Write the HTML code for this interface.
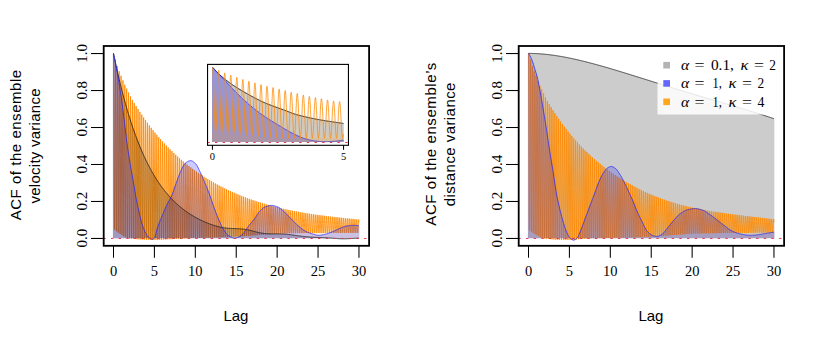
<!DOCTYPE html>
<html><head><meta charset="utf-8"><title>ACF plots</title>
<style>
html,body{margin:0;padding:0;background:#fff}
svg{display:block}
.ax{font-family:"Liberation Serif","DejaVu Serif",serif;font-size:14.5px;fill:#000}
.lab{font-family:"Liberation Sans","DejaVu Sans",sans-serif;font-size:15px;fill:#000}
</style></head><body>
<svg width="830" height="338" viewBox="0 0 830 338">
<rect width="830" height="338" fill="#fff"/>
<path d="M113.5 53.4 L113.66 65.66 L113.81 98.12 L113.97 142.12 L114.13 185.93 L114.29 217.93 L114.44 229.7 L114.6 218.28 L114.76 186.92 L114.91 144.17 L115.07 101.61 L115.23 70.69 L115.39 59.72 L115.54 71.62 L115.7 103.2 L115.86 146.01 L116.01 188.64 L116.17 219.78 L116.33 231.25 L116.49 220.16 L116.64 189.69 L116.8 148.14 L116.96 106.76 L117.11 76.69 L117.27 65.98 L117.43 77.5 L117.59 108.14 L117.74 149.71 L117.9 191.14 L118.06 221.44 L118.21 232.62 L118.37 221.85 L118.53 192.17 L118.69 151.66 L118.84 111.26 L119 81.84 L119.16 71.29 L119.31 82.44 L119.47 112.28 L119.63 152.84 L119.79 193.31 L119.94 222.94 L120.1 233.9 L120.26 223.39 L120.41 194.35 L120.57 154.67 L120.73 115.06 L120.89 86.18 L121.04 75.78 L121.2 86.66 L121.36 115.89 L121.51 155.66 L121.67 195.35 L121.83 224.42 L121.99 235.2 L122.14 224.93 L122.3 196.5 L122.46 157.65 L122.61 118.88 L122.77 90.61 L122.93 80.42 L123.09 91.05 L123.24 119.62 L123.4 158.52 L123.56 197.35 L123.71 225.79 L123.87 236.34 L124.03 226.3 L124.19 198.49 L124.34 160.45 L124.5 122.47 L124.66 94.75 L124.81 84.72 L124.97 95.07 L125.13 123.01 L125.29 161.07 L125.44 199.1 L125.6 226.97 L125.76 237.32 L125.91 227.5 L126.07 200.24 L126.23 162.96 L126.39 125.7 L126.54 98.49 L126.7 88.62 L126.86 98.72 L127.01 126.07 L127.17 163.34 L127.33 200.57 L127.49 227.86 L127.64 237.98 L127.8 228.36 L127.96 201.7 L128.11 165.23 L128.27 128.8 L128.43 102.2 L128.59 92.55 L128.74 102.4 L128.9 129.1 L129.06 165.47 L129.21 201.8 L129.37 228.43 L129.53 238.33 L129.69 228.96 L129.84 202.95 L130 167.38 L130.16 131.84 L130.31 105.87 L130.47 96.42 L130.63 105.99 L130.79 132 L130.94 167.46 L131.1 202.9 L131.26 228.9 L131.41 238.58 L131.57 229.45 L131.73 204.08 L131.89 169.34 L132.04 134.6 L132.2 109.19 L132.36 99.91 L132.51 109.21 L132.67 134.58 L132.83 169.23 L132.99 203.88 L133.14 229.32 L133.3 238.81 L133.46 229.9 L133.61 205.07 L133.77 171.06 L133.93 137.03 L134.09 112.11 L134.24 102.98 L134.4 112.06 L134.56 136.89 L134.71 170.82 L134.87 204.77 L135.03 229.71 L135.19 239.03 L135.34 230.33 L135.5 206.04 L135.66 172.74 L135.81 139.42 L135.97 115.01 L136.13 106.04 L136.29 114.91 L136.44 139.2 L136.6 172.41 L136.76 205.65 L136.91 230.08 L137.07 239.22 L137.23 230.73 L137.39 206.96 L137.54 174.37 L137.7 141.74 L137.86 117.82 L138.01 109.03 L138.17 117.68 L138.33 141.44 L138.49 173.94 L138.64 206.49 L138.8 230.42 L138.96 239.39 L139.11 231.09 L139.27 207.85 L139.43 175.95 L139.59 143.99 L139.74 120.57 L139.9 111.93 L140.06 120.37 L140.21 143.62 L140.37 175.42 L140.53 207.28 L140.69 230.72 L140.84 239.52 L141 231.42 L141.16 208.68 L141.31 177.46 L141.47 146.18 L141.63 123.23 L141.79 114.75 L141.94 123 L142.1 145.73 L142.26 176.85 L142.41 208.03 L142.57 230.98 L142.73 239.62 L142.89 231.71 L143.04 209.47 L143.2 178.92 L143.36 148.3 L143.51 125.83 L143.67 117.51 L143.83 125.55 L143.99 147.78 L144.14 178.23 L144.3 208.75 L144.46 231.23 L144.61 239.7 L144.77 231.99 L144.93 210.23 L145.09 180.34 L145.24 150.37 L145.4 128.35 L145.56 120.19 L145.71 128.04 L145.87 149.77 L146.03 179.57 L146.19 209.45 L146.34 231.47 L146.5 239.78 L146.66 232.25 L146.81 210.97 L146.97 181.72 L147.13 152.37 L147.29 130.81 L147.44 122.8 L147.6 130.46 L147.76 151.72 L147.91 180.88 L148.07 210.13 L148.23 231.69 L148.39 239.85 L148.54 232.5 L148.7 211.69 L148.86 183.06 L149.01 154.33 L149.17 133.2 L149.33 125.34 L149.49 132.82 L149.64 153.61 L149.8 182.14 L149.96 210.78 L150.11 231.9 L150.27 239.9 L150.43 232.73 L150.59 212.37 L150.74 184.35 L150.9 156.23 L151.06 135.53 L151.21 127.81 L151.37 135.11 L151.53 155.45 L151.69 183.37 L151.84 211.41 L152 232.09 L152.16 239.94 L152.31 232.93 L152.47 213.02 L152.63 185.61 L152.79 158.07 L152.94 137.8 L153.1 130.23 L153.26 137.35 L153.41 157.24 L153.57 184.56 L153.73 212 L153.89 232.26 L154.04 239.96 L154.2 233.12 L154.36 213.64 L154.51 186.82 L154.67 159.86 L154.83 140.01 L154.99 132.58 L155.14 139.53 L155.3 158.97 L155.46 185.7 L155.61 212.56 L155.77 232.39 L155.93 239.95 L156.09 233.27 L156.24 214.23 L156.4 187.98 L156.56 161.6 L156.71 142.16 L156.87 134.87 L157.03 141.65 L157.19 160.66 L157.34 186.8 L157.5 213.08 L157.66 232.5 L157.81 239.9 L157.97 233.39 L158.13 214.77 L158.29 189.09 L158.44 163.28 L158.6 144.25 L158.76 137.1 L158.91 143.71 L159.07 162.29 L159.23 187.86 L159.39 213.57 L159.54 232.57 L159.7 239.83 L159.86 233.48 L160.01 215.28 L160.17 190.17 L160.33 164.91 L160.49 146.29 L160.64 139.27 L160.8 145.72 L160.96 163.88 L161.11 188.88 L161.27 214.03 L161.43 232.63 L161.59 239.74 L161.74 233.54 L161.9 215.75 L162.06 191.2 L162.21 166.5 L162.37 148.27 L162.53 141.39 L162.69 147.68 L162.84 165.43 L163 189.87 L163.16 214.47 L163.31 232.66 L163.47 239.64 L163.63 233.59 L163.79 216.21 L163.94 192.2 L164.1 168.04 L164.26 150.2 L164.41 143.45 L164.57 149.58 L164.73 166.93 L164.89 190.83 L165.04 214.88 L165.2 232.69 L165.36 239.53 L165.51 233.63 L165.67 216.64 L165.83 193.17 L165.99 169.53 L166.14 152.08 L166.3 145.46 L166.46 151.44 L166.61 168.39 L166.77 191.75 L166.93 215.28 L167.09 232.71 L167.24 239.41 L167.4 233.66 L167.56 217.06 L167.71 194.11 L167.87 170.99 L168.03 153.91 L168.19 147.42 L168.34 153.26 L168.5 169.82 L168.66 192.66 L168.81 215.68 L168.97 232.73 L169.13 239.3 L169.29 233.69 L169.44 217.47 L169.6 195.03 L169.76 172.42 L169.91 155.7 L170.07 149.34 L170.23 155.02 L170.39 171.21 L170.54 193.55 L170.7 216.07 L170.86 232.76 L171.01 239.2 L171.17 233.73 L171.33 217.88 L171.49 195.93 L171.64 173.81 L171.8 157.44 L171.96 151.2 L172.11 156.75 L172.27 172.57 L172.43 194.41 L172.59 216.44 L172.74 232.78 L172.9 239.1 L173.06 233.76 L173.21 218.27 L173.37 196.8 L173.53 175.16 L173.69 159.13 L173.84 153.02 L174 158.43 L174.16 173.89 L174.31 195.25 L174.47 216.8 L174.63 232.79 L174.79 238.99 L174.94 233.79 L175.1 218.64 L175.26 197.65 L175.42 176.47 L175.57 160.79 L175.73 154.79 L175.89 160.06 L176.04 175.18 L176.2 196.07 L176.36 217.15 L176.52 232.8 L176.67 238.87 L176.83 233.8 L176.99 218.99 L177.14 198.47 L177.3 177.75 L177.46 162.4 L177.62 156.52 L177.77 161.66 L177.93 176.43 L178.09 196.86 L178.24 217.48 L178.4 232.8 L178.56 238.75 L178.72 233.8 L178.87 219.33 L179.03 199.26 L179.19 178.99 L179.34 163.97 L179.5 158.2 L179.66 163.22 L179.82 177.65 L179.97 197.63 L180.13 217.81 L180.29 232.8 L180.44 238.64 L180.6 233.81 L180.76 219.67 L180.92 200.04 L181.07 180.21 L181.23 165.5 L181.39 159.84 L181.54 164.74 L181.7 178.85 L181.86 198.39 L182.02 218.12 L182.17 232.8 L182.33 238.53 L182.49 233.82 L182.64 219.99 L182.8 200.79 L182.96 181.39 L183.12 166.99 L183.27 161.45 L183.43 166.22 L183.59 180.01 L183.74 199.12 L183.9 218.44 L184.06 232.81 L184.22 238.42 L184.37 233.83 L184.53 220.31 L184.69 201.53 L184.84 182.55 L185 168.45 L185.16 163.01 L185.32 167.67 L185.47 181.15 L185.63 199.85 L185.79 218.75 L185.94 232.82 L186.1 238.33 L186.26 233.85 L186.42 220.63 L186.57 202.26 L186.73 183.68 L186.89 169.87 L187.04 164.54 L187.2 169.08 L187.36 182.27 L187.52 200.56 L187.67 219.06 L187.83 232.85 L187.99 238.25 L188.14 233.88 L188.3 220.96 L188.46 202.98 L188.62 184.78 L188.77 171.26 L188.93 166.02 L189.09 170.46 L189.24 183.36 L189.4 201.26 L189.56 219.38 L189.72 232.88 L189.87 238.18 L190.03 233.92 L190.19 221.27 L190.34 203.68 L190.5 185.86 L190.66 172.62 L190.82 167.47 L190.97 171.8 L191.13 184.42 L191.29 201.94 L191.44 219.68 L191.6 232.91 L191.76 238.12 L191.92 233.96 L192.07 221.59 L192.23 204.36 L192.39 186.92 L192.54 173.94 L192.7 168.89 L192.86 173.11 L193.02 185.46 L193.17 202.61 L193.33 219.99 L193.49 232.95 L193.64 238.06 L193.8 233.99 L193.96 221.89 L194.12 205.03 L194.27 187.94 L194.43 175.23 L194.59 170.27 L194.74 174.39 L194.9 186.48 L195.06 203.27 L195.22 220.29 L195.37 232.98 L195.53 238 L195.69 234.03 L195.84 222.19 L196 205.68 L196.16 188.95 L196.32 176.48 L196.47 171.62 L196.63 175.65 L196.79 187.47 L196.94 203.91 L197.1 220.58 L197.26 233.02 L197.42 237.95 L197.57 234.07 L197.73 222.49 L197.89 206.32 L198.04 189.93 L198.2 177.71 L198.36 172.94 L198.52 176.87 L198.67 188.44 L198.83 204.54 L198.99 220.86 L199.14 233.06 L199.3 237.9 L199.46 234.11 L199.62 222.77 L199.77 206.94 L199.93 190.88 L200.09 178.91 L200.24 174.22 L200.4 178.06 L200.56 189.38 L200.72 205.15 L200.87 221.14 L201.03 233.1 L201.19 237.85 L201.34 234.15 L201.5 223.05 L201.66 207.55 L201.82 191.82 L201.97 180.08 L202.13 175.47 L202.29 179.22 L202.44 190.3 L202.6 205.75 L202.76 221.42 L202.92 233.13 L203.07 237.79 L203.23 234.19 L203.39 223.32 L203.54 208.14 L203.7 192.72 L203.86 181.22 L204.02 176.7 L204.17 180.36 L204.33 191.21 L204.49 206.33 L204.64 221.68 L204.8 233.17 L204.96 237.74 L205.12 234.22 L205.27 223.58 L205.43 208.71 L205.59 193.61 L205.74 182.33 L205.9 177.89 L206.06 181.47 L206.22 192.08 L206.37 206.9 L206.53 221.94 L206.69 233.2 L206.84 237.69 L207 234.25 L207.16 223.84 L207.32 209.27 L207.47 194.48 L207.63 183.42 L207.79 179.06 L207.94 182.55 L208.1 192.94 L208.26 207.45 L208.42 222.19 L208.57 233.22 L208.73 237.64 L208.89 234.28 L209.04 224.08 L209.2 209.82 L209.36 195.32 L209.52 184.48 L209.67 180.2 L209.83 183.61 L209.99 193.78 L210.14 207.99 L210.3 222.43 L210.46 233.24 L210.62 237.58 L210.77 234.29 L210.93 224.32 L211.09 210.34 L211.24 196.14 L211.4 185.51 L211.56 181.31 L211.72 184.64 L211.87 194.6 L212.03 208.51 L212.19 222.66 L212.34 233.26 L212.5 237.51 L212.66 234.31 L212.82 224.54 L212.97 210.86 L213.13 196.94 L213.29 186.52 L213.44 182.39 L213.6 185.65 L213.76 195.39 L213.92 209.02 L214.07 222.88 L214.23 233.27 L214.39 237.45 L214.54 234.32 L214.7 224.76 L214.86 211.36 L215.02 197.72 L215.17 187.51 L215.33 183.45 L215.49 186.63 L215.64 196.17 L215.8 209.52 L215.96 223.1 L216.12 233.29 L216.27 237.39 L216.43 234.33 L216.59 224.97 L216.74 211.84 L216.9 198.48 L217.06 188.47 L217.22 184.49 L217.37 187.59 L217.53 196.93 L217.69 210 L217.84 223.31 L218 233.3 L218.16 237.32 L218.32 234.34 L218.47 225.18 L218.63 212.32 L218.79 199.23 L218.94 189.41 L219.1 185.5 L219.26 188.53 L219.42 197.67 L219.57 210.48 L219.73 223.51 L219.89 233.31 L220.04 237.26 L220.2 234.35 L220.36 225.38 L220.52 212.78 L220.67 199.95 L220.83 190.33 L220.99 186.49 L221.14 189.45 L221.3 198.4 L221.46 210.94 L221.62 223.71 L221.77 233.31 L221.93 237.19 L222.09 234.35 L222.24 225.57 L222.4 213.23 L222.56 200.66 L222.72 191.23 L222.87 187.45 L223.03 190.34 L223.19 199.1 L223.34 211.39 L223.5 223.9 L223.66 233.32 L223.82 237.13 L223.97 234.35 L224.13 225.75 L224.29 213.67 L224.44 201.35 L224.6 192.1 L224.76 188.4 L224.92 191.22 L225.07 199.79 L225.23 211.83 L225.39 224.09 L225.54 233.32 L225.7 237.06 L225.86 234.34 L226.02 225.93 L226.17 214.09 L226.33 202.02 L226.49 192.96 L226.64 189.32 L226.8 192.07 L226.96 200.47 L227.12 212.25 L227.27 224.27 L227.43 233.31 L227.59 236.99 L227.74 234.33 L227.9 226.1 L228.06 214.5 L228.22 202.68 L228.37 193.79 L228.53 190.22 L228.69 192.91 L228.84 201.13 L229 212.67 L229.16 224.44 L229.32 233.31 L229.47 236.91 L229.63 234.32 L229.79 226.26 L229.94 214.9 L230.1 203.32 L230.26 194.6 L230.42 191.1 L230.57 193.72 L230.73 201.77 L230.89 213.07 L231.04 224.6 L231.2 233.29 L231.36 236.83 L231.52 234.3 L231.67 226.41 L231.83 215.29 L231.99 203.94 L232.14 195.4 L232.3 191.96 L232.46 194.52 L232.62 202.39 L232.77 213.46 L232.93 224.76 L233.09 233.28 L233.24 236.75 L233.4 234.28 L233.56 226.56 L233.72 215.67 L233.87 204.55 L234.03 196.18 L234.19 192.8 L234.34 195.3 L234.5 203 L234.66 213.84 L234.82 224.91 L234.97 233.25 L235.13 236.67 L235.29 234.25 L235.44 226.69 L235.6 216.03 L235.76 205.14 L235.92 196.93 L236.07 193.62 L236.23 196.06 L236.39 203.6 L236.54 214.21 L236.7 225.05 L236.86 233.23 L237.02 236.57 L237.17 234.22 L237.33 226.82 L237.49 216.38 L237.64 205.71 L237.8 197.67 L237.96 194.42 L238.12 196.8 L238.27 204.18 L238.43 214.56 L238.59 225.17 L238.74 233.19 L238.9 236.47 L239.06 234.17 L239.22 226.93 L239.37 216.71 L239.53 206.27 L239.69 198.39 L239.84 195.2 L240 197.53 L240.16 204.74 L240.32 214.9 L240.47 225.29 L240.63 233.13 L240.79 236.35 L240.94 234.11 L241.1 227.03 L241.26 217.03 L241.42 206.81 L241.57 199.1 L241.73 195.96 L241.89 198.23 L242.04 205.28 L242.2 215.23 L242.36 225.39 L242.52 233.07 L242.67 236.23 L242.83 234.04 L242.99 227.12 L243.14 217.34 L243.3 207.33 L243.46 199.78 L243.62 196.71 L243.77 198.92 L243.93 205.82 L244.09 215.54 L244.24 225.49 L244.4 233.01 L244.56 236.1 L244.72 233.97 L244.87 227.2 L245.03 217.63 L245.19 207.84 L245.34 200.45 L245.5 197.44 L245.66 199.59 L245.82 206.33 L245.97 215.85 L246.13 225.58 L246.29 232.94 L246.44 235.97 L246.6 233.89 L246.76 227.28 L246.92 217.92 L247.07 208.34 L247.23 201.1 L247.39 198.15 L247.54 200.25 L247.7 206.84 L247.86 216.14 L248.02 225.66 L248.17 232.86 L248.33 235.84 L248.49 233.81 L248.64 227.34 L248.8 218.19 L248.96 208.82 L249.12 201.74 L249.27 198.84 L249.43 200.89 L249.59 207.33 L249.74 216.42 L249.9 225.73 L250.06 232.78 L250.22 235.7 L250.37 233.72 L250.53 227.4 L250.69 218.45 L250.84 209.28 L251 202.36 L251.16 199.52 L251.32 201.52 L251.47 207.8 L251.63 216.69 L251.79 225.8 L251.94 232.7 L252.1 235.55 L252.26 233.62 L252.42 227.45 L252.57 218.7 L252.73 209.74 L252.89 202.96 L253.04 200.18 L253.2 202.12 L253.36 208.27 L253.52 216.96 L253.67 225.86 L253.83 232.6 L253.99 235.4 L254.14 233.52 L254.3 227.49 L254.46 218.94 L254.62 210.18 L254.77 203.55 L254.93 200.82 L255.09 202.72 L255.24 208.72 L255.4 217.21 L255.56 225.91 L255.72 232.51 L255.87 235.25 L256.03 233.42 L256.19 227.53 L256.34 219.17 L256.5 210.61 L256.66 204.12 L256.82 201.45 L256.97 203.3 L257.13 209.16 L257.29 217.45 L257.44 225.96 L257.6 232.42 L257.76 235.1 L257.92 233.31 L258.07 227.56 L258.23 219.4 L258.39 211.02 L258.54 204.68 L258.7 202.06 L258.86 203.86 L259.02 209.59 L259.17 217.69 L259.33 226.01 L259.49 232.33 L259.64 234.95 L259.8 233.21 L259.96 227.59 L260.12 219.62 L260.27 211.43 L260.43 205.22 L260.59 202.66 L260.74 204.41 L260.9 210 L261.06 217.93 L261.22 226.06 L261.37 232.24 L261.53 234.81 L261.69 233.12 L261.84 227.63 L262 219.83 L262.16 211.82 L262.32 205.75 L262.47 203.24 L262.63 204.95 L262.79 210.41 L262.94 218.16 L263.1 226.11 L263.26 232.15 L263.42 234.68 L263.57 233.02 L263.73 227.66 L263.89 220.04 L264.04 212.21 L264.2 206.27 L264.36 203.81 L264.52 205.48 L264.67 210.81 L264.83 218.38 L264.99 226.16 L265.14 232.07 L265.3 234.55 L265.46 232.94 L265.62 227.7 L265.77 220.25 L265.93 212.59 L266.09 206.78 L266.24 204.36 L266.4 205.99 L266.56 211.2 L266.72 218.6 L266.87 226.21 L267.03 232 L267.19 234.42 L267.34 232.85 L267.5 227.73 L267.66 220.45 L267.82 212.96 L267.97 207.27 L268.13 204.9 L268.29 206.48 L268.44 211.58 L268.6 218.82 L268.76 226.26 L268.92 231.91 L269.07 234.29 L269.23 232.76 L269.39 227.76 L269.54 220.64 L269.7 213.31 L269.86 207.75 L270.02 205.43 L270.17 206.97 L270.33 211.95 L270.49 219.02 L270.64 226.3 L270.8 231.83 L270.96 234.16 L271.12 232.67 L271.27 227.78 L271.43 220.82 L271.59 213.66 L271.74 208.21 L271.9 205.94 L272.06 207.44 L272.22 212.3 L272.37 219.22 L272.53 226.33 L272.69 231.75 L272.84 234.03 L273 232.58 L273.16 227.8 L273.32 221 L273.47 213.99 L273.63 208.67 L273.79 206.44 L273.94 207.9 L274.1 212.65 L274.26 219.41 L274.42 226.37 L274.57 231.67 L274.73 233.9 L274.89 232.49 L275.04 227.83 L275.2 221.17 L275.36 214.32 L275.52 209.11 L275.67 206.93 L275.83 208.35 L275.99 212.99 L276.14 219.6 L276.3 226.41 L276.46 231.6 L276.62 233.79 L276.77 232.41 L276.93 227.85 L277.09 221.34 L277.24 214.64 L277.4 209.54 L277.56 207.4 L277.72 208.79 L277.87 213.33 L278.03 219.79 L278.19 226.45 L278.34 231.53 L278.5 233.68 L278.66 232.34 L278.82 227.88 L278.97 221.52 L279.13 214.95 L279.29 209.96 L279.44 207.86 L279.6 209.21 L279.76 213.65 L279.92 219.98 L280.07 226.5 L280.23 231.48 L280.39 233.59 L280.54 232.28 L280.7 227.92 L280.86 221.69 L281.02 215.26 L281.17 210.37 L281.33 208.31 L281.49 209.63 L281.64 213.97 L281.8 220.17 L281.96 226.56 L282.12 231.44 L282.27 233.51 L282.43 232.24 L282.59 227.97 L282.74 221.87 L282.9 215.57 L283.06 210.77 L283.22 208.74 L283.37 210.03 L283.53 214.29 L283.69 220.36 L283.84 226.63 L284 231.42 L284.16 233.45 L284.32 232.21 L284.47 228.03 L284.63 222.04 L284.79 215.87 L284.94 211.16 L285.1 209.17 L285.26 210.43 L285.42 214.6 L285.57 220.55 L285.73 226.7 L285.89 231.4 L286.04 233.4 L286.2 232.18 L286.36 228.09 L286.52 222.22 L286.67 216.16 L286.83 211.54 L286.99 209.58 L287.14 210.81 L287.3 214.9 L287.46 220.74 L287.62 226.77 L287.77 231.38 L287.93 233.35 L288.09 232.16 L288.24 228.15 L288.4 222.39 L288.56 216.45 L288.72 211.9 L288.87 209.98 L289.03 211.19 L289.19 215.19 L289.34 220.92 L289.5 226.84 L289.66 231.37 L289.82 233.31 L289.97 232.14 L290.13 228.21 L290.29 222.56 L290.44 216.72 L290.6 212.26 L290.76 210.37 L290.92 211.55 L291.07 215.48 L291.23 221.1 L291.39 226.91 L291.54 231.36 L291.7 233.26 L291.86 232.13 L292.02 228.26 L292.17 222.72 L292.33 216.99 L292.49 212.61 L292.64 210.75 L292.8 211.9 L292.96 215.76 L293.12 221.27 L293.27 226.98 L293.43 231.35 L293.59 233.23 L293.74 232.11 L293.9 228.32 L294.06 222.88 L294.22 217.26 L294.37 212.95 L294.53 211.12 L294.69 212.25 L294.84 216.03 L295 221.45 L295.16 227.05 L295.32 231.35 L295.47 233.19 L295.63 232.1 L295.79 228.38 L295.94 223.04 L296.1 217.51 L296.26 213.28 L296.42 211.48 L296.57 212.58 L296.73 216.29 L296.89 221.61 L297.04 227.12 L297.2 231.34 L297.36 233.16 L297.52 232.09 L297.67 228.44 L297.83 223.2 L297.99 217.76 L298.15 213.6 L298.3 211.82 L298.46 212.9 L298.62 216.55 L298.77 221.78 L298.93 227.19 L299.09 231.35 L299.25 233.13 L299.4 232.09 L299.56 228.51 L299.72 223.35 L299.87 218.01 L300.03 213.91 L300.19 212.16 L300.35 213.22 L300.5 216.8 L300.66 221.94 L300.82 227.26 L300.97 231.35 L301.13 233.11 L301.29 232.09 L301.45 228.57 L301.6 223.5 L301.76 218.24 L301.92 214.21 L302.07 212.49 L302.23 213.53 L302.39 217.04 L302.55 222.1 L302.7 227.34 L302.86 231.36 L303.02 233.1 L303.17 232.1 L303.33 228.63 L303.49 223.65 L303.65 218.48 L303.8 214.51 L303.96 212.81 L304.12 213.82 L304.27 217.28 L304.43 222.25 L304.59 227.41 L304.75 231.37 L304.9 233.09 L305.06 232.1 L305.22 228.7 L305.37 223.79 L305.53 218.7 L305.69 214.8 L305.85 213.12 L306 214.11 L306.16 217.51 L306.32 222.41 L306.47 227.48 L306.63 231.38 L306.79 233.07 L306.95 232.11 L307.1 228.76 L307.26 223.93 L307.42 218.92 L307.57 215.07 L307.73 213.42 L307.89 214.39 L308.05 217.74 L308.2 222.55 L308.36 227.55 L308.52 231.39 L308.67 233.06 L308.83 232.12 L308.99 228.83 L309.15 224.07 L309.3 219.14 L309.46 215.35 L309.62 213.71 L309.77 214.67 L309.93 217.96 L310.09 222.7 L310.25 227.62 L310.4 231.41 L310.56 233.05 L310.72 232.13 L310.87 228.89 L311.03 224.21 L311.19 219.35 L311.35 215.61 L311.5 214 L311.66 214.94 L311.82 218.17 L311.97 222.84 L312.13 227.69 L312.29 231.42 L312.45 233.04 L312.6 232.13 L312.76 228.94 L312.92 224.34 L313.07 219.55 L313.23 215.87 L313.39 214.27 L313.55 215.2 L313.7 218.38 L313.86 222.98 L314.02 227.75 L314.17 231.43 L314.33 233.03 L314.49 232.14 L314.65 229 L314.8 224.46 L314.96 219.75 L315.12 216.12 L315.27 214.55 L315.43 215.45 L315.59 218.59 L315.75 223.11 L315.9 227.81 L316.06 231.44 L316.22 233.02 L316.37 232.15 L316.53 229.06 L316.69 224.59 L316.85 219.94 L317 216.36 L317.16 214.81 L317.32 215.7 L317.47 218.78 L317.63 223.24 L317.79 227.88 L317.95 231.45 L318.1 233.01 L318.26 232.15 L318.42 229.11 L318.57 224.71 L318.73 220.13 L318.89 216.6 L319.05 215.07 L319.2 215.94 L319.36 218.98 L319.52 223.37 L319.67 227.94 L319.83 231.46 L319.99 233 L320.15 232.16 L320.3 229.17 L320.46 224.83 L320.62 220.31 L320.77 216.83 L320.93 215.32 L321.09 216.18 L321.25 219.17 L321.4 223.49 L321.56 228 L321.72 231.47 L321.87 232.99 L322.03 232.17 L322.19 229.22 L322.35 224.94 L322.5 220.49 L322.66 217.06 L322.82 215.57 L322.97 216.41 L323.13 219.35 L323.29 223.62 L323.45 228.05 L323.6 231.48 L323.76 232.99 L323.92 232.17 L324.07 229.27 L324.23 225.06 L324.39 220.67 L324.55 217.29 L324.7 215.81 L324.86 216.63 L325.02 219.53 L325.17 223.74 L325.33 228.11 L325.49 231.49 L325.65 232.98 L325.8 232.18 L325.96 229.32 L326.12 225.17 L326.27 220.84 L326.43 217.5 L326.59 216.04 L326.75 216.85 L326.9 219.71 L327.06 223.85 L327.22 228.17 L327.37 231.5 L327.53 232.97 L327.69 232.19 L327.85 229.37 L328 225.28 L328.16 221.01 L328.32 217.72 L328.47 216.28 L328.63 217.07 L328.79 219.89 L328.95 223.97 L329.1 228.22 L329.26 231.51 L329.42 232.96 L329.57 232.19 L329.73 229.42 L329.89 225.38 L330.05 221.18 L330.2 217.93 L330.36 216.5 L330.52 217.28 L330.67 220.06 L330.83 224.08 L330.99 228.28 L331.15 231.52 L331.3 232.96 L331.46 232.2 L331.62 229.47 L331.77 225.49 L331.93 221.34 L332.09 218.13 L332.25 216.72 L332.4 217.49 L332.56 220.23 L332.72 224.19 L332.87 228.33 L333.03 231.53 L333.19 232.95 L333.35 232.21 L333.5 229.51 L333.66 225.59 L333.82 221.5 L333.97 218.33 L334.13 216.94 L334.29 217.7 L334.45 220.39 L334.6 224.3 L334.76 228.38 L334.92 231.55 L335.07 232.95 L335.23 232.22 L335.39 229.56 L335.55 225.69 L335.7 221.66 L335.86 218.53 L336.02 217.16 L336.17 217.9 L336.33 220.55 L336.49 224.41 L336.65 228.44 L336.8 231.56 L336.96 232.94 L337.12 232.22 L337.27 229.61 L337.43 225.79 L337.59 221.81 L337.75 218.73 L337.9 217.37 L338.06 218.1 L338.22 220.71 L338.37 224.52 L338.53 228.49 L338.69 231.57 L338.85 232.94 L339 232.23 L339.16 229.65 L339.32 225.89 L339.47 221.96 L339.63 218.92 L339.79 217.58 L339.95 218.29 L340.1 220.87 L340.26 224.62 L340.42 228.54 L340.57 231.58 L340.73 232.93 L340.89 232.24 L341.05 229.7 L341.2 225.99 L341.36 222.11 L341.52 219.11 L341.67 217.78 L341.83 218.48 L341.99 221.02 L342.15 224.72 L342.3 228.59 L342.46 231.59 L342.62 232.93 L342.77 232.25 L342.93 229.74 L343.09 226.08 L343.25 222.26 L343.4 219.29 L343.56 217.98 L343.72 218.67 L343.87 221.18 L344.03 224.82 L344.19 228.64 L344.35 231.6 L344.5 232.92 L344.66 232.26 L344.82 229.78 L344.97 226.18 L345.13 222.41 L345.29 219.48 L345.45 218.18 L345.6 218.86 L345.76 221.33 L345.92 224.93 L346.07 228.69 L346.23 231.61 L346.39 232.92 L346.55 232.26 L346.7 229.83 L346.86 226.27 L347.02 222.55 L347.17 219.66 L347.33 218.38 L347.49 219.04 L347.65 221.48 L347.8 225.03 L347.96 228.74 L348.12 231.63 L348.27 232.92 L348.43 232.27 L348.59 229.87 L348.75 226.36 L348.9 222.69 L349.06 219.84 L349.22 218.57 L349.37 219.23 L349.53 221.62 L349.69 225.12 L349.85 228.79 L350 231.64 L350.16 232.91 L350.32 232.28 L350.47 229.91 L350.63 226.45 L350.79 222.83 L350.95 220.02 L351.1 218.76 L351.26 219.41 L351.42 221.77 L351.57 225.22 L351.73 228.84 L351.89 231.65 L352.05 232.91 L352.2 232.29 L352.36 229.96 L352.52 226.55 L352.67 222.97 L352.83 220.19 L352.99 218.95 L353.15 219.58 L353.3 221.92 L353.46 225.32 L353.62 228.89 L353.77 231.66 L353.93 232.91 L354.09 232.3 L354.25 230 L354.4 226.63 L354.56 223.11 L354.72 220.36 L354.87 219.14 L355.03 219.76 L355.19 222.06 L355.35 225.42 L355.5 228.94 L355.66 231.68 L355.82 232.91 L355.97 232.31 L356.13 230.04 L356.29 226.72 L356.45 223.24 L356.6 220.54 L356.76 219.33 L356.92 219.94 L357.07 222.2 L357.23 225.51 L357.39 228.99 L357.55 231.69 L357.7 232.91 L357.86 232.32 L358.02 230.09 L358.17 226.81 L358.33 223.38 L358.49 220.71 L358.65 219.51 L358.8 220.11 L358.96 222.34 L359.36 222.34 L359.36 238.3 L112.9 238.3 L112.9 53.4Z" fill="rgba(255,150,0,0.14)"/><path d="M113.5 53.4 L113.66 65.66 L113.81 98.12 L113.97 142.12 L114.13 185.93 L114.29 217.93 L114.44 229.7 L114.6 218.28 L114.76 186.92 L114.91 144.17 L115.07 101.61 L115.23 70.69 L115.39 59.72 L115.54 71.62 L115.7 103.2 L115.86 146.01 L116.01 188.64 L116.17 219.78 L116.33 231.25 L116.49 220.16 L116.64 189.69 L116.8 148.14 L116.96 106.76 L117.11 76.69 L117.27 65.98 L117.43 77.5 L117.59 108.14 L117.74 149.71 L117.9 191.14 L118.06 221.44 L118.21 232.62 L118.37 221.85 L118.53 192.17 L118.69 151.66 L118.84 111.26 L119 81.84 L119.16 71.29 L119.31 82.44 L119.47 112.28 L119.63 152.84 L119.79 193.31 L119.94 222.94 L120.1 233.9 L120.26 223.39 L120.41 194.35 L120.57 154.67 L120.73 115.06 L120.89 86.18 L121.04 75.78 L121.2 86.66 L121.36 115.89 L121.51 155.66 L121.67 195.35 L121.83 224.42 L121.99 235.2 L122.14 224.93 L122.3 196.5 L122.46 157.65 L122.61 118.88 L122.77 90.61 L122.93 80.42 L123.09 91.05 L123.24 119.62 L123.4 158.52 L123.56 197.35 L123.71 225.79 L123.87 236.34 L124.03 226.3 L124.19 198.49 L124.34 160.45 L124.5 122.47 L124.66 94.75 L124.81 84.72 L124.97 95.07 L125.13 123.01 L125.29 161.07 L125.44 199.1 L125.6 226.97 L125.76 237.32 L125.91 227.5 L126.07 200.24 L126.23 162.96 L126.39 125.7 L126.54 98.49 L126.7 88.62 L126.86 98.72 L127.01 126.07 L127.17 163.34 L127.33 200.57 L127.49 227.86 L127.64 237.98 L127.8 228.36 L127.96 201.7 L128.11 165.23 L128.27 128.8 L128.43 102.2 L128.59 92.55 L128.74 102.4 L128.9 129.1 L129.06 165.47 L129.21 201.8 L129.37 228.43 L129.53 238.33 L129.69 228.96 L129.84 202.95 L130 167.38 L130.16 131.84 L130.31 105.87 L130.47 96.42 L130.63 105.99 L130.79 132 L130.94 167.46 L131.1 202.9 L131.26 228.9 L131.41 238.58 L131.57 229.45 L131.73 204.08 L131.89 169.34 L132.04 134.6 L132.2 109.19 L132.36 99.91 L132.51 109.21 L132.67 134.58 L132.83 169.23 L132.99 203.88 L133.14 229.32 L133.3 238.81 L133.46 229.9 L133.61 205.07 L133.77 171.06 L133.93 137.03 L134.09 112.11 L134.24 102.98 L134.4 112.06 L134.56 136.89 L134.71 170.82 L134.87 204.77 L135.03 229.71 L135.19 239.03 L135.34 230.33 L135.5 206.04 L135.66 172.74 L135.81 139.42 L135.97 115.01 L136.13 106.04 L136.29 114.91 L136.44 139.2 L136.6 172.41 L136.76 205.65 L136.91 230.08 L137.07 239.22 L137.23 230.73 L137.39 206.96 L137.54 174.37 L137.7 141.74 L137.86 117.82 L138.01 109.03 L138.17 117.68 L138.33 141.44 L138.49 173.94 L138.64 206.49 L138.8 230.42 L138.96 239.39 L139.11 231.09 L139.27 207.85 L139.43 175.95 L139.59 143.99 L139.74 120.57 L139.9 111.93 L140.06 120.37 L140.21 143.62 L140.37 175.42 L140.53 207.28 L140.69 230.72 L140.84 239.52 L141 231.42 L141.16 208.68 L141.31 177.46 L141.47 146.18 L141.63 123.23 L141.79 114.75 L141.94 123 L142.1 145.73 L142.26 176.85 L142.41 208.03 L142.57 230.98 L142.73 239.62 L142.89 231.71 L143.04 209.47 L143.2 178.92 L143.36 148.3 L143.51 125.83 L143.67 117.51 L143.83 125.55 L143.99 147.78 L144.14 178.23 L144.3 208.75 L144.46 231.23 L144.61 239.7 L144.77 231.99 L144.93 210.23 L145.09 180.34 L145.24 150.37 L145.4 128.35 L145.56 120.19 L145.71 128.04 L145.87 149.77 L146.03 179.57 L146.19 209.45 L146.34 231.47 L146.5 239.78 L146.66 232.25 L146.81 210.97 L146.97 181.72 L147.13 152.37 L147.29 130.81 L147.44 122.8 L147.6 130.46 L147.76 151.72 L147.91 180.88 L148.07 210.13 L148.23 231.69 L148.39 239.85 L148.54 232.5 L148.7 211.69 L148.86 183.06 L149.01 154.33 L149.17 133.2 L149.33 125.34 L149.49 132.82 L149.64 153.61 L149.8 182.14 L149.96 210.78 L150.11 231.9 L150.27 239.9 L150.43 232.73 L150.59 212.37 L150.74 184.35 L150.9 156.23 L151.06 135.53 L151.21 127.81 L151.37 135.11 L151.53 155.45 L151.69 183.37 L151.84 211.41 L152 232.09 L152.16 239.94 L152.31 232.93 L152.47 213.02 L152.63 185.61 L152.79 158.07 L152.94 137.8 L153.1 130.23 L153.26 137.35 L153.41 157.24 L153.57 184.56 L153.73 212 L153.89 232.26 L154.04 239.96 L154.2 233.12 L154.36 213.64 L154.51 186.82 L154.67 159.86 L154.83 140.01 L154.99 132.58 L155.14 139.53 L155.3 158.97 L155.46 185.7 L155.61 212.56 L155.77 232.39 L155.93 239.95 L156.09 233.27 L156.24 214.23 L156.4 187.98 L156.56 161.6 L156.71 142.16 L156.87 134.87 L157.03 141.65 L157.19 160.66 L157.34 186.8 L157.5 213.08 L157.66 232.5 L157.81 239.9 L157.97 233.39 L158.13 214.77 L158.29 189.09 L158.44 163.28 L158.6 144.25 L158.76 137.1 L158.91 143.71 L159.07 162.29 L159.23 187.86 L159.39 213.57 L159.54 232.57 L159.7 239.83 L159.86 233.48 L160.01 215.28 L160.17 190.17 L160.33 164.91 L160.49 146.29 L160.64 139.27 L160.8 145.72 L160.96 163.88 L161.11 188.88 L161.27 214.03 L161.43 232.63 L161.59 239.74 L161.74 233.54 L161.9 215.75 L162.06 191.2 L162.21 166.5 L162.37 148.27 L162.53 141.39 L162.69 147.68 L162.84 165.43 L163 189.87 L163.16 214.47 L163.31 232.66 L163.47 239.64 L163.63 233.59 L163.79 216.21 L163.94 192.2 L164.1 168.04 L164.26 150.2 L164.41 143.45 L164.57 149.58 L164.73 166.93 L164.89 190.83 L165.04 214.88 L165.2 232.69 L165.36 239.53 L165.51 233.63 L165.67 216.64 L165.83 193.17 L165.99 169.53 L166.14 152.08 L166.3 145.46 L166.46 151.44 L166.61 168.39 L166.77 191.75 L166.93 215.28 L167.09 232.71 L167.24 239.41 L167.4 233.66 L167.56 217.06 L167.71 194.11 L167.87 170.99 L168.03 153.91 L168.19 147.42 L168.34 153.26 L168.5 169.82 L168.66 192.66 L168.81 215.68 L168.97 232.73 L169.13 239.3 L169.29 233.69 L169.44 217.47 L169.6 195.03 L169.76 172.42 L169.91 155.7 L170.07 149.34 L170.23 155.02 L170.39 171.21 L170.54 193.55 L170.7 216.07 L170.86 232.76 L171.01 239.2 L171.17 233.73 L171.33 217.88 L171.49 195.93 L171.64 173.81 L171.8 157.44 L171.96 151.2 L172.11 156.75 L172.27 172.57 L172.43 194.41 L172.59 216.44 L172.74 232.78 L172.9 239.1 L173.06 233.76 L173.21 218.27 L173.37 196.8 L173.53 175.16 L173.69 159.13 L173.84 153.02 L174 158.43 L174.16 173.89 L174.31 195.25 L174.47 216.8 L174.63 232.79 L174.79 238.99 L174.94 233.79 L175.1 218.64 L175.26 197.65 L175.42 176.47 L175.57 160.79 L175.73 154.79 L175.89 160.06 L176.04 175.18 L176.2 196.07 L176.36 217.15 L176.52 232.8 L176.67 238.87 L176.83 233.8 L176.99 218.99 L177.14 198.47 L177.3 177.75 L177.46 162.4 L177.62 156.52 L177.77 161.66 L177.93 176.43 L178.09 196.86 L178.24 217.48 L178.4 232.8 L178.56 238.75 L178.72 233.8 L178.87 219.33 L179.03 199.26 L179.19 178.99 L179.34 163.97 L179.5 158.2 L179.66 163.22 L179.82 177.65 L179.97 197.63 L180.13 217.81 L180.29 232.8 L180.44 238.64 L180.6 233.81 L180.76 219.67 L180.92 200.04 L181.07 180.21 L181.23 165.5 L181.39 159.84 L181.54 164.74 L181.7 178.85 L181.86 198.39 L182.02 218.12 L182.17 232.8 L182.33 238.53 L182.49 233.82 L182.64 219.99 L182.8 200.79 L182.96 181.39 L183.12 166.99 L183.27 161.45 L183.43 166.22 L183.59 180.01 L183.74 199.12 L183.9 218.44 L184.06 232.81 L184.22 238.42 L184.37 233.83 L184.53 220.31 L184.69 201.53 L184.84 182.55 L185 168.45 L185.16 163.01 L185.32 167.67 L185.47 181.15 L185.63 199.85 L185.79 218.75 L185.94 232.82 L186.1 238.33 L186.26 233.85 L186.42 220.63 L186.57 202.26 L186.73 183.68 L186.89 169.87 L187.04 164.54 L187.2 169.08 L187.36 182.27 L187.52 200.56 L187.67 219.06 L187.83 232.85 L187.99 238.25 L188.14 233.88 L188.3 220.96 L188.46 202.98 L188.62 184.78 L188.77 171.26 L188.93 166.02 L189.09 170.46 L189.24 183.36 L189.4 201.26 L189.56 219.38 L189.72 232.88 L189.87 238.18 L190.03 233.92 L190.19 221.27 L190.34 203.68 L190.5 185.86 L190.66 172.62 L190.82 167.47 L190.97 171.8 L191.13 184.42 L191.29 201.94 L191.44 219.68 L191.6 232.91 L191.76 238.12 L191.92 233.96 L192.07 221.59 L192.23 204.36 L192.39 186.92 L192.54 173.94 L192.7 168.89 L192.86 173.11 L193.02 185.46 L193.17 202.61 L193.33 219.99 L193.49 232.95 L193.64 238.06 L193.8 233.99 L193.96 221.89 L194.12 205.03 L194.27 187.94 L194.43 175.23 L194.59 170.27 L194.74 174.39 L194.9 186.48 L195.06 203.27 L195.22 220.29 L195.37 232.98 L195.53 238 L195.69 234.03 L195.84 222.19 L196 205.68 L196.16 188.95 L196.32 176.48 L196.47 171.62 L196.63 175.65 L196.79 187.47 L196.94 203.91 L197.1 220.58 L197.26 233.02 L197.42 237.95 L197.57 234.07 L197.73 222.49 L197.89 206.32 L198.04 189.93 L198.2 177.71 L198.36 172.94 L198.52 176.87 L198.67 188.44 L198.83 204.54 L198.99 220.86 L199.14 233.06 L199.3 237.9 L199.46 234.11 L199.62 222.77 L199.77 206.94 L199.93 190.88 L200.09 178.91 L200.24 174.22 L200.4 178.06 L200.56 189.38 L200.72 205.15 L200.87 221.14 L201.03 233.1 L201.19 237.85 L201.34 234.15 L201.5 223.05 L201.66 207.55 L201.82 191.82 L201.97 180.08 L202.13 175.47 L202.29 179.22 L202.44 190.3 L202.6 205.75 L202.76 221.42 L202.92 233.13 L203.07 237.79 L203.23 234.19 L203.39 223.32 L203.54 208.14 L203.7 192.72 L203.86 181.22 L204.02 176.7 L204.17 180.36 L204.33 191.21 L204.49 206.33 L204.64 221.68 L204.8 233.17 L204.96 237.74 L205.12 234.22 L205.27 223.58 L205.43 208.71 L205.59 193.61 L205.74 182.33 L205.9 177.89 L206.06 181.47 L206.22 192.08 L206.37 206.9 L206.53 221.94 L206.69 233.2 L206.84 237.69 L207 234.25 L207.16 223.84 L207.32 209.27 L207.47 194.48 L207.63 183.42 L207.79 179.06 L207.94 182.55 L208.1 192.94 L208.26 207.45 L208.42 222.19 L208.57 233.22 L208.73 237.64 L208.89 234.28 L209.04 224.08 L209.2 209.82 L209.36 195.32 L209.52 184.48 L209.67 180.2 L209.83 183.61 L209.99 193.78 L210.14 207.99 L210.3 222.43 L210.46 233.24 L210.62 237.58 L210.77 234.29 L210.93 224.32 L211.09 210.34 L211.24 196.14 L211.4 185.51 L211.56 181.31 L211.72 184.64 L211.87 194.6 L212.03 208.51 L212.19 222.66 L212.34 233.26 L212.5 237.51 L212.66 234.31 L212.82 224.54 L212.97 210.86 L213.13 196.94 L213.29 186.52 L213.44 182.39 L213.6 185.65 L213.76 195.39 L213.92 209.02 L214.07 222.88 L214.23 233.27 L214.39 237.45 L214.54 234.32 L214.7 224.76 L214.86 211.36 L215.02 197.72 L215.17 187.51 L215.33 183.45 L215.49 186.63 L215.64 196.17 L215.8 209.52 L215.96 223.1 L216.12 233.29 L216.27 237.39 L216.43 234.33 L216.59 224.97 L216.74 211.84 L216.9 198.48 L217.06 188.47 L217.22 184.49 L217.37 187.59 L217.53 196.93 L217.69 210 L217.84 223.31 L218 233.3 L218.16 237.32 L218.32 234.34 L218.47 225.18 L218.63 212.32 L218.79 199.23 L218.94 189.41 L219.1 185.5 L219.26 188.53 L219.42 197.67 L219.57 210.48 L219.73 223.51 L219.89 233.31 L220.04 237.26 L220.2 234.35 L220.36 225.38 L220.52 212.78 L220.67 199.95 L220.83 190.33 L220.99 186.49 L221.14 189.45 L221.3 198.4 L221.46 210.94 L221.62 223.71 L221.77 233.31 L221.93 237.19 L222.09 234.35 L222.24 225.57 L222.4 213.23 L222.56 200.66 L222.72 191.23 L222.87 187.45 L223.03 190.34 L223.19 199.1 L223.34 211.39 L223.5 223.9 L223.66 233.32 L223.82 237.13 L223.97 234.35 L224.13 225.75 L224.29 213.67 L224.44 201.35 L224.6 192.1 L224.76 188.4 L224.92 191.22 L225.07 199.79 L225.23 211.83 L225.39 224.09 L225.54 233.32 L225.7 237.06 L225.86 234.34 L226.02 225.93 L226.17 214.09 L226.33 202.02 L226.49 192.96 L226.64 189.32 L226.8 192.07 L226.96 200.47 L227.12 212.25 L227.27 224.27 L227.43 233.31 L227.59 236.99 L227.74 234.33 L227.9 226.1 L228.06 214.5 L228.22 202.68 L228.37 193.79 L228.53 190.22 L228.69 192.91 L228.84 201.13 L229 212.67 L229.16 224.44 L229.32 233.31 L229.47 236.91 L229.63 234.32 L229.79 226.26 L229.94 214.9 L230.1 203.32 L230.26 194.6 L230.42 191.1 L230.57 193.72 L230.73 201.77 L230.89 213.07 L231.04 224.6 L231.2 233.29 L231.36 236.83 L231.52 234.3 L231.67 226.41 L231.83 215.29 L231.99 203.94 L232.14 195.4 L232.3 191.96 L232.46 194.52 L232.62 202.39 L232.77 213.46 L232.93 224.76 L233.09 233.28 L233.24 236.75 L233.4 234.28 L233.56 226.56 L233.72 215.67 L233.87 204.55 L234.03 196.18 L234.19 192.8 L234.34 195.3 L234.5 203 L234.66 213.84 L234.82 224.91 L234.97 233.25 L235.13 236.67 L235.29 234.25 L235.44 226.69 L235.6 216.03 L235.76 205.14 L235.92 196.93 L236.07 193.62 L236.23 196.06 L236.39 203.6 L236.54 214.21 L236.7 225.05 L236.86 233.23 L237.02 236.57 L237.17 234.22 L237.33 226.82 L237.49 216.38 L237.64 205.71 L237.8 197.67 L237.96 194.42 L238.12 196.8 L238.27 204.18 L238.43 214.56 L238.59 225.17 L238.74 233.19 L238.9 236.47 L239.06 234.17 L239.22 226.93 L239.37 216.71 L239.53 206.27 L239.69 198.39 L239.84 195.2 L240 197.53 L240.16 204.74 L240.32 214.9 L240.47 225.29 L240.63 233.13 L240.79 236.35 L240.94 234.11 L241.1 227.03 L241.26 217.03 L241.42 206.81 L241.57 199.1 L241.73 195.96 L241.89 198.23 L242.04 205.28 L242.2 215.23 L242.36 225.39 L242.52 233.07 L242.67 236.23 L242.83 234.04 L242.99 227.12 L243.14 217.34 L243.3 207.33 L243.46 199.78 L243.62 196.71 L243.77 198.92 L243.93 205.82 L244.09 215.54 L244.24 225.49 L244.4 233.01 L244.56 236.1 L244.72 233.97 L244.87 227.2 L245.03 217.63 L245.19 207.84 L245.34 200.45 L245.5 197.44 L245.66 199.59 L245.82 206.33 L245.97 215.85 L246.13 225.58 L246.29 232.94 L246.44 235.97 L246.6 233.89 L246.76 227.28 L246.92 217.92 L247.07 208.34 L247.23 201.1 L247.39 198.15 L247.54 200.25 L247.7 206.84 L247.86 216.14 L248.02 225.66 L248.17 232.86 L248.33 235.84 L248.49 233.81 L248.64 227.34 L248.8 218.19 L248.96 208.82 L249.12 201.74 L249.27 198.84 L249.43 200.89 L249.59 207.33 L249.74 216.42 L249.9 225.73 L250.06 232.78 L250.22 235.7 L250.37 233.72 L250.53 227.4 L250.69 218.45 L250.84 209.28 L251 202.36 L251.16 199.52 L251.32 201.52 L251.47 207.8 L251.63 216.69 L251.79 225.8 L251.94 232.7 L252.1 235.55 L252.26 233.62 L252.42 227.45 L252.57 218.7 L252.73 209.74 L252.89 202.96 L253.04 200.18 L253.2 202.12 L253.36 208.27 L253.52 216.96 L253.67 225.86 L253.83 232.6 L253.99 235.4 L254.14 233.52 L254.3 227.49 L254.46 218.94 L254.62 210.18 L254.77 203.55 L254.93 200.82 L255.09 202.72 L255.24 208.72 L255.4 217.21 L255.56 225.91 L255.72 232.51 L255.87 235.25 L256.03 233.42 L256.19 227.53 L256.34 219.17 L256.5 210.61 L256.66 204.12 L256.82 201.45 L256.97 203.3 L257.13 209.16 L257.29 217.45 L257.44 225.96 L257.6 232.42 L257.76 235.1 L257.92 233.31 L258.07 227.56 L258.23 219.4 L258.39 211.02 L258.54 204.68 L258.7 202.06 L258.86 203.86 L259.02 209.59 L259.17 217.69 L259.33 226.01 L259.49 232.33 L259.64 234.95 L259.8 233.21 L259.96 227.59 L260.12 219.62 L260.27 211.43 L260.43 205.22 L260.59 202.66 L260.74 204.41 L260.9 210 L261.06 217.93 L261.22 226.06 L261.37 232.24 L261.53 234.81 L261.69 233.12 L261.84 227.63 L262 219.83 L262.16 211.82 L262.32 205.75 L262.47 203.24 L262.63 204.95 L262.79 210.41 L262.94 218.16 L263.1 226.11 L263.26 232.15 L263.42 234.68 L263.57 233.02 L263.73 227.66 L263.89 220.04 L264.04 212.21 L264.2 206.27 L264.36 203.81 L264.52 205.48 L264.67 210.81 L264.83 218.38 L264.99 226.16 L265.14 232.07 L265.3 234.55 L265.46 232.94 L265.62 227.7 L265.77 220.25 L265.93 212.59 L266.09 206.78 L266.24 204.36 L266.4 205.99 L266.56 211.2 L266.72 218.6 L266.87 226.21 L267.03 232 L267.19 234.42 L267.34 232.85 L267.5 227.73 L267.66 220.45 L267.82 212.96 L267.97 207.27 L268.13 204.9 L268.29 206.48 L268.44 211.58 L268.6 218.82 L268.76 226.26 L268.92 231.91 L269.07 234.29 L269.23 232.76 L269.39 227.76 L269.54 220.64 L269.7 213.31 L269.86 207.75 L270.02 205.43 L270.17 206.97 L270.33 211.95 L270.49 219.02 L270.64 226.3 L270.8 231.83 L270.96 234.16 L271.12 232.67 L271.27 227.78 L271.43 220.82 L271.59 213.66 L271.74 208.21 L271.9 205.94 L272.06 207.44 L272.22 212.3 L272.37 219.22 L272.53 226.33 L272.69 231.75 L272.84 234.03 L273 232.58 L273.16 227.8 L273.32 221 L273.47 213.99 L273.63 208.67 L273.79 206.44 L273.94 207.9 L274.1 212.65 L274.26 219.41 L274.42 226.37 L274.57 231.67 L274.73 233.9 L274.89 232.49 L275.04 227.83 L275.2 221.17 L275.36 214.32 L275.52 209.11 L275.67 206.93 L275.83 208.35 L275.99 212.99 L276.14 219.6 L276.3 226.41 L276.46 231.6 L276.62 233.79 L276.77 232.41 L276.93 227.85 L277.09 221.34 L277.24 214.64 L277.4 209.54 L277.56 207.4 L277.72 208.79 L277.87 213.33 L278.03 219.79 L278.19 226.45 L278.34 231.53 L278.5 233.68 L278.66 232.34 L278.82 227.88 L278.97 221.52 L279.13 214.95 L279.29 209.96 L279.44 207.86 L279.6 209.21 L279.76 213.65 L279.92 219.98 L280.07 226.5 L280.23 231.48 L280.39 233.59 L280.54 232.28 L280.7 227.92 L280.86 221.69 L281.02 215.26 L281.17 210.37 L281.33 208.31 L281.49 209.63 L281.64 213.97 L281.8 220.17 L281.96 226.56 L282.12 231.44 L282.27 233.51 L282.43 232.24 L282.59 227.97 L282.74 221.87 L282.9 215.57 L283.06 210.77 L283.22 208.74 L283.37 210.03 L283.53 214.29 L283.69 220.36 L283.84 226.63 L284 231.42 L284.16 233.45 L284.32 232.21 L284.47 228.03 L284.63 222.04 L284.79 215.87 L284.94 211.16 L285.1 209.17 L285.26 210.43 L285.42 214.6 L285.57 220.55 L285.73 226.7 L285.89 231.4 L286.04 233.4 L286.2 232.18 L286.36 228.09 L286.52 222.22 L286.67 216.16 L286.83 211.54 L286.99 209.58 L287.14 210.81 L287.3 214.9 L287.46 220.74 L287.62 226.77 L287.77 231.38 L287.93 233.35 L288.09 232.16 L288.24 228.15 L288.4 222.39 L288.56 216.45 L288.72 211.9 L288.87 209.98 L289.03 211.19 L289.19 215.19 L289.34 220.92 L289.5 226.84 L289.66 231.37 L289.82 233.31 L289.97 232.14 L290.13 228.21 L290.29 222.56 L290.44 216.72 L290.6 212.26 L290.76 210.37 L290.92 211.55 L291.07 215.48 L291.23 221.1 L291.39 226.91 L291.54 231.36 L291.7 233.26 L291.86 232.13 L292.02 228.26 L292.17 222.72 L292.33 216.99 L292.49 212.61 L292.64 210.75 L292.8 211.9 L292.96 215.76 L293.12 221.27 L293.27 226.98 L293.43 231.35 L293.59 233.23 L293.74 232.11 L293.9 228.32 L294.06 222.88 L294.22 217.26 L294.37 212.95 L294.53 211.12 L294.69 212.25 L294.84 216.03 L295 221.45 L295.16 227.05 L295.32 231.35 L295.47 233.19 L295.63 232.1 L295.79 228.38 L295.94 223.04 L296.1 217.51 L296.26 213.28 L296.42 211.48 L296.57 212.58 L296.73 216.29 L296.89 221.61 L297.04 227.12 L297.2 231.34 L297.36 233.16 L297.52 232.09 L297.67 228.44 L297.83 223.2 L297.99 217.76 L298.15 213.6 L298.3 211.82 L298.46 212.9 L298.62 216.55 L298.77 221.78 L298.93 227.19 L299.09 231.35 L299.25 233.13 L299.4 232.09 L299.56 228.51 L299.72 223.35 L299.87 218.01 L300.03 213.91 L300.19 212.16 L300.35 213.22 L300.5 216.8 L300.66 221.94 L300.82 227.26 L300.97 231.35 L301.13 233.11 L301.29 232.09 L301.45 228.57 L301.6 223.5 L301.76 218.24 L301.92 214.21 L302.07 212.49 L302.23 213.53 L302.39 217.04 L302.55 222.1 L302.7 227.34 L302.86 231.36 L303.02 233.1 L303.17 232.1 L303.33 228.63 L303.49 223.65 L303.65 218.48 L303.8 214.51 L303.96 212.81 L304.12 213.82 L304.27 217.28 L304.43 222.25 L304.59 227.41 L304.75 231.37 L304.9 233.09 L305.06 232.1 L305.22 228.7 L305.37 223.79 L305.53 218.7 L305.69 214.8 L305.85 213.12 L306 214.11 L306.16 217.51 L306.32 222.41 L306.47 227.48 L306.63 231.38 L306.79 233.07 L306.95 232.11 L307.1 228.76 L307.26 223.93 L307.42 218.92 L307.57 215.07 L307.73 213.42 L307.89 214.39 L308.05 217.74 L308.2 222.55 L308.36 227.55 L308.52 231.39 L308.67 233.06 L308.83 232.12 L308.99 228.83 L309.15 224.07 L309.3 219.14 L309.46 215.35 L309.62 213.71 L309.77 214.67 L309.93 217.96 L310.09 222.7 L310.25 227.62 L310.4 231.41 L310.56 233.05 L310.72 232.13 L310.87 228.89 L311.03 224.21 L311.19 219.35 L311.35 215.61 L311.5 214 L311.66 214.94 L311.82 218.17 L311.97 222.84 L312.13 227.69 L312.29 231.42 L312.45 233.04 L312.6 232.13 L312.76 228.94 L312.92 224.34 L313.07 219.55 L313.23 215.87 L313.39 214.27 L313.55 215.2 L313.7 218.38 L313.86 222.98 L314.02 227.75 L314.17 231.43 L314.33 233.03 L314.49 232.14 L314.65 229 L314.8 224.46 L314.96 219.75 L315.12 216.12 L315.27 214.55 L315.43 215.45 L315.59 218.59 L315.75 223.11 L315.9 227.81 L316.06 231.44 L316.22 233.02 L316.37 232.15 L316.53 229.06 L316.69 224.59 L316.85 219.94 L317 216.36 L317.16 214.81 L317.32 215.7 L317.47 218.78 L317.63 223.24 L317.79 227.88 L317.95 231.45 L318.1 233.01 L318.26 232.15 L318.42 229.11 L318.57 224.71 L318.73 220.13 L318.89 216.6 L319.05 215.07 L319.2 215.94 L319.36 218.98 L319.52 223.37 L319.67 227.94 L319.83 231.46 L319.99 233 L320.15 232.16 L320.3 229.17 L320.46 224.83 L320.62 220.31 L320.77 216.83 L320.93 215.32 L321.09 216.18 L321.25 219.17 L321.4 223.49 L321.56 228 L321.72 231.47 L321.87 232.99 L322.03 232.17 L322.19 229.22 L322.35 224.94 L322.5 220.49 L322.66 217.06 L322.82 215.57 L322.97 216.41 L323.13 219.35 L323.29 223.62 L323.45 228.05 L323.6 231.48 L323.76 232.99 L323.92 232.17 L324.07 229.27 L324.23 225.06 L324.39 220.67 L324.55 217.29 L324.7 215.81 L324.86 216.63 L325.02 219.53 L325.17 223.74 L325.33 228.11 L325.49 231.49 L325.65 232.98 L325.8 232.18 L325.96 229.32 L326.12 225.17 L326.27 220.84 L326.43 217.5 L326.59 216.04 L326.75 216.85 L326.9 219.71 L327.06 223.85 L327.22 228.17 L327.37 231.5 L327.53 232.97 L327.69 232.19 L327.85 229.37 L328 225.28 L328.16 221.01 L328.32 217.72 L328.47 216.28 L328.63 217.07 L328.79 219.89 L328.95 223.97 L329.1 228.22 L329.26 231.51 L329.42 232.96 L329.57 232.19 L329.73 229.42 L329.89 225.38 L330.05 221.18 L330.2 217.93 L330.36 216.5 L330.52 217.28 L330.67 220.06 L330.83 224.08 L330.99 228.28 L331.15 231.52 L331.3 232.96 L331.46 232.2 L331.62 229.47 L331.77 225.49 L331.93 221.34 L332.09 218.13 L332.25 216.72 L332.4 217.49 L332.56 220.23 L332.72 224.19 L332.87 228.33 L333.03 231.53 L333.19 232.95 L333.35 232.21 L333.5 229.51 L333.66 225.59 L333.82 221.5 L333.97 218.33 L334.13 216.94 L334.29 217.7 L334.45 220.39 L334.6 224.3 L334.76 228.38 L334.92 231.55 L335.07 232.95 L335.23 232.22 L335.39 229.56 L335.55 225.69 L335.7 221.66 L335.86 218.53 L336.02 217.16 L336.17 217.9 L336.33 220.55 L336.49 224.41 L336.65 228.44 L336.8 231.56 L336.96 232.94 L337.12 232.22 L337.27 229.61 L337.43 225.79 L337.59 221.81 L337.75 218.73 L337.9 217.37 L338.06 218.1 L338.22 220.71 L338.37 224.52 L338.53 228.49 L338.69 231.57 L338.85 232.94 L339 232.23 L339.16 229.65 L339.32 225.89 L339.47 221.96 L339.63 218.92 L339.79 217.58 L339.95 218.29 L340.1 220.87 L340.26 224.62 L340.42 228.54 L340.57 231.58 L340.73 232.93 L340.89 232.24 L341.05 229.7 L341.2 225.99 L341.36 222.11 L341.52 219.11 L341.67 217.78 L341.83 218.48 L341.99 221.02 L342.15 224.72 L342.3 228.59 L342.46 231.59 L342.62 232.93 L342.77 232.25 L342.93 229.74 L343.09 226.08 L343.25 222.26 L343.4 219.29 L343.56 217.98 L343.72 218.67 L343.87 221.18 L344.03 224.82 L344.19 228.64 L344.35 231.6 L344.5 232.92 L344.66 232.26 L344.82 229.78 L344.97 226.18 L345.13 222.41 L345.29 219.48 L345.45 218.18 L345.6 218.86 L345.76 221.33 L345.92 224.93 L346.07 228.69 L346.23 231.61 L346.39 232.92 L346.55 232.26 L346.7 229.83 L346.86 226.27 L347.02 222.55 L347.17 219.66 L347.33 218.38 L347.49 219.04 L347.65 221.48 L347.8 225.03 L347.96 228.74 L348.12 231.63 L348.27 232.92 L348.43 232.27 L348.59 229.87 L348.75 226.36 L348.9 222.69 L349.06 219.84 L349.22 218.57 L349.37 219.23 L349.53 221.62 L349.69 225.12 L349.85 228.79 L350 231.64 L350.16 232.91 L350.32 232.28 L350.47 229.91 L350.63 226.45 L350.79 222.83 L350.95 220.02 L351.1 218.76 L351.26 219.41 L351.42 221.77 L351.57 225.22 L351.73 228.84 L351.89 231.65 L352.05 232.91 L352.2 232.29 L352.36 229.96 L352.52 226.55 L352.67 222.97 L352.83 220.19 L352.99 218.95 L353.15 219.58 L353.3 221.92 L353.46 225.32 L353.62 228.89 L353.77 231.66 L353.93 232.91 L354.09 232.3 L354.25 230 L354.4 226.63 L354.56 223.11 L354.72 220.36 L354.87 219.14 L355.03 219.76 L355.19 222.06 L355.35 225.42 L355.5 228.94 L355.66 231.68 L355.82 232.91 L355.97 232.31 L356.13 230.04 L356.29 226.72 L356.45 223.24 L356.6 220.54 L356.76 219.33 L356.92 219.94 L357.07 222.2 L357.23 225.51 L357.39 228.99 L357.55 231.69 L357.7 232.91 L357.86 232.32 L358.02 230.09 L358.17 226.81 L358.33 223.38 L358.49 220.71 L358.65 219.51 L358.8 220.11 L358.96 222.34" fill="none" stroke="rgba(255,138,0,0.85)" stroke-width="1.0" stroke-linejoin="round"/>
<path d="M113.5 53.4 L113.91 55.4 L114.32 57.38 L114.73 59.33 L115.14 61.27 L115.55 63.18 L115.95 65.07 L116.36 66.95 L116.77 68.8 L117.18 70.63 L117.59 72.44 L118 74.24 L118.41 76.01 L118.82 77.77 L119.23 79.5 L119.64 81.22 L120.05 82.92 L120.45 84.6 L120.86 86.26 L121.27 87.9 L121.68 89.53 L122.09 91.14 L122.5 92.73 L122.91 94.3 L123.32 95.86 L123.73 97.4 L124.14 98.92 L124.55 100.43 L124.95 101.92 L125.36 103.39 L125.77 104.85 L126.18 106.29 L126.59 107.72 L127 109.13 L127.41 110.53 L127.82 111.91 L128.23 113.28 L128.64 114.63 L129.05 115.96 L129.45 117.29 L129.86 118.59 L130.27 119.89 L130.68 121.17 L131.09 122.44 L131.5 123.69 L131.91 124.93 L132.32 126.15 L132.73 127.36 L133.14 128.56 L133.55 129.75 L133.96 130.92 L134.36 132.08 L134.77 133.23 L135.18 134.37 L135.59 135.49 L136 136.6 L136.41 137.7 L136.82 138.79 L137.23 139.87 L137.64 140.93 L138.05 141.98 L138.46 143.02 L138.86 144.05 L139.27 145.07 L139.68 146.08 L140.09 147.08 L140.5 148.06 L140.91 149.04 L141.32 150 L141.73 150.96 L142.14 151.9 L142.55 152.84 L142.96 153.76 L143.36 154.68 L143.77 155.58 L144.18 156.47 L144.59 157.36 L145 158.23 L145.41 159.1 L145.82 159.96 L146.23 160.8 L146.64 161.64 L147.05 162.47 L147.46 163.29 L147.86 164.1 L148.27 164.9 L148.68 165.7 L149.09 166.48 L149.5 167.26 L149.91 168.02 L150.32 168.78 L150.73 169.54 L151.14 170.28 L151.55 171.01 L151.96 171.74 L152.36 172.46 L152.77 173.17 L153.18 173.88 L153.59 174.57 L154 175.26 L154.41 175.94 L154.82 176.62 L155.23 177.29 L155.64 177.94 L156.05 178.6 L156.46 179.24 L156.86 179.88 L157.27 180.51 L157.68 181.14 L158.09 181.76 L158.5 182.37 L158.91 182.97 L159.32 183.57 L159.73 184.16 L160.14 184.75 L160.55 185.33 L160.96 185.9 L161.36 186.46 L161.77 187.02 L162.18 187.58 L162.59 188.13 L163 188.67 L163.41 189.21 L163.82 189.74 L164.23 190.26 L164.64 190.78 L165.05 191.3 L165.46 191.8 L165.86 192.31 L166.27 192.8 L166.68 193.3 L167.09 193.78 L167.5 194.26 L167.91 194.74 L168.32 195.21 L168.73 195.68 L169.14 196.14 L169.55 196.59 L169.96 197.04 L170.36 197.49 L170.77 197.93 L171.18 198.37 L171.59 198.8 L172 199.23 L172.41 199.65 L172.82 200.07 L173.23 200.48 L173.64 200.89 L174.05 201.29 L174.46 201.69 L174.87 202.09 L175.27 202.48 L175.68 202.87 L176.09 203.25 L176.5 203.63 L176.91 204 L177.32 204.37 L177.73 204.74 L178.14 205.1 L178.55 205.46 L178.96 205.82 L179.37 206.17 L179.77 206.52 L180.18 206.86 L180.59 207.2 L181 207.54 L181.41 207.87 L181.82 208.2 L182.23 208.52 L182.64 208.85 L183.05 209.16 L183.46 209.48 L183.87 209.79 L184.27 210.1 L184.68 210.4 L185.09 210.7 L185.5 211 L185.91 211.3 L186.32 211.59 L186.73 211.88 L187.14 212.16 L187.55 212.45 L187.96 212.73 L188.37 213 L188.77 213.28 L189.18 213.55 L189.59 213.81 L190 214.08 L190.41 214.34 L190.82 214.6 L191.23 214.86 L191.64 215.11 L192.05 215.36 L192.46 215.61 L192.87 215.85 L193.27 216.1 L193.68 216.34 L194.09 216.57 L194.5 216.81 L194.91 217.04 L195.32 217.27 L195.73 217.5 L196.14 217.72 L196.55 217.95 L196.96 218.16 L197.37 218.38 L197.77 218.6 L198.18 218.81 L198.59 219.02 L199 219.23 L199.41 219.44 L199.82 219.64 L200.23 219.84 L200.64 220.04 L201.05 220.24 L201.46 220.43 L201.87 220.62 L202.27 220.81 L202.68 221 L203.09 221.19 L203.5 221.37 L203.91 221.56 L204.32 221.74 L204.73 221.91 L205.14 222.09 L205.55 222.26 L205.96 222.43 L206.37 222.6 L206.77 222.77 L207.18 222.94 L207.59 223.1 L208 223.26 L208.41 223.42 L208.82 223.58 L209.23 223.74 L209.64 223.89 L210.05 224.04 L210.46 224.19 L210.87 224.34 L211.27 224.48 L211.68 224.62 L212.09 224.77 L212.5 224.9 L212.91 225.04 L213.32 225.17 L213.73 225.31 L214.14 225.44 L214.55 225.56 L214.96 225.69 L215.37 225.81 L215.78 225.93 L216.18 226.05 L216.59 226.17 L217 226.28 L217.41 226.39 L217.82 226.5 L218.23 226.6 L218.64 226.7 L219.05 226.8 L219.46 226.9 L219.87 226.99 L220.28 227.09 L220.68 227.17 L221.09 227.26 L221.5 227.34 L221.91 227.42 L222.32 227.5 L222.73 227.57 L223.14 227.64 L223.55 227.71 L223.96 227.78 L224.37 227.84 L224.78 227.9 L225.18 227.95 L225.59 228.01 L226 228.05 L226.41 228.1 L226.82 228.15 L227.23 228.19 L227.64 228.23 L228.05 228.26 L228.46 228.29 L228.87 228.33 L229.28 228.35 L229.68 228.38 L230.09 228.4 L230.5 228.43 L230.91 228.45 L231.32 228.46 L231.73 228.48 L232.14 228.5 L232.55 228.51 L232.96 228.52 L233.37 228.54 L233.78 228.55 L234.18 228.56 L234.59 228.57 L235 228.58 L235.41 228.59 L235.82 228.6 L236.23 228.61 L236.64 228.63 L237.05 228.64 L237.46 228.65 L237.87 228.67 L238.28 228.69 L238.68 228.71 L239.09 228.73 L239.5 228.75 L239.91 228.78 L240.32 228.81 L240.73 228.84 L241.14 228.87 L241.55 228.91 L241.96 228.94 L242.37 228.99 L242.78 229.03 L243.18 229.08 L243.59 229.13 L244 229.19 L244.41 229.25 L244.82 229.31 L245.23 229.37 L245.64 229.44 L246.05 229.51 L246.46 229.59 L246.87 229.67 L247.28 229.75 L247.68 229.83 L248.09 229.92 L248.5 230.01 L248.91 230.1 L249.32 230.19 L249.73 230.29 L250.14 230.39 L250.55 230.49 L250.96 230.59 L251.37 230.69 L251.78 230.79 L252.18 230.9 L252.59 231 L253 231.11 L253.41 231.22 L253.82 231.32 L254.23 231.43 L254.64 231.54 L255.05 231.64 L255.46 231.75 L255.87 231.85 L256.28 231.95 L256.69 232.05 L257.09 232.15 L257.5 232.25 L257.91 232.34 L258.32 232.44 L258.73 232.53 L259.14 232.62 L259.55 232.7 L259.96 232.78 L260.37 232.86 L260.78 232.94 L261.19 233.02 L261.59 233.09 L262 233.16 L262.41 233.22 L262.82 233.28 L263.23 233.34 L263.64 233.4 L264.05 233.45 L264.46 233.5 L264.87 233.54 L265.28 233.59 L265.69 233.63 L266.09 233.66 L266.5 233.7 L266.91 233.73 L267.32 233.76 L267.73 233.78 L268.14 233.8 L268.55 233.82 L268.96 233.84 L269.37 233.86 L269.78 233.87 L270.19 233.88 L270.59 233.89 L271 233.9 L271.41 233.9 L271.82 233.91 L272.23 233.91 L272.64 233.91 L273.05 233.91 L273.46 233.91 L273.87 233.91 L274.28 233.91 L274.69 233.91 L275.09 233.91 L275.5 233.91 L275.91 233.91 L276.32 233.9 L276.73 233.9 L277.14 233.9 L277.55 233.9 L277.96 233.9 L278.37 233.91 L278.78 233.91 L279.19 233.91 L279.59 233.92 L280 233.93 L280.41 233.93 L280.82 233.94 L281.23 233.96 L281.64 233.97 L282.05 233.98 L282.46 234 L282.87 234.02 L283.28 234.04 L283.69 234.06 L284.09 234.08 L284.5 234.11 L284.91 234.14 L285.32 234.17 L285.73 234.2 L286.14 234.23 L286.55 234.27 L286.96 234.31 L287.37 234.35 L287.78 234.39 L288.19 234.43 L288.59 234.47 L289 234.52 L289.41 234.57 L289.82 234.62 L290.23 234.67 L290.64 234.72 L291.05 234.77 L291.46 234.82 L291.87 234.88 L292.28 234.93 L292.69 234.99 L293.09 235.05 L293.5 235.1 L293.91 235.16 L294.32 235.22 L294.73 235.28 L295.14 235.34 L295.55 235.4 L295.96 235.46 L296.37 235.51 L296.78 235.57 L297.19 235.63 L297.6 235.69 L298 235.75 L298.41 235.8 L298.82 235.86 L299.23 235.92 L299.64 235.97 L300.05 236.03 L300.46 236.08 L300.87 236.13 L301.28 236.19 L301.69 236.24 L302.1 236.29 L302.5 236.34 L302.91 236.39 L303.32 236.43 L303.73 236.48 L304.14 236.52 L304.55 236.57 L304.96 236.61 L305.37 236.65 L305.78 236.69 L306.19 236.73 L306.6 236.77 L307 236.8 L307.41 236.84 L307.82 236.87 L308.23 236.91 L308.64 236.94 L309.05 236.97 L309.46 237 L309.87 237.03 L310.28 237.06 L310.69 237.09 L311.1 237.11 L311.5 237.14 L311.91 237.16 L312.32 237.19 L312.73 237.21 L313.14 237.23 L313.55 237.25 L313.96 237.27 L314.37 237.29 L314.78 237.31 L315.19 237.33 L315.6 237.35 L316 237.37 L316.41 237.39 L316.82 237.4 L317.23 237.42 L317.64 237.44 L318.05 237.45 L318.46 237.47 L318.87 237.48 L319.28 237.5 L319.69 237.52 L320.1 237.53 L320.5 237.55 L320.91 237.56 L321.32 237.58 L321.73 237.59 L322.14 237.61 L322.55 237.63 L322.96 237.64 L323.37 237.66 L323.78 237.68 L324.19 237.7 L324.6 237.72 L325 237.74 L325.41 237.76 L325.82 237.78 L326.23 237.8 L326.64 237.82 L327.05 237.84 L327.46 237.87 L327.87 237.89 L328.28 237.92 L328.69 237.94 L329.1 237.97 L329.5 238 L329.91 238.03 L330.32 238.06 L330.73 238.08 L331.14 238.12 L331.55 238.15 L331.96 238.18 L332.37 238.21 L332.78 238.24 L333.19 238.27 L333.6 238.31 L334 238.34 L334.41 238.37 L334.82 238.4 L335.23 238.43 L335.64 238.46 L336.05 238.5 L336.46 238.53 L336.87 238.55 L337.28 238.58 L337.69 238.61 L338.1 238.63 L338.5 238.66 L338.91 238.68 L339.32 238.7 L339.73 238.72 L340.14 238.74 L340.55 238.76 L340.96 238.77 L341.37 238.78 L341.78 238.79 L342.19 238.8 L342.6 238.8 L343.01 238.81 L343.41 238.81 L343.82 238.81 L344.23 238.81 L344.64 238.8 L345.05 238.79 L345.46 238.79 L345.87 238.78 L346.28 238.76 L346.69 238.75 L347.1 238.74 L347.51 238.72 L347.91 238.7 L348.32 238.68 L348.73 238.66 L349.14 238.64 L349.55 238.62 L349.96 238.6 L350.37 238.58 L350.78 238.55 L351.19 238.53 L351.6 238.51 L352.01 238.49 L352.41 238.46 L352.82 238.44 L353.23 238.42 L353.64 238.4 L354.05 238.38 L354.46 238.36 L354.87 238.34 L355.28 238.32 L355.69 238.3 L356.1 238.28 L356.51 238.27 L356.91 238.25 L357.32 238.23 L357.73 238.22 L358.14 238.21 L358.55 238.2 L358.96 238.18 L359.36 238.18 L359.36 238.3 L112.9 238.3 L112.9 53.4Z" fill="rgba(0,0,0,0.2)"/>
<path d="M113.5 53.4 L113.91 55.35 L114.32 57.34 L114.73 59.37 L115.14 61.44 L115.55 63.55 L115.95 65.7 L116.36 67.89 L116.77 70.11 L117.18 72.37 L117.59 74.66 L118 76.98 L118.41 79.33 L118.82 81.71 L119.23 84.13 L119.64 86.61 L120.05 89.14 L120.45 91.75 L120.86 94.43 L121.27 97.2 L121.68 100.07 L122.09 103.11 L122.5 106.29 L122.91 109.58 L123.32 112.94 L123.73 116.35 L124.14 119.78 L124.55 123.2 L124.95 126.57 L125.36 129.86 L125.77 133.19 L126.18 136.56 L126.59 139.89 L127 143.13 L127.41 146.19 L127.82 149.06 L128.23 151.82 L128.64 154.49 L129.05 157.08 L129.45 159.61 L129.86 162.09 L130.27 164.54 L130.68 166.97 L131.09 169.33 L131.5 171.63 L131.91 173.89 L132.32 176.13 L132.73 178.39 L133.14 180.68 L133.55 183.05 L133.96 185.51 L134.36 188.02 L134.77 190.54 L135.18 193 L135.59 195.36 L136 197.56 L136.41 199.67 L136.82 201.7 L137.23 203.68 L137.64 205.6 L138.05 207.46 L138.46 209.29 L138.86 211.09 L139.27 212.91 L139.68 214.72 L140.09 216.51 L140.5 218.25 L140.91 219.93 L141.32 221.51 L141.73 222.98 L142.14 224.31 L142.55 225.51 L142.96 226.66 L143.36 227.77 L143.77 228.84 L144.18 229.85 L144.59 230.81 L145 231.72 L145.41 232.57 L145.82 233.36 L146.23 234.08 L146.64 234.73 L147.05 235.32 L147.46 235.87 L147.86 236.38 L148.27 236.86 L148.68 237.29 L149.09 237.67 L149.5 238 L149.91 238.29 L150.32 238.58 L150.73 238.86 L151.14 239.1 L151.55 239.28 L151.96 239.39 L152.36 239.4 L152.77 239.29 L153.18 239.06 L153.59 238.75 L154 238.37 L154.41 237.93 L154.82 237.35 L155.23 236.28 L155.64 234.82 L156.05 233.13 L156.46 231.38 L156.86 229.72 L157.27 228.32 L157.68 227.11 L158.09 225.96 L158.5 224.84 L158.91 223.76 L159.32 222.71 L159.73 221.68 L160.14 220.67 L160.55 219.68 L160.96 218.7 L161.36 217.72 L161.77 216.75 L162.18 215.77 L162.59 214.78 L163 213.79 L163.41 212.8 L163.82 211.81 L164.23 210.83 L164.64 209.86 L165.05 208.9 L165.46 207.96 L165.86 207.03 L166.27 206.13 L166.68 205.25 L167.09 204.39 L167.5 203.56 L167.91 202.79 L168.32 202.06 L168.73 201.37 L169.14 200.69 L169.55 200 L169.96 199.3 L170.36 198.56 L170.77 197.76 L171.18 196.89 L171.59 195.95 L172 194.93 L172.41 193.86 L172.82 192.74 L173.23 191.59 L173.64 190.41 L174.05 189.21 L174.46 188.01 L174.87 186.82 L175.27 185.64 L175.68 184.5 L176.09 183.38 L176.5 182.28 L176.91 181.16 L177.32 180.03 L177.73 178.89 L178.14 177.76 L178.55 176.63 L178.96 175.53 L179.37 174.46 L179.77 173.42 L180.18 172.42 L180.59 171.48 L181 170.59 L181.41 169.76 L181.82 168.93 L182.23 168.1 L182.64 167.28 L183.05 166.49 L183.46 165.75 L183.87 165.05 L184.27 164.42 L184.68 163.87 L185.09 163.41 L185.5 163.05 L185.91 162.74 L186.32 162.45 L186.73 162.16 L187.14 161.89 L187.55 161.64 L187.96 161.41 L188.37 161.21 L188.77 161.03 L189.18 160.88 L189.59 160.76 L190 160.68 L190.41 160.65 L190.82 160.65 L191.23 160.72 L191.64 160.83 L192.05 161 L192.46 161.21 L192.87 161.45 L193.27 161.73 L193.68 162.04 L194.09 162.38 L194.5 162.73 L194.91 163.1 L195.32 163.48 L195.73 163.86 L196.14 164.33 L196.55 164.9 L196.96 165.56 L197.37 166.29 L197.77 167.09 L198.18 167.92 L198.59 168.79 L199 169.66 L199.41 170.54 L199.82 171.4 L200.23 172.24 L200.64 173.1 L201.05 173.99 L201.46 174.89 L201.87 175.82 L202.27 176.76 L202.68 177.71 L203.09 178.68 L203.5 179.65 L203.91 180.63 L204.32 181.62 L204.73 182.6 L205.14 183.58 L205.55 184.56 L205.96 185.54 L206.37 186.53 L206.77 187.53 L207.18 188.53 L207.59 189.54 L208 190.57 L208.41 191.61 L208.82 192.66 L209.23 193.73 L209.64 194.81 L210.05 195.93 L210.46 197.09 L210.87 198.27 L211.27 199.49 L211.68 200.71 L212.09 201.94 L212.5 203.16 L212.91 204.36 L213.32 205.54 L213.73 206.68 L214.14 207.8 L214.55 208.91 L214.96 210.02 L215.37 211.11 L215.78 212.19 L216.18 213.26 L216.59 214.31 L217 215.35 L217.41 216.37 L217.82 217.36 L218.23 218.34 L218.64 219.31 L219.05 220.28 L219.46 221.25 L219.87 222.2 L220.28 223.13 L220.68 224.04 L221.09 224.91 L221.5 225.75 L221.91 226.55 L222.32 227.29 L222.73 227.99 L223.14 228.69 L223.55 229.38 L223.96 230.07 L224.37 230.74 L224.78 231.4 L225.18 232.03 L225.59 232.63 L226 233.2 L226.41 233.73 L226.82 234.21 L227.23 234.65 L227.64 235.04 L228.05 235.36 L228.46 235.63 L228.87 235.88 L229.28 236.13 L229.68 236.37 L230.09 236.6 L230.5 236.83 L230.91 237.04 L231.32 237.23 L231.73 237.42 L232.14 237.58 L232.55 237.73 L232.96 237.85 L233.37 237.95 L233.78 238.03 L234.18 238.09 L234.59 238.11 L235 238.11 L235.41 238.08 L235.82 238.02 L236.23 237.94 L236.64 237.83 L237.05 237.7 L237.46 237.55 L237.87 237.38 L238.28 237.2 L238.68 237.01 L239.09 236.8 L239.5 236.58 L239.91 236.35 L240.32 236.11 L240.73 235.87 L241.14 235.62 L241.55 235.37 L241.96 235.05 L242.37 234.67 L242.78 234.25 L243.18 233.77 L243.59 233.26 L244 232.71 L244.41 232.13 L244.82 231.53 L245.23 230.92 L245.64 230.29 L246.05 229.66 L246.46 229.03 L246.87 228.4 L247.28 227.79 L247.68 227.2 L248.09 226.63 L248.5 226.1 L248.91 225.58 L249.32 225.08 L249.73 224.58 L250.14 224.08 L250.55 223.6 L250.96 223.11 L251.37 222.62 L251.78 222.13 L252.18 221.65 L252.59 221.15 L253 220.65 L253.41 220.15 L253.82 219.64 L254.23 219.12 L254.64 218.58 L255.05 218.03 L255.46 217.45 L255.87 216.84 L256.28 216.2 L256.69 215.55 L257.09 214.89 L257.5 214.25 L257.91 213.62 L258.32 213.02 L258.73 212.46 L259.14 211.95 L259.55 211.5 L259.96 211.06 L260.37 210.62 L260.78 210.19 L261.19 209.77 L261.59 209.37 L262 208.98 L262.41 208.61 L262.82 208.26 L263.23 207.94 L263.64 207.65 L264.05 207.38 L264.46 207.15 L264.87 206.96 L265.28 206.81 L265.69 206.66 L266.09 206.52 L266.5 206.38 L266.91 206.25 L267.32 206.13 L267.73 206.01 L268.14 205.89 L268.55 205.79 L268.96 205.7 L269.37 205.62 L269.78 205.55 L270.19 205.49 L270.59 205.44 L271 205.41 L271.41 205.39 L271.82 205.39 L272.23 205.41 L272.64 205.45 L273.05 205.51 L273.46 205.58 L273.87 205.67 L274.28 205.78 L274.69 205.9 L275.09 206.02 L275.5 206.16 L275.91 206.31 L276.32 206.47 L276.73 206.63 L277.14 206.8 L277.55 206.96 L277.96 207.13 L278.37 207.31 L278.78 207.51 L279.19 207.74 L279.59 207.99 L280 208.28 L280.41 208.58 L280.82 208.9 L281.23 209.23 L281.64 209.58 L282.05 209.94 L282.46 210.3 L282.87 210.66 L283.28 211.03 L283.69 211.39 L284.09 211.75 L284.5 212.11 L284.91 212.48 L285.32 212.86 L285.73 213.26 L286.14 213.66 L286.55 214.07 L286.96 214.49 L287.37 214.91 L287.78 215.33 L288.19 215.76 L288.59 216.19 L289 216.61 L289.41 217.04 L289.82 217.47 L290.23 217.89 L290.64 218.31 L291.05 218.72 L291.46 219.13 L291.87 219.55 L292.28 219.96 L292.69 220.39 L293.09 220.81 L293.5 221.24 L293.91 221.66 L294.32 222.09 L294.73 222.51 L295.14 222.93 L295.55 223.35 L295.96 223.76 L296.37 224.16 L296.78 224.55 L297.19 224.94 L297.6 225.31 L298 225.68 L298.41 226.03 L298.82 226.37 L299.23 226.71 L299.64 227.05 L300.05 227.38 L300.46 227.71 L300.87 228.04 L301.28 228.36 L301.69 228.68 L302.1 228.99 L302.5 229.29 L302.91 229.58 L303.32 229.86 L303.73 230.14 L304.14 230.4 L304.55 230.65 L304.96 230.88 L305.37 231.11 L305.78 231.31 L306.19 231.51 L306.6 231.71 L307 231.9 L307.41 232.08 L307.82 232.25 L308.23 232.43 L308.64 232.59 L309.05 232.75 L309.46 232.91 L309.87 233.06 L310.28 233.2 L310.69 233.34 L311.1 233.48 L311.5 233.61 L311.91 233.74 L312.32 233.86 L312.73 233.98 L313.14 234.09 L313.55 234.21 L313.96 234.33 L314.37 234.46 L314.78 234.58 L315.19 234.7 L315.6 234.82 L316 234.93 L316.41 235.03 L316.82 235.12 L317.23 235.2 L317.64 235.26 L318.05 235.31 L318.46 235.33 L318.87 235.34 L319.28 235.33 L319.69 235.31 L320.1 235.27 L320.5 235.22 L320.91 235.17 L321.32 235.1 L321.73 235.03 L322.14 234.95 L322.55 234.86 L322.96 234.78 L323.37 234.69 L323.78 234.6 L324.19 234.51 L324.6 234.42 L325 234.33 L325.41 234.23 L325.82 234.12 L326.23 234 L326.64 233.88 L327.05 233.76 L327.46 233.62 L327.87 233.48 L328.28 233.34 L328.69 233.2 L329.1 233.05 L329.5 232.89 L329.91 232.74 L330.32 232.58 L330.73 232.42 L331.14 232.27 L331.55 232.11 L331.96 231.95 L332.37 231.78 L332.78 231.61 L333.19 231.43 L333.6 231.25 L334 231.05 L334.41 230.86 L334.82 230.66 L335.23 230.46 L335.64 230.26 L336.05 230.06 L336.46 229.87 L336.87 229.67 L337.28 229.48 L337.69 229.29 L338.1 229.1 L338.5 228.92 L338.91 228.75 L339.32 228.59 L339.73 228.42 L340.14 228.24 L340.55 228.07 L340.96 227.89 L341.37 227.72 L341.78 227.54 L342.19 227.37 L342.6 227.2 L343.01 227.04 L343.41 226.89 L343.82 226.74 L344.23 226.6 L344.64 226.48 L345.05 226.36 L345.46 226.26 L345.87 226.17 L346.28 226.1 L346.69 226.03 L347.1 225.97 L347.51 225.91 L347.91 225.85 L348.32 225.79 L348.73 225.73 L349.14 225.68 L349.55 225.63 L349.96 225.58 L350.37 225.53 L350.78 225.49 L351.19 225.46 L351.6 225.43 L352.01 225.4 L352.41 225.38 L352.82 225.37 L353.23 225.36 L353.64 225.36 L354.05 225.36 L354.46 225.37 L354.87 225.38 L355.28 225.39 L355.69 225.41 L356.1 225.44 L356.51 225.46 L356.91 225.5 L357.32 225.53 L357.73 225.57 L358.14 225.62 L358.55 225.67 L358.96 225.73 L359.36 225.73 L359.36 238.3 L112.9 238.3 L112.9 53.4Z" fill="rgba(0,0,255,0.2)"/>
<path d="M113.5 53.4 L113.91 55.4 L114.32 57.38 L114.73 59.33 L115.14 61.27 L115.55 63.18 L115.95 65.07 L116.36 66.95 L116.77 68.8 L117.18 70.63 L117.59 72.44 L118 74.24 L118.41 76.01 L118.82 77.77 L119.23 79.5 L119.64 81.22 L120.05 82.92 L120.45 84.6 L120.86 86.26 L121.27 87.9 L121.68 89.53 L122.09 91.14 L122.5 92.73 L122.91 94.3 L123.32 95.86 L123.73 97.4 L124.14 98.92 L124.55 100.43 L124.95 101.92 L125.36 103.39 L125.77 104.85 L126.18 106.29 L126.59 107.72 L127 109.13 L127.41 110.53 L127.82 111.91 L128.23 113.28 L128.64 114.63 L129.05 115.96 L129.45 117.29 L129.86 118.59 L130.27 119.89 L130.68 121.17 L131.09 122.44 L131.5 123.69 L131.91 124.93 L132.32 126.15 L132.73 127.36 L133.14 128.56 L133.55 129.75 L133.96 130.92 L134.36 132.08 L134.77 133.23 L135.18 134.37 L135.59 135.49 L136 136.6 L136.41 137.7 L136.82 138.79 L137.23 139.87 L137.64 140.93 L138.05 141.98 L138.46 143.02 L138.86 144.05 L139.27 145.07 L139.68 146.08 L140.09 147.08 L140.5 148.06 L140.91 149.04 L141.32 150 L141.73 150.96 L142.14 151.9 L142.55 152.84 L142.96 153.76 L143.36 154.68 L143.77 155.58 L144.18 156.47 L144.59 157.36 L145 158.23 L145.41 159.1 L145.82 159.96 L146.23 160.8 L146.64 161.64 L147.05 162.47 L147.46 163.29 L147.86 164.1 L148.27 164.9 L148.68 165.7 L149.09 166.48 L149.5 167.26 L149.91 168.02 L150.32 168.78 L150.73 169.54 L151.14 170.28 L151.55 171.01 L151.96 171.74 L152.36 172.46 L152.77 173.17 L153.18 173.88 L153.59 174.57 L154 175.26 L154.41 175.94 L154.82 176.62 L155.23 177.29 L155.64 177.94 L156.05 178.6 L156.46 179.24 L156.86 179.88 L157.27 180.51 L157.68 181.14 L158.09 181.76 L158.5 182.37 L158.91 182.97 L159.32 183.57 L159.73 184.16 L160.14 184.75 L160.55 185.33 L160.96 185.9 L161.36 186.46 L161.77 187.02 L162.18 187.58 L162.59 188.13 L163 188.67 L163.41 189.21 L163.82 189.74 L164.23 190.26 L164.64 190.78 L165.05 191.3 L165.46 191.8 L165.86 192.31 L166.27 192.8 L166.68 193.3 L167.09 193.78 L167.5 194.26 L167.91 194.74 L168.32 195.21 L168.73 195.68 L169.14 196.14 L169.55 196.59 L169.96 197.04 L170.36 197.49 L170.77 197.93 L171.18 198.37 L171.59 198.8 L172 199.23 L172.41 199.65 L172.82 200.07 L173.23 200.48 L173.64 200.89 L174.05 201.29 L174.46 201.69 L174.87 202.09 L175.27 202.48 L175.68 202.87 L176.09 203.25 L176.5 203.63 L176.91 204 L177.32 204.37 L177.73 204.74 L178.14 205.1 L178.55 205.46 L178.96 205.82 L179.37 206.17 L179.77 206.52 L180.18 206.86 L180.59 207.2 L181 207.54 L181.41 207.87 L181.82 208.2 L182.23 208.52 L182.64 208.85 L183.05 209.16 L183.46 209.48 L183.87 209.79 L184.27 210.1 L184.68 210.4 L185.09 210.7 L185.5 211 L185.91 211.3 L186.32 211.59 L186.73 211.88 L187.14 212.16 L187.55 212.45 L187.96 212.73 L188.37 213 L188.77 213.28 L189.18 213.55 L189.59 213.81 L190 214.08 L190.41 214.34 L190.82 214.6 L191.23 214.86 L191.64 215.11 L192.05 215.36 L192.46 215.61 L192.87 215.85 L193.27 216.1 L193.68 216.34 L194.09 216.57 L194.5 216.81 L194.91 217.04 L195.32 217.27 L195.73 217.5 L196.14 217.72 L196.55 217.95 L196.96 218.16 L197.37 218.38 L197.77 218.6 L198.18 218.81 L198.59 219.02 L199 219.23 L199.41 219.44 L199.82 219.64 L200.23 219.84 L200.64 220.04 L201.05 220.24 L201.46 220.43 L201.87 220.62 L202.27 220.81 L202.68 221 L203.09 221.19 L203.5 221.37 L203.91 221.56 L204.32 221.74 L204.73 221.91 L205.14 222.09 L205.55 222.26 L205.96 222.43 L206.37 222.6 L206.77 222.77 L207.18 222.94 L207.59 223.1 L208 223.26 L208.41 223.42 L208.82 223.58 L209.23 223.74 L209.64 223.89 L210.05 224.04 L210.46 224.19 L210.87 224.34 L211.27 224.48 L211.68 224.62 L212.09 224.77 L212.5 224.9 L212.91 225.04 L213.32 225.17 L213.73 225.31 L214.14 225.44 L214.55 225.56 L214.96 225.69 L215.37 225.81 L215.78 225.93 L216.18 226.05 L216.59 226.17 L217 226.28 L217.41 226.39 L217.82 226.5 L218.23 226.6 L218.64 226.7 L219.05 226.8 L219.46 226.9 L219.87 226.99 L220.28 227.09 L220.68 227.17 L221.09 227.26 L221.5 227.34 L221.91 227.42 L222.32 227.5 L222.73 227.57 L223.14 227.64 L223.55 227.71 L223.96 227.78 L224.37 227.84 L224.78 227.9 L225.18 227.95 L225.59 228.01 L226 228.05 L226.41 228.1 L226.82 228.15 L227.23 228.19 L227.64 228.23 L228.05 228.26 L228.46 228.29 L228.87 228.33 L229.28 228.35 L229.68 228.38 L230.09 228.4 L230.5 228.43 L230.91 228.45 L231.32 228.46 L231.73 228.48 L232.14 228.5 L232.55 228.51 L232.96 228.52 L233.37 228.54 L233.78 228.55 L234.18 228.56 L234.59 228.57 L235 228.58 L235.41 228.59 L235.82 228.6 L236.23 228.61 L236.64 228.63 L237.05 228.64 L237.46 228.65 L237.87 228.67 L238.28 228.69 L238.68 228.71 L239.09 228.73 L239.5 228.75 L239.91 228.78 L240.32 228.81 L240.73 228.84 L241.14 228.87 L241.55 228.91 L241.96 228.94 L242.37 228.99 L242.78 229.03 L243.18 229.08 L243.59 229.13 L244 229.19 L244.41 229.25 L244.82 229.31 L245.23 229.37 L245.64 229.44 L246.05 229.51 L246.46 229.59 L246.87 229.67 L247.28 229.75 L247.68 229.83 L248.09 229.92 L248.5 230.01 L248.91 230.1 L249.32 230.19 L249.73 230.29 L250.14 230.39 L250.55 230.49 L250.96 230.59 L251.37 230.69 L251.78 230.79 L252.18 230.9 L252.59 231 L253 231.11 L253.41 231.22 L253.82 231.32 L254.23 231.43 L254.64 231.54 L255.05 231.64 L255.46 231.75 L255.87 231.85 L256.28 231.95 L256.69 232.05 L257.09 232.15 L257.5 232.25 L257.91 232.34 L258.32 232.44 L258.73 232.53 L259.14 232.62 L259.55 232.7 L259.96 232.78 L260.37 232.86 L260.78 232.94 L261.19 233.02 L261.59 233.09 L262 233.16 L262.41 233.22 L262.82 233.28 L263.23 233.34 L263.64 233.4 L264.05 233.45 L264.46 233.5 L264.87 233.54 L265.28 233.59 L265.69 233.63 L266.09 233.66 L266.5 233.7 L266.91 233.73 L267.32 233.76 L267.73 233.78 L268.14 233.8 L268.55 233.82 L268.96 233.84 L269.37 233.86 L269.78 233.87 L270.19 233.88 L270.59 233.89 L271 233.9 L271.41 233.9 L271.82 233.91 L272.23 233.91 L272.64 233.91 L273.05 233.91 L273.46 233.91 L273.87 233.91 L274.28 233.91 L274.69 233.91 L275.09 233.91 L275.5 233.91 L275.91 233.91 L276.32 233.9 L276.73 233.9 L277.14 233.9 L277.55 233.9 L277.96 233.9 L278.37 233.91 L278.78 233.91 L279.19 233.91 L279.59 233.92 L280 233.93 L280.41 233.93 L280.82 233.94 L281.23 233.96 L281.64 233.97 L282.05 233.98 L282.46 234 L282.87 234.02 L283.28 234.04 L283.69 234.06 L284.09 234.08 L284.5 234.11 L284.91 234.14 L285.32 234.17 L285.73 234.2 L286.14 234.23 L286.55 234.27 L286.96 234.31 L287.37 234.35 L287.78 234.39 L288.19 234.43 L288.59 234.47 L289 234.52 L289.41 234.57 L289.82 234.62 L290.23 234.67 L290.64 234.72 L291.05 234.77 L291.46 234.82 L291.87 234.88 L292.28 234.93 L292.69 234.99 L293.09 235.05 L293.5 235.1 L293.91 235.16 L294.32 235.22 L294.73 235.28 L295.14 235.34 L295.55 235.4 L295.96 235.46 L296.37 235.51 L296.78 235.57 L297.19 235.63 L297.6 235.69 L298 235.75 L298.41 235.8 L298.82 235.86 L299.23 235.92 L299.64 235.97 L300.05 236.03 L300.46 236.08 L300.87 236.13 L301.28 236.19 L301.69 236.24 L302.1 236.29 L302.5 236.34 L302.91 236.39 L303.32 236.43 L303.73 236.48 L304.14 236.52 L304.55 236.57 L304.96 236.61 L305.37 236.65 L305.78 236.69 L306.19 236.73 L306.6 236.77 L307 236.8 L307.41 236.84 L307.82 236.87 L308.23 236.91 L308.64 236.94 L309.05 236.97 L309.46 237 L309.87 237.03 L310.28 237.06 L310.69 237.09 L311.1 237.11 L311.5 237.14 L311.91 237.16 L312.32 237.19 L312.73 237.21 L313.14 237.23 L313.55 237.25 L313.96 237.27 L314.37 237.29 L314.78 237.31 L315.19 237.33 L315.6 237.35 L316 237.37 L316.41 237.39 L316.82 237.4 L317.23 237.42 L317.64 237.44 L318.05 237.45 L318.46 237.47 L318.87 237.48 L319.28 237.5 L319.69 237.52 L320.1 237.53 L320.5 237.55 L320.91 237.56 L321.32 237.58 L321.73 237.59 L322.14 237.61 L322.55 237.63 L322.96 237.64 L323.37 237.66 L323.78 237.68 L324.19 237.7 L324.6 237.72 L325 237.74 L325.41 237.76 L325.82 237.78 L326.23 237.8 L326.64 237.82 L327.05 237.84 L327.46 237.87 L327.87 237.89 L328.28 237.92 L328.69 237.94 L329.1 237.97 L329.5 238 L329.91 238.03 L330.32 238.06 L330.73 238.08 L331.14 238.12 L331.55 238.15 L331.96 238.18 L332.37 238.21 L332.78 238.24 L333.19 238.27 L333.6 238.31 L334 238.34 L334.41 238.37 L334.82 238.4 L335.23 238.43 L335.64 238.46 L336.05 238.5 L336.46 238.53 L336.87 238.55 L337.28 238.58 L337.69 238.61 L338.1 238.63 L338.5 238.66 L338.91 238.68 L339.32 238.7 L339.73 238.72 L340.14 238.74 L340.55 238.76 L340.96 238.77 L341.37 238.78 L341.78 238.79 L342.19 238.8 L342.6 238.8 L343.01 238.81 L343.41 238.81 L343.82 238.81 L344.23 238.81 L344.64 238.8 L345.05 238.79 L345.46 238.79 L345.87 238.78 L346.28 238.76 L346.69 238.75 L347.1 238.74 L347.51 238.72 L347.91 238.7 L348.32 238.68 L348.73 238.66 L349.14 238.64 L349.55 238.62 L349.96 238.6 L350.37 238.58 L350.78 238.55 L351.19 238.53 L351.6 238.51 L352.01 238.49 L352.41 238.46 L352.82 238.44 L353.23 238.42 L353.64 238.4 L354.05 238.38 L354.46 238.36 L354.87 238.34 L355.28 238.32 L355.69 238.3 L356.1 238.28 L356.51 238.27 L356.91 238.25 L357.32 238.23 L357.73 238.22 L358.14 238.21 L358.55 238.2 L358.96 238.18" fill="none" stroke="#1a1a1a" stroke-width="0.8"/>
<path d="M113.5 53.4 L113.91 55.35 L114.32 57.34 L114.73 59.37 L115.14 61.44 L115.55 63.55 L115.95 65.7 L116.36 67.89 L116.77 70.11 L117.18 72.37 L117.59 74.66 L118 76.98 L118.41 79.33 L118.82 81.71 L119.23 84.13 L119.64 86.61 L120.05 89.14 L120.45 91.75 L120.86 94.43 L121.27 97.2 L121.68 100.07 L122.09 103.11 L122.5 106.29 L122.91 109.58 L123.32 112.94 L123.73 116.35 L124.14 119.78 L124.55 123.2 L124.95 126.57 L125.36 129.86 L125.77 133.19 L126.18 136.56 L126.59 139.89 L127 143.13 L127.41 146.19 L127.82 149.06 L128.23 151.82 L128.64 154.49 L129.05 157.08 L129.45 159.61 L129.86 162.09 L130.27 164.54 L130.68 166.97 L131.09 169.33 L131.5 171.63 L131.91 173.89 L132.32 176.13 L132.73 178.39 L133.14 180.68 L133.55 183.05 L133.96 185.51 L134.36 188.02 L134.77 190.54 L135.18 193 L135.59 195.36 L136 197.56 L136.41 199.67 L136.82 201.7 L137.23 203.68 L137.64 205.6 L138.05 207.46 L138.46 209.29 L138.86 211.09 L139.27 212.91 L139.68 214.72 L140.09 216.51 L140.5 218.25 L140.91 219.93 L141.32 221.51 L141.73 222.98 L142.14 224.31 L142.55 225.51 L142.96 226.66 L143.36 227.77 L143.77 228.84 L144.18 229.85 L144.59 230.81 L145 231.72 L145.41 232.57 L145.82 233.36 L146.23 234.08 L146.64 234.73 L147.05 235.32 L147.46 235.87 L147.86 236.38 L148.27 236.86 L148.68 237.29 L149.09 237.67 L149.5 238 L149.91 238.29 L150.32 238.58 L150.73 238.86 L151.14 239.1 L151.55 239.28 L151.96 239.39 L152.36 239.4 L152.77 239.29 L153.18 239.06 L153.59 238.75 L154 238.37 L154.41 237.93 L154.82 237.35 L155.23 236.28 L155.64 234.82 L156.05 233.13 L156.46 231.38 L156.86 229.72 L157.27 228.32 L157.68 227.11 L158.09 225.96 L158.5 224.84 L158.91 223.76 L159.32 222.71 L159.73 221.68 L160.14 220.67 L160.55 219.68 L160.96 218.7 L161.36 217.72 L161.77 216.75 L162.18 215.77 L162.59 214.78 L163 213.79 L163.41 212.8 L163.82 211.81 L164.23 210.83 L164.64 209.86 L165.05 208.9 L165.46 207.96 L165.86 207.03 L166.27 206.13 L166.68 205.25 L167.09 204.39 L167.5 203.56 L167.91 202.79 L168.32 202.06 L168.73 201.37 L169.14 200.69 L169.55 200 L169.96 199.3 L170.36 198.56 L170.77 197.76 L171.18 196.89 L171.59 195.95 L172 194.93 L172.41 193.86 L172.82 192.74 L173.23 191.59 L173.64 190.41 L174.05 189.21 L174.46 188.01 L174.87 186.82 L175.27 185.64 L175.68 184.5 L176.09 183.38 L176.5 182.28 L176.91 181.16 L177.32 180.03 L177.73 178.89 L178.14 177.76 L178.55 176.63 L178.96 175.53 L179.37 174.46 L179.77 173.42 L180.18 172.42 L180.59 171.48 L181 170.59 L181.41 169.76 L181.82 168.93 L182.23 168.1 L182.64 167.28 L183.05 166.49 L183.46 165.75 L183.87 165.05 L184.27 164.42 L184.68 163.87 L185.09 163.41 L185.5 163.05 L185.91 162.74 L186.32 162.45 L186.73 162.16 L187.14 161.89 L187.55 161.64 L187.96 161.41 L188.37 161.21 L188.77 161.03 L189.18 160.88 L189.59 160.76 L190 160.68 L190.41 160.65 L190.82 160.65 L191.23 160.72 L191.64 160.83 L192.05 161 L192.46 161.21 L192.87 161.45 L193.27 161.73 L193.68 162.04 L194.09 162.38 L194.5 162.73 L194.91 163.1 L195.32 163.48 L195.73 163.86 L196.14 164.33 L196.55 164.9 L196.96 165.56 L197.37 166.29 L197.77 167.09 L198.18 167.92 L198.59 168.79 L199 169.66 L199.41 170.54 L199.82 171.4 L200.23 172.24 L200.64 173.1 L201.05 173.99 L201.46 174.89 L201.87 175.82 L202.27 176.76 L202.68 177.71 L203.09 178.68 L203.5 179.65 L203.91 180.63 L204.32 181.62 L204.73 182.6 L205.14 183.58 L205.55 184.56 L205.96 185.54 L206.37 186.53 L206.77 187.53 L207.18 188.53 L207.59 189.54 L208 190.57 L208.41 191.61 L208.82 192.66 L209.23 193.73 L209.64 194.81 L210.05 195.93 L210.46 197.09 L210.87 198.27 L211.27 199.49 L211.68 200.71 L212.09 201.94 L212.5 203.16 L212.91 204.36 L213.32 205.54 L213.73 206.68 L214.14 207.8 L214.55 208.91 L214.96 210.02 L215.37 211.11 L215.78 212.19 L216.18 213.26 L216.59 214.31 L217 215.35 L217.41 216.37 L217.82 217.36 L218.23 218.34 L218.64 219.31 L219.05 220.28 L219.46 221.25 L219.87 222.2 L220.28 223.13 L220.68 224.04 L221.09 224.91 L221.5 225.75 L221.91 226.55 L222.32 227.29 L222.73 227.99 L223.14 228.69 L223.55 229.38 L223.96 230.07 L224.37 230.74 L224.78 231.4 L225.18 232.03 L225.59 232.63 L226 233.2 L226.41 233.73 L226.82 234.21 L227.23 234.65 L227.64 235.04 L228.05 235.36 L228.46 235.63 L228.87 235.88 L229.28 236.13 L229.68 236.37 L230.09 236.6 L230.5 236.83 L230.91 237.04 L231.32 237.23 L231.73 237.42 L232.14 237.58 L232.55 237.73 L232.96 237.85 L233.37 237.95 L233.78 238.03 L234.18 238.09 L234.59 238.11 L235 238.11 L235.41 238.08 L235.82 238.02 L236.23 237.94 L236.64 237.83 L237.05 237.7 L237.46 237.55 L237.87 237.38 L238.28 237.2 L238.68 237.01 L239.09 236.8 L239.5 236.58 L239.91 236.35 L240.32 236.11 L240.73 235.87 L241.14 235.62 L241.55 235.37 L241.96 235.05 L242.37 234.67 L242.78 234.25 L243.18 233.77 L243.59 233.26 L244 232.71 L244.41 232.13 L244.82 231.53 L245.23 230.92 L245.64 230.29 L246.05 229.66 L246.46 229.03 L246.87 228.4 L247.28 227.79 L247.68 227.2 L248.09 226.63 L248.5 226.1 L248.91 225.58 L249.32 225.08 L249.73 224.58 L250.14 224.08 L250.55 223.6 L250.96 223.11 L251.37 222.62 L251.78 222.13 L252.18 221.65 L252.59 221.15 L253 220.65 L253.41 220.15 L253.82 219.64 L254.23 219.12 L254.64 218.58 L255.05 218.03 L255.46 217.45 L255.87 216.84 L256.28 216.2 L256.69 215.55 L257.09 214.89 L257.5 214.25 L257.91 213.62 L258.32 213.02 L258.73 212.46 L259.14 211.95 L259.55 211.5 L259.96 211.06 L260.37 210.62 L260.78 210.19 L261.19 209.77 L261.59 209.37 L262 208.98 L262.41 208.61 L262.82 208.26 L263.23 207.94 L263.64 207.65 L264.05 207.38 L264.46 207.15 L264.87 206.96 L265.28 206.81 L265.69 206.66 L266.09 206.52 L266.5 206.38 L266.91 206.25 L267.32 206.13 L267.73 206.01 L268.14 205.89 L268.55 205.79 L268.96 205.7 L269.37 205.62 L269.78 205.55 L270.19 205.49 L270.59 205.44 L271 205.41 L271.41 205.39 L271.82 205.39 L272.23 205.41 L272.64 205.45 L273.05 205.51 L273.46 205.58 L273.87 205.67 L274.28 205.78 L274.69 205.9 L275.09 206.02 L275.5 206.16 L275.91 206.31 L276.32 206.47 L276.73 206.63 L277.14 206.8 L277.55 206.96 L277.96 207.13 L278.37 207.31 L278.78 207.51 L279.19 207.74 L279.59 207.99 L280 208.28 L280.41 208.58 L280.82 208.9 L281.23 209.23 L281.64 209.58 L282.05 209.94 L282.46 210.3 L282.87 210.66 L283.28 211.03 L283.69 211.39 L284.09 211.75 L284.5 212.11 L284.91 212.48 L285.32 212.86 L285.73 213.26 L286.14 213.66 L286.55 214.07 L286.96 214.49 L287.37 214.91 L287.78 215.33 L288.19 215.76 L288.59 216.19 L289 216.61 L289.41 217.04 L289.82 217.47 L290.23 217.89 L290.64 218.31 L291.05 218.72 L291.46 219.13 L291.87 219.55 L292.28 219.96 L292.69 220.39 L293.09 220.81 L293.5 221.24 L293.91 221.66 L294.32 222.09 L294.73 222.51 L295.14 222.93 L295.55 223.35 L295.96 223.76 L296.37 224.16 L296.78 224.55 L297.19 224.94 L297.6 225.31 L298 225.68 L298.41 226.03 L298.82 226.37 L299.23 226.71 L299.64 227.05 L300.05 227.38 L300.46 227.71 L300.87 228.04 L301.28 228.36 L301.69 228.68 L302.1 228.99 L302.5 229.29 L302.91 229.58 L303.32 229.86 L303.73 230.14 L304.14 230.4 L304.55 230.65 L304.96 230.88 L305.37 231.11 L305.78 231.31 L306.19 231.51 L306.6 231.71 L307 231.9 L307.41 232.08 L307.82 232.25 L308.23 232.43 L308.64 232.59 L309.05 232.75 L309.46 232.91 L309.87 233.06 L310.28 233.2 L310.69 233.34 L311.1 233.48 L311.5 233.61 L311.91 233.74 L312.32 233.86 L312.73 233.98 L313.14 234.09 L313.55 234.21 L313.96 234.33 L314.37 234.46 L314.78 234.58 L315.19 234.7 L315.6 234.82 L316 234.93 L316.41 235.03 L316.82 235.12 L317.23 235.2 L317.64 235.26 L318.05 235.31 L318.46 235.33 L318.87 235.34 L319.28 235.33 L319.69 235.31 L320.1 235.27 L320.5 235.22 L320.91 235.17 L321.32 235.1 L321.73 235.03 L322.14 234.95 L322.55 234.86 L322.96 234.78 L323.37 234.69 L323.78 234.6 L324.19 234.51 L324.6 234.42 L325 234.33 L325.41 234.23 L325.82 234.12 L326.23 234 L326.64 233.88 L327.05 233.76 L327.46 233.62 L327.87 233.48 L328.28 233.34 L328.69 233.2 L329.1 233.05 L329.5 232.89 L329.91 232.74 L330.32 232.58 L330.73 232.42 L331.14 232.27 L331.55 232.11 L331.96 231.95 L332.37 231.78 L332.78 231.61 L333.19 231.43 L333.6 231.25 L334 231.05 L334.41 230.86 L334.82 230.66 L335.23 230.46 L335.64 230.26 L336.05 230.06 L336.46 229.87 L336.87 229.67 L337.28 229.48 L337.69 229.29 L338.1 229.1 L338.5 228.92 L338.91 228.75 L339.32 228.59 L339.73 228.42 L340.14 228.24 L340.55 228.07 L340.96 227.89 L341.37 227.72 L341.78 227.54 L342.19 227.37 L342.6 227.2 L343.01 227.04 L343.41 226.89 L343.82 226.74 L344.23 226.6 L344.64 226.48 L345.05 226.36 L345.46 226.26 L345.87 226.17 L346.28 226.1 L346.69 226.03 L347.1 225.97 L347.51 225.91 L347.91 225.85 L348.32 225.79 L348.73 225.73 L349.14 225.68 L349.55 225.63 L349.96 225.58 L350.37 225.53 L350.78 225.49 L351.19 225.46 L351.6 225.43 L352.01 225.4 L352.41 225.38 L352.82 225.37 L353.23 225.36 L353.64 225.36 L354.05 225.36 L354.46 225.37 L354.87 225.38 L355.28 225.39 L355.69 225.41 L356.1 225.44 L356.51 225.46 L356.91 225.5 L357.32 225.53 L357.73 225.57 L358.14 225.62 L358.55 225.67 L358.96 225.73" fill="none" stroke="rgba(30,30,255,0.8)" stroke-width="0.9"/>
<line x1="103.3" y1="238.45000000000002" x2="369.1" y2="238.45000000000002" stroke="#dc3a5a" stroke-width="1" stroke-dasharray="2.4 5.27"/>
<rect x="207.4" y="64.6" width="141" height="80.6" fill="#fff"/>
<path d="M212.6 67.4 L213.26 68.14 L213.91 68.87 L214.57 69.6 L215.23 70.31 L215.89 71.01 L216.54 71.69 L217.2 72.36 L217.86 73.01 L218.52 73.65 L219.17 74.26 L219.83 74.86 L220.49 75.45 L221.14 76.03 L221.8 76.6 L222.46 77.16 L223.12 77.72 L223.77 78.26 L224.43 78.8 L225.09 79.33 L225.75 79.85 L226.4 80.37 L227.06 80.87 L227.72 81.37 L228.37 81.87 L229.03 82.35 L229.69 82.83 L230.35 83.31 L231 83.77 L231.66 84.23 L232.32 84.69 L232.98 85.13 L233.63 85.57 L234.29 86.01 L234.95 86.43 L235.61 86.86 L236.26 87.27 L236.92 87.69 L237.58 88.09 L238.23 88.5 L238.89 88.9 L239.55 89.3 L240.21 89.69 L240.86 90.09 L241.52 90.48 L242.18 90.87 L242.84 91.25 L243.49 91.64 L244.15 92.03 L244.81 92.41 L245.46 92.8 L246.12 93.18 L246.78 93.55 L247.44 93.93 L248.09 94.3 L248.75 94.66 L249.41 95.03 L250.07 95.39 L250.72 95.75 L251.38 96.11 L252.04 96.46 L252.69 96.81 L253.35 97.16 L254.01 97.51 L254.67 97.86 L255.32 98.2 L255.98 98.55 L256.64 98.89 L257.3 99.23 L257.95 99.57 L258.61 99.91 L259.27 100.24 L259.92 100.57 L260.58 100.89 L261.24 101.21 L261.9 101.52 L262.55 101.83 L263.21 102.13 L263.87 102.42 L264.53 102.7 L265.18 102.98 L265.84 103.26 L266.5 103.53 L267.15 103.79 L267.81 104.06 L268.47 104.32 L269.13 104.57 L269.78 104.83 L270.44 105.08 L271.1 105.33 L271.76 105.58 L272.41 105.83 L273.07 106.07 L273.73 106.32 L274.38 106.57 L275.04 106.81 L275.7 107.06 L276.36 107.29 L277.01 107.53 L277.67 107.77 L278.33 108 L278.99 108.24 L279.64 108.47 L280.3 108.7 L280.96 108.94 L281.62 109.17 L282.27 109.41 L282.93 109.64 L283.59 109.88 L284.24 110.12 L284.9 110.36 L285.56 110.61 L286.22 110.86 L286.87 111.12 L287.53 111.38 L288.19 111.64 L288.85 111.91 L289.5 112.17 L290.16 112.43 L290.82 112.69 L291.47 112.94 L292.13 113.19 L292.79 113.43 L293.45 113.66 L294.1 113.87 L294.76 114.08 L295.42 114.28 L296.08 114.48 L296.73 114.66 L297.39 114.85 L298.05 115.03 L298.7 115.21 L299.36 115.38 L300.02 115.55 L300.68 115.71 L301.33 115.88 L301.99 116.04 L302.65 116.2 L303.31 116.36 L303.96 116.52 L304.62 116.68 L305.28 116.83 L305.93 116.99 L306.59 117.14 L307.25 117.29 L307.91 117.44 L308.56 117.59 L309.22 117.73 L309.88 117.87 L310.54 118.02 L311.19 118.16 L311.85 118.29 L312.51 118.43 L313.16 118.56 L313.82 118.69 L314.48 118.82 L315.14 118.95 L315.79 119.08 L316.45 119.2 L317.11 119.33 L317.77 119.45 L318.42 119.57 L319.08 119.69 L319.74 119.8 L320.39 119.92 L321.05 120.03 L321.71 120.15 L322.37 120.26 L323.02 120.37 L323.68 120.48 L324.34 120.59 L325 120.7 L325.65 120.8 L326.31 120.9 L326.97 121.01 L327.63 121.11 L328.28 121.21 L328.94 121.31 L329.6 121.41 L330.25 121.51 L330.91 121.6 L331.57 121.7 L332.23 121.8 L332.88 121.89 L333.54 121.99 L334.2 122.09 L334.86 122.18 L335.51 122.28 L336.17 122.38 L336.83 122.47 L337.48 122.57 L338.14 122.66 L338.8 122.75 L339.46 122.85 L340.11 122.94 L340.77 123.03 L341.43 123.13 L342.09 123.22 L342.74 123.31 L343.4 123.4 L343.8 123.4 L343.8 141.9 L212 141.9 L212 67.4Z" fill="rgba(0,0,0,0.2)"/>
<path d="M212.6 67.4 L213.26 68.14 L213.91 68.87 L214.57 69.6 L215.23 70.31 L215.89 71.01 L216.54 71.69 L217.2 72.36 L217.86 73.01 L218.52 73.65 L219.17 74.26 L219.83 74.86 L220.49 75.45 L221.14 76.03 L221.8 76.6 L222.46 77.16 L223.12 77.72 L223.77 78.26 L224.43 78.8 L225.09 79.33 L225.75 79.85 L226.4 80.37 L227.06 80.87 L227.72 81.37 L228.37 81.87 L229.03 82.35 L229.69 82.83 L230.35 83.31 L231 83.77 L231.66 84.23 L232.32 84.69 L232.98 85.13 L233.63 85.57 L234.29 86.01 L234.95 86.43 L235.61 86.86 L236.26 87.27 L236.92 87.69 L237.58 88.09 L238.23 88.5 L238.89 88.9 L239.55 89.3 L240.21 89.69 L240.86 90.09 L241.52 90.48 L242.18 90.87 L242.84 91.25 L243.49 91.64 L244.15 92.03 L244.81 92.41 L245.46 92.8 L246.12 93.18 L246.78 93.55 L247.44 93.93 L248.09 94.3 L248.75 94.66 L249.41 95.03 L250.07 95.39 L250.72 95.75 L251.38 96.11 L252.04 96.46 L252.69 96.81 L253.35 97.16 L254.01 97.51 L254.67 97.86 L255.32 98.2 L255.98 98.55 L256.64 98.89 L257.3 99.23 L257.95 99.57 L258.61 99.91 L259.27 100.24 L259.92 100.57 L260.58 100.89 L261.24 101.21 L261.9 101.52 L262.55 101.83 L263.21 102.13 L263.87 102.42 L264.53 102.7 L265.18 102.98 L265.84 103.26 L266.5 103.53 L267.15 103.79 L267.81 104.06 L268.47 104.32 L269.13 104.57 L269.78 104.83 L270.44 105.08 L271.1 105.33 L271.76 105.58 L272.41 105.83 L273.07 106.07 L273.73 106.32 L274.38 106.57 L275.04 106.81 L275.7 107.06 L276.36 107.29 L277.01 107.53 L277.67 107.77 L278.33 108 L278.99 108.24 L279.64 108.47 L280.3 108.7 L280.96 108.94 L281.62 109.17 L282.27 109.41 L282.93 109.64 L283.59 109.88 L284.24 110.12 L284.9 110.36 L285.56 110.61 L286.22 110.86 L286.87 111.12 L287.53 111.38 L288.19 111.64 L288.85 111.91 L289.5 112.17 L290.16 112.43 L290.82 112.69 L291.47 112.94 L292.13 113.19 L292.79 113.43 L293.45 113.66 L294.1 113.87 L294.76 114.08 L295.42 114.28 L296.08 114.48 L296.73 114.66 L297.39 114.85 L298.05 115.03 L298.7 115.21 L299.36 115.38 L300.02 115.55 L300.68 115.71 L301.33 115.88 L301.99 116.04 L302.65 116.2 L303.31 116.36 L303.96 116.52 L304.62 116.68 L305.28 116.83 L305.93 116.99 L306.59 117.14 L307.25 117.29 L307.91 117.44 L308.56 117.59 L309.22 117.73 L309.88 117.87 L310.54 118.02 L311.19 118.16 L311.85 118.29 L312.51 118.43 L313.16 118.56 L313.82 118.69 L314.48 118.82 L315.14 118.95 L315.79 119.08 L316.45 119.2 L317.11 119.33 L317.77 119.45 L318.42 119.57 L319.08 119.69 L319.74 119.8 L320.39 119.92 L321.05 120.03 L321.71 120.15 L322.37 120.26 L323.02 120.37 L323.68 120.48 L324.34 120.59 L325 120.7 L325.65 120.8 L326.31 120.9 L326.97 121.01 L327.63 121.11 L328.28 121.21 L328.94 121.31 L329.6 121.41 L330.25 121.51 L330.91 121.6 L331.57 121.7 L332.23 121.8 L332.88 121.89 L333.54 121.99 L334.2 122.09 L334.86 122.18 L335.51 122.28 L336.17 122.38 L336.83 122.47 L337.48 122.57 L338.14 122.66 L338.8 122.75 L339.46 122.85 L340.11 122.94 L340.77 123.03 L341.43 123.13 L342.09 123.22 L342.74 123.31 L343.4 123.4" fill="none" stroke="#111" stroke-width="0.95"/>
<path d="M212.6 67.4 L213.26 68.1 L213.91 68.81 L214.57 69.51 L215.23 70.21 L215.89 70.91 L216.54 71.61 L217.2 72.31 L217.86 73.01 L218.52 73.71 L219.17 74.41 L219.83 75.11 L220.49 75.81 L221.14 76.51 L221.8 77.21 L222.46 77.91 L223.12 78.6 L223.77 79.3 L224.43 80 L225.09 80.69 L225.75 81.39 L226.4 82.09 L227.06 82.8 L227.72 83.5 L228.37 84.21 L229.03 84.92 L229.69 85.62 L230.35 86.33 L231 87.03 L231.66 87.74 L232.32 88.44 L232.98 89.14 L233.63 89.83 L234.29 90.52 L234.95 91.2 L235.61 91.88 L236.26 92.56 L236.92 93.22 L237.58 93.88 L238.23 94.53 L238.89 95.18 L239.55 95.82 L240.21 96.45 L240.86 97.08 L241.52 97.71 L242.18 98.33 L242.84 98.94 L243.49 99.55 L244.15 100.15 L244.81 100.75 L245.46 101.34 L246.12 101.93 L246.78 102.51 L247.44 103.08 L248.09 103.65 L248.75 104.22 L249.41 104.78 L250.07 105.34 L250.72 105.9 L251.38 106.45 L252.04 107 L252.69 107.54 L253.35 108.08 L254.01 108.61 L254.67 109.14 L255.32 109.66 L255.98 110.18 L256.64 110.69 L257.3 111.19 L257.95 111.69 L258.61 112.18 L259.27 112.67 L259.92 113.16 L260.58 113.63 L261.24 114.11 L261.9 114.58 L262.55 115.04 L263.21 115.5 L263.87 115.96 L264.53 116.41 L265.18 116.86 L265.84 117.3 L266.5 117.74 L267.15 118.17 L267.81 118.6 L268.47 119.03 L269.13 119.45 L269.78 119.86 L270.44 120.27 L271.1 120.67 L271.76 121.07 L272.41 121.47 L273.07 121.87 L273.73 122.26 L274.38 122.66 L275.04 123.05 L275.7 123.45 L276.36 123.84 L277.01 124.24 L277.67 124.64 L278.33 125.05 L278.99 125.46 L279.64 125.86 L280.3 126.27 L280.96 126.68 L281.62 127.09 L282.27 127.49 L282.93 127.89 L283.59 128.29 L284.24 128.68 L284.9 129.06 L285.56 129.44 L286.22 129.82 L286.87 130.2 L287.53 130.57 L288.19 130.95 L288.85 131.32 L289.5 131.69 L290.16 132.05 L290.82 132.41 L291.47 132.76 L292.13 133.11 L292.79 133.45 L293.45 133.78 L294.1 134.11 L294.76 134.43 L295.42 134.74 L296.08 135.06 L296.73 135.38 L297.39 135.69 L298.05 136 L298.7 136.3 L299.36 136.6 L300.02 136.89 L300.68 137.17 L301.33 137.44 L301.99 137.7 L302.65 137.95 L303.31 138.18 L303.96 138.4 L304.62 138.6 L305.28 138.79 L305.93 138.98 L306.59 139.17 L307.25 139.35 L307.91 139.53 L308.56 139.7 L309.22 139.86 L309.88 140.02 L310.54 140.17 L311.19 140.31 L311.85 140.44 L312.51 140.55 L313.16 140.66 L313.82 140.76 L314.48 140.85 L315.14 140.94 L315.79 141.03 L316.45 141.11 L317.11 141.2 L317.77 141.28 L318.42 141.35 L319.08 141.42 L319.74 141.49 L320.39 141.55 L321.05 141.6 L321.71 141.64 L322.37 141.67 L323.02 141.69 L323.68 141.7 L324.34 141.7 L325 141.69 L325.65 141.68 L326.31 141.66 L326.97 141.64 L327.63 141.62 L328.28 141.59 L328.94 141.56 L329.6 141.53 L330.25 141.5 L330.91 141.46 L331.57 141.42 L332.23 141.38 L332.88 141.34 L333.54 141.3 L334.2 141.26 L334.86 141.21 L335.51 141.15 L336.17 141.09 L336.83 141.02 L337.48 140.95 L338.14 140.87 L338.8 140.79 L339.46 140.7 L340.11 140.61 L340.77 140.51 L341.43 140.41 L342.09 140.31 L342.74 140.21 L343.4 140.1 L343.8 140.1 L343.8 141.9 L212 141.9 L212 67.4Z" fill="rgba(0,0,255,0.27)"/>
<path d="M212.6 67.4 L213.26 68.1 L213.91 68.81 L214.57 69.51 L215.23 70.21 L215.89 70.91 L216.54 71.61 L217.2 72.31 L217.86 73.01 L218.52 73.71 L219.17 74.41 L219.83 75.11 L220.49 75.81 L221.14 76.51 L221.8 77.21 L222.46 77.91 L223.12 78.6 L223.77 79.3 L224.43 80 L225.09 80.69 L225.75 81.39 L226.4 82.09 L227.06 82.8 L227.72 83.5 L228.37 84.21 L229.03 84.92 L229.69 85.62 L230.35 86.33 L231 87.03 L231.66 87.74 L232.32 88.44 L232.98 89.14 L233.63 89.83 L234.29 90.52 L234.95 91.2 L235.61 91.88 L236.26 92.56 L236.92 93.22 L237.58 93.88 L238.23 94.53 L238.89 95.18 L239.55 95.82 L240.21 96.45 L240.86 97.08 L241.52 97.71 L242.18 98.33 L242.84 98.94 L243.49 99.55 L244.15 100.15 L244.81 100.75 L245.46 101.34 L246.12 101.93 L246.78 102.51 L247.44 103.08 L248.09 103.65 L248.75 104.22 L249.41 104.78 L250.07 105.34 L250.72 105.9 L251.38 106.45 L252.04 107 L252.69 107.54 L253.35 108.08 L254.01 108.61 L254.67 109.14 L255.32 109.66 L255.98 110.18 L256.64 110.69 L257.3 111.19 L257.95 111.69 L258.61 112.18 L259.27 112.67 L259.92 113.16 L260.58 113.63 L261.24 114.11 L261.9 114.58 L262.55 115.04 L263.21 115.5 L263.87 115.96 L264.53 116.41 L265.18 116.86 L265.84 117.3 L266.5 117.74 L267.15 118.17 L267.81 118.6 L268.47 119.03 L269.13 119.45 L269.78 119.86 L270.44 120.27 L271.1 120.67 L271.76 121.07 L272.41 121.47 L273.07 121.87 L273.73 122.26 L274.38 122.66 L275.04 123.05 L275.7 123.45 L276.36 123.84 L277.01 124.24 L277.67 124.64 L278.33 125.05 L278.99 125.46 L279.64 125.86 L280.3 126.27 L280.96 126.68 L281.62 127.09 L282.27 127.49 L282.93 127.89 L283.59 128.29 L284.24 128.68 L284.9 129.06 L285.56 129.44 L286.22 129.82 L286.87 130.2 L287.53 130.57 L288.19 130.95 L288.85 131.32 L289.5 131.69 L290.16 132.05 L290.82 132.41 L291.47 132.76 L292.13 133.11 L292.79 133.45 L293.45 133.78 L294.1 134.11 L294.76 134.43 L295.42 134.74 L296.08 135.06 L296.73 135.38 L297.39 135.69 L298.05 136 L298.7 136.3 L299.36 136.6 L300.02 136.89 L300.68 137.17 L301.33 137.44 L301.99 137.7 L302.65 137.95 L303.31 138.18 L303.96 138.4 L304.62 138.6 L305.28 138.79 L305.93 138.98 L306.59 139.17 L307.25 139.35 L307.91 139.53 L308.56 139.7 L309.22 139.86 L309.88 140.02 L310.54 140.17 L311.19 140.31 L311.85 140.44 L312.51 140.55 L313.16 140.66 L313.82 140.76 L314.48 140.85 L315.14 140.94 L315.79 141.03 L316.45 141.11 L317.11 141.2 L317.77 141.28 L318.42 141.35 L319.08 141.42 L319.74 141.49 L320.39 141.55 L321.05 141.6 L321.71 141.64 L322.37 141.67 L323.02 141.69 L323.68 141.7 L324.34 141.7 L325 141.69 L325.65 141.68 L326.31 141.66 L326.97 141.64 L327.63 141.62 L328.28 141.59 L328.94 141.56 L329.6 141.53 L330.25 141.5 L330.91 141.46 L331.57 141.42 L332.23 141.38 L332.88 141.34 L333.54 141.3 L334.2 141.26 L334.86 141.21 L335.51 141.15 L336.17 141.09 L336.83 141.02 L337.48 140.95 L338.14 140.87 L338.8 140.79 L339.46 140.7 L340.11 140.61 L340.77 140.51 L341.43 140.41 L342.09 140.31 L342.74 140.21 L343.4 140.1" fill="none" stroke="rgba(30,30,255,0.8)" stroke-width="0.95"/>
<path d="M212.6 67.4 L212.85 68.64 L213.1 72.04 L213.36 77.34 L213.61 84.21 L213.86 92.16 L214.11 100.65 L214.37 109.12 L214.62 116.99 L214.87 123.72 L215.12 128.87 L215.38 132.1 L215.63 133.2 L215.88 132.1 L216.13 128.89 L216.38 123.8 L216.64 117.19 L216.89 109.51 L217.14 101.3 L217.39 93.13 L217.65 85.56 L217.9 79.1 L218.15 74.21 L218.4 71.21 L218.66 70.3 L218.91 71.56 L219.16 74.89 L219.41 80.07 L219.66 86.74 L219.92 94.45 L220.17 102.67 L220.42 110.85 L220.67 118.43 L220.93 124.9 L221.18 129.84 L221.43 132.9 L221.68 133.9 L221.94 132.77 L222.19 129.6 L222.44 124.62 L222.69 118.17 L222.94 110.71 L223.2 102.75 L223.45 94.84 L223.7 87.52 L223.95 81.29 L224.21 76.59 L224.46 73.73 L224.71 72.91 L224.96 74.18 L225.22 77.46 L225.47 82.52 L225.72 89.02 L225.97 96.51 L226.23 104.48 L226.48 112.4 L226.73 119.73 L226.98 125.96 L227.23 130.69 L227.49 133.6 L227.74 134.5 L227.99 133.33 L228.24 130.18 L228.5 125.29 L228.75 118.99 L229 111.71 L229.25 103.97 L229.51 96.29 L229.76 89.21 L230.01 83.2 L230.26 78.68 L230.51 75.96 L230.77 75.22 L231.02 76.5 L231.27 79.73 L231.52 84.67 L231.78 91 L232.03 98.27 L232.28 105.99 L232.53 113.64 L232.79 120.7 L233.04 126.7 L233.29 131.23 L233.54 133.98 L233.79 134.79 L234.05 133.6 L234.3 130.5 L234.55 125.72 L234.8 119.58 L235.06 112.51 L235.31 105 L235.56 97.56 L235.81 90.71 L236.07 84.92 L236.32 80.58 L236.57 77.99 L236.82 77.32 L237.07 78.63 L237.33 81.83 L237.58 86.69 L237.83 92.88 L238.08 99.98 L238.34 107.52 L238.59 114.97 L238.84 121.83 L239.09 127.64 L239.35 132.01 L239.6 134.65 L239.85 135.38 L240.1 134.17 L240.35 131.1 L240.61 126.39 L240.86 120.38 L241.11 113.47 L241.36 106.15 L241.62 98.92 L241.87 92.27 L242.12 86.67 L242.37 82.49 L242.63 80.03 L242.88 79.43 L243.13 80.76 L243.38 83.91 L243.63 88.67 L243.89 94.71 L244.14 101.63 L244.39 108.95 L244.64 116.17 L244.9 122.81 L245.15 128.42 L245.4 132.61 L245.65 135.12 L245.91 135.78 L246.16 134.54 L246.41 131.51 L246.66 126.88 L246.92 121 L247.17 114.25 L247.42 107.11 L247.67 100.07 L247.92 93.61 L248.18 88.18 L248.43 84.14 L248.68 81.77 L248.93 81.24 L249.19 82.59 L249.44 85.71 L249.69 90.4 L249.94 96.34 L250.2 103.12 L250.45 110.29 L250.7 117.36 L250.95 123.84 L251.2 129.3 L251.46 133.37 L251.71 135.78 L251.96 136.37 L252.21 135.1 L252.47 132.07 L252.72 127.49 L252.97 121.68 L253.22 115.04 L253.48 108.02 L253.73 101.12 L253.98 94.8 L254.23 89.51 L254.48 85.59 L254.74 83.32 L254.99 82.86 L255.24 84.23 L255.49 87.34 L255.75 91.98 L256 97.82 L256.25 104.49 L256.5 111.5 L256.76 118.4 L257.01 124.72 L257.26 130.02 L257.51 133.95 L257.76 136.24 L258.02 136.76 L258.27 135.46 L258.52 132.44 L258.77 127.93 L259.03 122.22 L259.28 115.72 L259.53 108.87 L259.78 102.15 L260.04 96.02 L260.29 90.89 L260.54 87.12 L260.79 84.97 L261.04 84.57 L261.3 85.96 L261.55 89.04 L261.8 93.6 L262.05 99.33 L262.31 105.83 L262.56 112.67 L262.81 119.38 L263.06 125.5 L263.32 130.63 L263.57 134.41 L263.82 136.6 L264.07 137.05 L264.32 135.73 L264.58 132.75 L264.83 128.32 L265.08 122.73 L265.33 116.38 L265.59 109.7 L265.84 103.16 L266.09 97.2 L266.34 92.23 L266.6 88.59 L266.85 86.52 L267.1 86.18 L267.35 87.58 L267.61 90.63 L267.86 95.13 L268.11 100.75 L268.36 107.13 L268.61 113.83 L268.87 120.4 L269.12 126.38 L269.37 131.38 L269.62 135.05 L269.88 137.14 L270.13 137.53 L270.38 136.19 L270.63 133.21 L270.89 128.81 L271.14 123.28 L271.39 117.01 L271.64 110.44 L271.89 104.01 L272.15 98.16 L272.4 93.3 L272.65 89.76 L272.9 87.78 L273.16 87.5 L273.41 88.93 L273.66 91.97 L273.91 96.43 L274.17 101.99 L274.42 108.26 L274.67 114.84 L274.92 121.26 L275.17 127.1 L275.43 131.95 L275.68 135.49 L275.93 137.49 L276.18 137.82 L276.44 136.45 L276.69 133.5 L276.94 129.16 L277.19 123.75 L277.45 117.62 L277.7 111.22 L277.95 104.97 L278.2 99.3 L278.45 94.61 L278.71 91.21 L278.96 89.33 L279.21 89.11 L279.46 90.56 L279.72 93.57 L279.97 97.95 L280.22 103.39 L280.47 109.52 L280.73 115.93 L280.98 122.18 L281.23 127.84 L281.48 132.54 L281.73 135.95 L281.99 137.84 L282.24 138.1 L282.49 136.71 L282.74 133.77 L283 129.5 L283.25 124.17 L283.5 118.17 L283.75 111.91 L284.01 105.81 L284.26 100.3 L284.51 95.75 L284.76 92.47 L285.01 90.69 L285.27 90.53 L285.52 91.99 L285.77 94.98 L286.02 99.28 L286.28 104.61 L286.53 110.59 L286.78 116.83 L287.03 122.89 L287.29 128.36 L287.54 132.88 L287.79 136.15 L288.04 137.94 L288.29 138.14 L288.55 136.74 L288.8 133.86 L289.05 129.69 L289.3 124.52 L289.56 118.71 L289.81 112.66 L290.06 106.79 L290.31 101.49 L290.57 97.14 L290.82 94.02 L291.07 92.36 L291.32 92.25 L291.58 93.7 L291.83 96.62 L292.08 100.8 L292.33 105.97 L292.58 111.75 L292.84 117.77 L293.09 123.61 L293.34 128.88 L293.59 133.22 L293.85 136.34 L294.1 138.02 L294.35 138.17 L294.6 136.77 L294.86 133.93 L295.11 129.84 L295.36 124.79 L295.61 119.13 L295.86 113.24 L296.12 107.54 L296.37 102.41 L296.62 98.2 L296.87 95.21 L297.13 93.62 L297.38 93.56 L297.63 95.02 L297.88 97.91 L298.14 102.01 L298.39 107.06 L298.64 112.7 L298.89 118.55 L299.14 124.22 L299.4 129.31 L299.65 133.49 L299.9 136.47 L300.15 138.06 L300.41 138.16 L300.66 136.76 L300.91 133.97 L301.16 129.99 L301.42 125.09 L301.67 119.61 L301.92 113.94 L302.17 108.45 L302.42 103.53 L302.68 99.51 L302.93 96.67 L303.18 95.19 L303.43 95.18 L303.69 96.63 L303.94 99.45 L304.19 103.44 L304.44 108.32 L304.7 113.77 L304.95 119.41 L305.2 124.86 L305.45 129.76 L305.7 133.76 L305.96 136.6 L306.21 138.09 L306.46 138.14 L306.71 136.75 L306.97 134.01 L307.22 130.12 L307.47 125.36 L307.72 120.04 L307.98 114.53 L308.23 109.22 L308.48 104.47 L308.73 100.59 L308.98 97.87 L309.24 96.47 L309.49 96.49 L309.74 97.94 L309.99 100.7 L310.25 104.6 L310.5 109.36 L310.75 114.66 L311 120.13 L311.26 125.41 L311.51 130.14 L311.76 133.99 L312.01 136.71 L312.27 138.12 L312.52 138.12 L312.77 136.73 L313.02 134.04 L313.27 130.23 L313.53 125.58 L313.78 120.41 L314.03 115.06 L314.28 109.91 L314.54 105.31 L314.79 101.58 L315.04 98.96 L315.29 97.64 L315.55 97.71 L315.8 99.15 L316.05 101.87 L316.3 105.68 L316.55 110.33 L316.81 115.48 L317.06 120.8 L317.31 125.92 L317.56 130.49 L317.82 134.21 L318.07 136.82 L318.32 138.15 L318.57 138.11 L318.83 136.71 L319.08 134.06 L319.33 130.32 L319.58 125.78 L319.83 120.73 L320.09 115.53 L320.34 110.53 L320.59 106.08 L320.84 102.47 L321.1 99.96 L321.35 98.72 L321.6 98.83 L321.85 100.27 L322.11 102.96 L322.36 106.71 L322.61 111.25 L322.86 116.28 L323.11 121.45 L323.37 126.42 L323.62 130.84 L323.87 134.42 L324.12 136.92 L324.38 138.17 L324.63 138.09 L324.88 136.7 L325.13 134.09 L325.39 130.45 L325.64 126.03 L325.89 121.14 L326.14 116.11 L326.39 111.29 L326.65 107.01 L326.9 103.55 L327.15 101.16 L327.4 100 L327.66 100.14 L327.91 101.58 L328.16 104.21 L328.41 107.85 L328.67 112.26 L328.92 117.13 L329.17 122.13 L329.42 126.93 L329.67 131.19 L329.93 134.63 L330.18 137.01 L330.43 138.19 L330.68 138.08 L330.94 136.69 L331.19 134.12 L331.44 130.56 L331.69 126.25 L331.95 121.48 L332.2 116.58 L332.45 111.9 L332.7 107.74 L332.96 104.4 L333.21 102.09 L333.46 100.99 L333.71 101.15 L333.96 102.58 L334.22 105.16 L334.47 108.73 L334.72 113.03 L334.97 117.79 L335.23 122.66 L335.48 127.33 L335.73 131.47 L335.98 134.8 L336.24 137.1 L336.49 138.21 L336.74 138.06 L336.99 136.66 L337.24 134.12 L337.5 130.6 L337.75 126.35 L338 121.66 L338.25 116.86 L338.51 112.27 L338.76 108.21 L339.01 104.95 L339.26 102.72 L339.52 101.67 L339.77 101.87 L340.02 103.31 L340.27 105.88 L340.52 109.41 L340.78 113.66 L341.03 118.33 L341.28 123.11 L341.53 127.68 L341.79 131.72 L342.04 134.95 L342.29 137.17 L342.54 138.22 L342.8 138.04 L343.05 136.64 L343.3 134.12 L343.7 134.12 L343.7 141.9 L212 141.9 L212 67.4Z" fill="rgba(255,150,0,0.08)"/>
<path d="M212.6 132.85 L212.85 132.88 L213.1 132.91 L213.36 132.94 L213.61 132.97 L213.86 133 L214.11 133.03 L214.37 133.05 L214.62 133.08 L214.87 133.11 L215.12 133.14 L215.38 133.17 L215.63 133.2 L215.88 133.23 L216.13 133.26 L216.38 133.29 L216.64 133.32 L216.89 133.35 L217.14 133.38 L217.39 133.41 L217.65 133.44 L217.9 133.47 L218.15 133.5 L218.4 133.53 L218.66 133.56 L218.91 133.59 L219.16 133.62 L219.41 133.65 L219.66 133.68 L219.92 133.7 L220.17 133.73 L220.42 133.76 L220.67 133.79 L220.93 133.82 L221.18 133.85 L221.43 133.87 L221.68 133.9 L221.94 133.93 L222.19 133.96 L222.44 133.98 L222.69 134.01 L222.94 134.04 L223.2 134.07 L223.45 134.1 L223.7 134.12 L223.95 134.15 L224.21 134.18 L224.46 134.21 L224.71 134.23 L224.96 134.26 L225.22 134.28 L225.47 134.31 L225.72 134.33 L225.97 134.36 L226.23 134.38 L226.48 134.4 L226.73 134.43 L226.98 134.45 L227.23 134.47 L227.49 134.48 L227.74 134.5 L227.99 134.52 L228.24 134.53 L228.5 134.55 L228.75 134.56 L229 134.57 L229.25 134.59 L229.51 134.6 L229.76 134.61 L230.01 134.62 L230.26 134.63 L230.51 134.64 L230.77 134.65 L231.02 134.66 L231.27 134.67 L231.52 134.68 L231.78 134.69 L232.03 134.71 L232.28 134.72 L232.53 134.73 L232.79 134.74 L233.04 134.76 L233.29 134.77 L233.54 134.79 L233.79 134.8 L234.05 134.82 L234.3 134.84 L234.55 134.86 L234.8 134.88 L235.06 134.91 L235.31 134.93 L235.56 134.96 L235.81 134.98 L236.07 135.01 L236.32 135.04 L236.57 135.07 L236.82 135.09 L237.07 135.12 L237.33 135.15 L237.58 135.18 L237.83 135.21 L238.08 135.23 L238.34 135.26 L238.59 135.29 L238.84 135.31 L239.09 135.34 L239.35 135.36 L239.6 135.38 L239.85 135.4 L240.1 135.42 L240.35 135.44 L240.61 135.46 L240.86 135.48 L241.11 135.49 L241.36 135.51 L241.62 135.53 L241.87 135.54 L242.12 135.56 L242.37 135.57 L242.63 135.59 L242.88 135.6 L243.13 135.62 L243.38 135.63 L243.63 135.65 L243.89 135.66 L244.14 135.68 L244.39 135.7 L244.64 135.71 L244.9 135.73 L245.15 135.75 L245.4 135.76 L245.65 135.78 L245.91 135.8 L246.16 135.82 L246.41 135.85 L246.66 135.87 L246.92 135.89 L247.17 135.92 L247.42 135.94 L247.67 135.97 L247.92 136 L248.18 136.02 L248.43 136.05 L248.68 136.08 L248.93 136.1 L249.19 136.13 L249.44 136.16 L249.69 136.19 L249.94 136.21 L250.2 136.24 L250.45 136.27 L250.7 136.29 L250.95 136.32 L251.2 136.34 L251.46 136.36 L251.71 136.38 L251.96 136.4 L252.21 136.42 L252.47 136.44 L252.72 136.46 L252.97 136.48 L253.22 136.5 L253.48 136.52 L253.73 136.54 L253.98 136.55 L254.23 136.57 L254.48 136.59 L254.74 136.6 L254.99 136.62 L255.24 136.64 L255.49 136.65 L255.75 136.67 L256 136.68 L256.25 136.7 L256.5 136.72 L256.76 136.73 L257.01 136.75 L257.26 136.76 L257.51 136.77 L257.76 136.79 L258.02 136.8 L258.27 136.82 L258.52 136.83 L258.77 136.84 L259.03 136.86 L259.28 136.87 L259.53 136.88 L259.78 136.89 L260.04 136.9 L260.29 136.91 L260.54 136.93 L260.79 136.94 L261.04 136.95 L261.3 136.96 L261.55 136.97 L261.8 136.98 L262.05 137 L262.31 137.01 L262.56 137.02 L262.81 137.03 L263.06 137.05 L263.32 137.06 L263.57 137.07 L263.82 137.09 L264.07 137.1 L264.32 137.12 L264.58 137.14 L264.83 137.16 L265.08 137.18 L265.33 137.2 L265.59 137.22 L265.84 137.24 L266.09 137.26 L266.34 137.29 L266.6 137.31 L266.85 137.33 L267.1 137.36 L267.35 137.38 L267.61 137.4 L267.86 137.43 L268.11 137.45 L268.36 137.47 L268.61 137.49 L268.87 137.51 L269.12 137.53 L269.37 137.55 L269.62 137.57 L269.88 137.59 L270.13 137.6 L270.38 137.62 L270.63 137.63 L270.89 137.65 L271.14 137.66 L271.39 137.68 L271.64 137.69 L271.89 137.7 L272.15 137.71 L272.4 137.73 L272.65 137.74 L272.9 137.75 L273.16 137.76 L273.41 137.77 L273.66 137.79 L273.91 137.8 L274.17 137.81 L274.42 137.82 L274.67 137.83 L274.92 137.84 L275.17 137.86 L275.43 137.87 L275.68 137.88 L275.93 137.89 L276.18 137.9 L276.44 137.92 L276.69 137.93 L276.94 137.95 L277.19 137.96 L277.45 137.97 L277.7 137.99 L277.95 138.01 L278.2 138.02 L278.45 138.04 L278.71 138.05 L278.96 138.07 L279.21 138.08 L279.46 138.1 L279.72 138.11 L279.97 138.12 L280.22 138.14 L280.47 138.15 L280.73 138.16 L280.98 138.17 L281.23 138.18 L281.48 138.19 L281.73 138.19 L281.99 138.2 L282.24 138.2 L282.49 138.2 L282.74 138.21 L283 138.21 L283.25 138.21 L283.5 138.22 L283.75 138.22 L284.01 138.22 L284.26 138.22 L284.51 138.22 L284.76 138.23 L285.01 138.23 L285.27 138.23 L285.52 138.23 L285.77 138.23 L286.02 138.23 L286.28 138.24 L286.53 138.24 L286.78 138.24 L287.03 138.24 L287.29 138.24 L287.54 138.24 L287.79 138.25 L288.04 138.25 L288.29 138.25 L288.55 138.25 L288.8 138.26 L289.05 138.26 L289.3 138.26 L289.56 138.26 L289.81 138.27 L290.06 138.27 L290.31 138.27 L290.57 138.27 L290.82 138.28 L291.07 138.28 L291.32 138.28 L291.58 138.28 L291.83 138.29 L292.08 138.29 L292.33 138.29 L292.58 138.29 L292.84 138.3 L293.09 138.3 L293.34 138.3 L293.59 138.3 L293.85 138.3 L294.1 138.3 L294.35 138.3 L294.6 138.3 L294.86 138.3 L295.11 138.3 L295.36 138.3 L295.61 138.3 L295.86 138.3 L296.12 138.3 L296.37 138.3 L296.62 138.3 L296.87 138.3 L297.13 138.3 L297.38 138.3 L297.63 138.3 L297.88 138.3 L298.14 138.3 L298.39 138.3 L298.64 138.3 L298.89 138.3 L299.14 138.3 L299.4 138.3 L299.65 138.3 L299.9 138.3 L300.15 138.3 L300.41 138.3 L300.66 138.3 L300.91 138.3 L301.16 138.3 L301.42 138.3 L301.67 138.3 L301.92 138.3 L302.17 138.3 L302.42 138.3 L302.68 138.3 L302.93 138.3 L303.18 138.3 L303.43 138.3 L303.69 138.3 L303.94 138.3 L304.19 138.3 L304.44 138.3 L304.7 138.3 L304.95 138.3 L305.2 138.3 L305.45 138.3 L305.7 138.3 L305.96 138.3 L306.21 138.3 L306.46 138.3 L306.71 138.3 L306.97 138.3 L307.22 138.3 L307.47 138.3 L307.72 138.3 L307.98 138.3 L308.23 138.3 L308.48 138.3 L308.73 138.3 L308.98 138.3 L309.24 138.3 L309.49 138.3 L309.74 138.3 L309.99 138.3 L310.25 138.3 L310.5 138.3 L310.75 138.3 L311 138.3 L311.26 138.3 L311.51 138.3 L311.76 138.3 L312.01 138.3 L312.27 138.3 L312.52 138.3 L312.77 138.3 L313.02 138.3 L313.27 138.3 L313.53 138.3 L313.78 138.3 L314.03 138.3 L314.28 138.3 L314.54 138.3 L314.79 138.3 L315.04 138.3 L315.29 138.3 L315.55 138.3 L315.8 138.3 L316.05 138.3 L316.3 138.3 L316.55 138.3 L316.81 138.3 L317.06 138.3 L317.31 138.3 L317.56 138.3 L317.82 138.3 L318.07 138.3 L318.32 138.3 L318.57 138.3 L318.83 138.3 L319.08 138.3 L319.33 138.3 L319.58 138.3 L319.83 138.3 L320.09 138.3 L320.34 138.3 L320.59 138.3 L320.84 138.3 L321.1 138.3 L321.35 138.3 L321.6 138.3 L321.85 138.3 L322.11 138.3 L322.36 138.3 L322.61 138.3 L322.86 138.3 L323.11 138.3 L323.37 138.3 L323.62 138.3 L323.87 138.3 L324.12 138.3 L324.38 138.3 L324.63 138.3 L324.88 138.3 L325.13 138.3 L325.39 138.3 L325.64 138.3 L325.89 138.3 L326.14 138.3 L326.39 138.3 L326.65 138.3 L326.9 138.3 L327.15 138.3 L327.4 138.3 L327.66 138.3 L327.91 138.3 L328.16 138.3 L328.41 138.3 L328.67 138.3 L328.92 138.3 L329.17 138.3 L329.42 138.3 L329.67 138.3 L329.93 138.3 L330.18 138.3 L330.43 138.3 L330.68 138.3 L330.94 138.3 L331.19 138.3 L331.44 138.3 L331.69 138.3 L331.95 138.3 L332.2 138.3 L332.45 138.3 L332.7 138.3 L332.96 138.3 L333.21 138.3 L333.46 138.3 L333.71 138.3 L333.96 138.3 L334.22 138.3 L334.47 138.3 L334.72 138.3 L334.97 138.3 L335.23 138.3 L335.48 138.3 L335.73 138.3 L335.98 138.3 L336.24 138.3 L336.49 138.3 L336.74 138.3 L336.99 138.3 L337.24 138.3 L337.5 138.3 L337.75 138.3 L338 138.3 L338.25 138.3 L338.51 138.3 L338.76 138.3 L339.01 138.3 L339.26 138.3 L339.52 138.3 L339.77 138.3 L340.02 138.3 L340.27 138.3 L340.52 138.3 L340.78 138.3 L341.03 138.3 L341.28 138.3 L341.53 138.3 L341.79 138.3 L342.04 138.3 L342.29 138.3 L342.54 138.3 L342.8 138.3 L343.05 138.3 L343.3 138.3 L343.7 138.3 L343.7 141.9 L212 141.9 L212 132.85Z" fill="rgba(255,140,0,0.16)"/>
<path d="M212.6 67.4 L212.85 68.64 L213.1 72.04 L213.36 77.34 L213.61 84.21 L213.86 92.16 L214.11 100.65 L214.37 109.12 L214.62 116.99 L214.87 123.72 L215.12 128.87 L215.38 132.1 L215.63 133.2 L215.88 132.1 L216.13 128.89 L216.38 123.8 L216.64 117.19 L216.89 109.51 L217.14 101.3 L217.39 93.13 L217.65 85.56 L217.9 79.1 L218.15 74.21 L218.4 71.21 L218.66 70.3 L218.91 71.56 L219.16 74.89 L219.41 80.07 L219.66 86.74 L219.92 94.45 L220.17 102.67 L220.42 110.85 L220.67 118.43 L220.93 124.9 L221.18 129.84 L221.43 132.9 L221.68 133.9 L221.94 132.77 L222.19 129.6 L222.44 124.62 L222.69 118.17 L222.94 110.71 L223.2 102.75 L223.45 94.84 L223.7 87.52 L223.95 81.29 L224.21 76.59 L224.46 73.73 L224.71 72.91 L224.96 74.18 L225.22 77.46 L225.47 82.52 L225.72 89.02 L225.97 96.51 L226.23 104.48 L226.48 112.4 L226.73 119.73 L226.98 125.96 L227.23 130.69 L227.49 133.6 L227.74 134.5 L227.99 133.33 L228.24 130.18 L228.5 125.29 L228.75 118.99 L229 111.71 L229.25 103.97 L229.51 96.29 L229.76 89.21 L230.01 83.2 L230.26 78.68 L230.51 75.96 L230.77 75.22 L231.02 76.5 L231.27 79.73 L231.52 84.67 L231.78 91 L232.03 98.27 L232.28 105.99 L232.53 113.64 L232.79 120.7 L233.04 126.7 L233.29 131.23 L233.54 133.98 L233.79 134.79 L234.05 133.6 L234.3 130.5 L234.55 125.72 L234.8 119.58 L235.06 112.51 L235.31 105 L235.56 97.56 L235.81 90.71 L236.07 84.92 L236.32 80.58 L236.57 77.99 L236.82 77.32 L237.07 78.63 L237.33 81.83 L237.58 86.69 L237.83 92.88 L238.08 99.98 L238.34 107.52 L238.59 114.97 L238.84 121.83 L239.09 127.64 L239.35 132.01 L239.6 134.65 L239.85 135.38 L240.1 134.17 L240.35 131.1 L240.61 126.39 L240.86 120.38 L241.11 113.47 L241.36 106.15 L241.62 98.92 L241.87 92.27 L242.12 86.67 L242.37 82.49 L242.63 80.03 L242.88 79.43 L243.13 80.76 L243.38 83.91 L243.63 88.67 L243.89 94.71 L244.14 101.63 L244.39 108.95 L244.64 116.17 L244.9 122.81 L245.15 128.42 L245.4 132.61 L245.65 135.12 L245.91 135.78 L246.16 134.54 L246.41 131.51 L246.66 126.88 L246.92 121 L247.17 114.25 L247.42 107.11 L247.67 100.07 L247.92 93.61 L248.18 88.18 L248.43 84.14 L248.68 81.77 L248.93 81.24 L249.19 82.59 L249.44 85.71 L249.69 90.4 L249.94 96.34 L250.2 103.12 L250.45 110.29 L250.7 117.36 L250.95 123.84 L251.2 129.3 L251.46 133.37 L251.71 135.78 L251.96 136.37 L252.21 135.1 L252.47 132.07 L252.72 127.49 L252.97 121.68 L253.22 115.04 L253.48 108.02 L253.73 101.12 L253.98 94.8 L254.23 89.51 L254.48 85.59 L254.74 83.32 L254.99 82.86 L255.24 84.23 L255.49 87.34 L255.75 91.98 L256 97.82 L256.25 104.49 L256.5 111.5 L256.76 118.4 L257.01 124.72 L257.26 130.02 L257.51 133.95 L257.76 136.24 L258.02 136.76 L258.27 135.46 L258.52 132.44 L258.77 127.93 L259.03 122.22 L259.28 115.72 L259.53 108.87 L259.78 102.15 L260.04 96.02 L260.29 90.89 L260.54 87.12 L260.79 84.97 L261.04 84.57 L261.3 85.96 L261.55 89.04 L261.8 93.6 L262.05 99.33 L262.31 105.83 L262.56 112.67 L262.81 119.38 L263.06 125.5 L263.32 130.63 L263.57 134.41 L263.82 136.6 L264.07 137.05 L264.32 135.73 L264.58 132.75 L264.83 128.32 L265.08 122.73 L265.33 116.38 L265.59 109.7 L265.84 103.16 L266.09 97.2 L266.34 92.23 L266.6 88.59 L266.85 86.52 L267.1 86.18 L267.35 87.58 L267.61 90.63 L267.86 95.13 L268.11 100.75 L268.36 107.13 L268.61 113.83 L268.87 120.4 L269.12 126.38 L269.37 131.38 L269.62 135.05 L269.88 137.14 L270.13 137.53 L270.38 136.19 L270.63 133.21 L270.89 128.81 L271.14 123.28 L271.39 117.01 L271.64 110.44 L271.89 104.01 L272.15 98.16 L272.4 93.3 L272.65 89.76 L272.9 87.78 L273.16 87.5 L273.41 88.93 L273.66 91.97 L273.91 96.43 L274.17 101.99 L274.42 108.26 L274.67 114.84 L274.92 121.26 L275.17 127.1 L275.43 131.95 L275.68 135.49 L275.93 137.49 L276.18 137.82 L276.44 136.45 L276.69 133.5 L276.94 129.16 L277.19 123.75 L277.45 117.62 L277.7 111.22 L277.95 104.97 L278.2 99.3 L278.45 94.61 L278.71 91.21 L278.96 89.33 L279.21 89.11 L279.46 90.56 L279.72 93.57 L279.97 97.95 L280.22 103.39 L280.47 109.52 L280.73 115.93 L280.98 122.18 L281.23 127.84 L281.48 132.54 L281.73 135.95 L281.99 137.84 L282.24 138.1 L282.49 136.71 L282.74 133.77 L283 129.5 L283.25 124.17 L283.5 118.17 L283.75 111.91 L284.01 105.81 L284.26 100.3 L284.51 95.75 L284.76 92.47 L285.01 90.69 L285.27 90.53 L285.52 91.99 L285.77 94.98 L286.02 99.28 L286.28 104.61 L286.53 110.59 L286.78 116.83 L287.03 122.89 L287.29 128.36 L287.54 132.88 L287.79 136.15 L288.04 137.94 L288.29 138.14 L288.55 136.74 L288.8 133.86 L289.05 129.69 L289.3 124.52 L289.56 118.71 L289.81 112.66 L290.06 106.79 L290.31 101.49 L290.57 97.14 L290.82 94.02 L291.07 92.36 L291.32 92.25 L291.58 93.7 L291.83 96.62 L292.08 100.8 L292.33 105.97 L292.58 111.75 L292.84 117.77 L293.09 123.61 L293.34 128.88 L293.59 133.22 L293.85 136.34 L294.1 138.02 L294.35 138.17 L294.6 136.77 L294.86 133.93 L295.11 129.84 L295.36 124.79 L295.61 119.13 L295.86 113.24 L296.12 107.54 L296.37 102.41 L296.62 98.2 L296.87 95.21 L297.13 93.62 L297.38 93.56 L297.63 95.02 L297.88 97.91 L298.14 102.01 L298.39 107.06 L298.64 112.7 L298.89 118.55 L299.14 124.22 L299.4 129.31 L299.65 133.49 L299.9 136.47 L300.15 138.06 L300.41 138.16 L300.66 136.76 L300.91 133.97 L301.16 129.99 L301.42 125.09 L301.67 119.61 L301.92 113.94 L302.17 108.45 L302.42 103.53 L302.68 99.51 L302.93 96.67 L303.18 95.19 L303.43 95.18 L303.69 96.63 L303.94 99.45 L304.19 103.44 L304.44 108.32 L304.7 113.77 L304.95 119.41 L305.2 124.86 L305.45 129.76 L305.7 133.76 L305.96 136.6 L306.21 138.09 L306.46 138.14 L306.71 136.75 L306.97 134.01 L307.22 130.12 L307.47 125.36 L307.72 120.04 L307.98 114.53 L308.23 109.22 L308.48 104.47 L308.73 100.59 L308.98 97.87 L309.24 96.47 L309.49 96.49 L309.74 97.94 L309.99 100.7 L310.25 104.6 L310.5 109.36 L310.75 114.66 L311 120.13 L311.26 125.41 L311.51 130.14 L311.76 133.99 L312.01 136.71 L312.27 138.12 L312.52 138.12 L312.77 136.73 L313.02 134.04 L313.27 130.23 L313.53 125.58 L313.78 120.41 L314.03 115.06 L314.28 109.91 L314.54 105.31 L314.79 101.58 L315.04 98.96 L315.29 97.64 L315.55 97.71 L315.8 99.15 L316.05 101.87 L316.3 105.68 L316.55 110.33 L316.81 115.48 L317.06 120.8 L317.31 125.92 L317.56 130.49 L317.82 134.21 L318.07 136.82 L318.32 138.15 L318.57 138.11 L318.83 136.71 L319.08 134.06 L319.33 130.32 L319.58 125.78 L319.83 120.73 L320.09 115.53 L320.34 110.53 L320.59 106.08 L320.84 102.47 L321.1 99.96 L321.35 98.72 L321.6 98.83 L321.85 100.27 L322.11 102.96 L322.36 106.71 L322.61 111.25 L322.86 116.28 L323.11 121.45 L323.37 126.42 L323.62 130.84 L323.87 134.42 L324.12 136.92 L324.38 138.17 L324.63 138.09 L324.88 136.7 L325.13 134.09 L325.39 130.45 L325.64 126.03 L325.89 121.14 L326.14 116.11 L326.39 111.29 L326.65 107.01 L326.9 103.55 L327.15 101.16 L327.4 100 L327.66 100.14 L327.91 101.58 L328.16 104.21 L328.41 107.85 L328.67 112.26 L328.92 117.13 L329.17 122.13 L329.42 126.93 L329.67 131.19 L329.93 134.63 L330.18 137.01 L330.43 138.19 L330.68 138.08 L330.94 136.69 L331.19 134.12 L331.44 130.56 L331.69 126.25 L331.95 121.48 L332.2 116.58 L332.45 111.9 L332.7 107.74 L332.96 104.4 L333.21 102.09 L333.46 100.99 L333.71 101.15 L333.96 102.58 L334.22 105.16 L334.47 108.73 L334.72 113.03 L334.97 117.79 L335.23 122.66 L335.48 127.33 L335.73 131.47 L335.98 134.8 L336.24 137.1 L336.49 138.21 L336.74 138.06 L336.99 136.66 L337.24 134.12 L337.5 130.6 L337.75 126.35 L338 121.66 L338.25 116.86 L338.51 112.27 L338.76 108.21 L339.01 104.95 L339.26 102.72 L339.52 101.67 L339.77 101.87 L340.02 103.31 L340.27 105.88 L340.52 109.41 L340.78 113.66 L341.03 118.33 L341.28 123.11 L341.53 127.68 L341.79 131.72 L342.04 134.95 L342.29 137.17 L342.54 138.22 L342.8 138.04 L343.05 136.64 L343.3 134.12" fill="none" stroke="rgba(255,138,0,0.85)" stroke-width="0.9" stroke-linejoin="round"/>
<line x1="207.4" y1="142.5" x2="348.4" y2="142.5" stroke="#dc3a5a" stroke-width="1" stroke-dasharray="2.4 5.25"/>
<rect x="207.55" y="64.4" width="140.9" height="80.9" fill="none" stroke="#000" stroke-width="1.1"/>
<line x1="212.45" y1="145.3" x2="212.45" y2="149.8" stroke="#000" stroke-width="1.05"/>
<text x="212.45" y="159.8" class="ax" style="font-size:10.5px" text-anchor="middle">0</text>
<line x1="343.55" y1="145.3" x2="343.55" y2="149.8" stroke="#000" stroke-width="1.05"/>
<text x="343.55" y="159.8" class="ax" style="font-size:10.5px" text-anchor="middle">5</text>
<rect x="103.7" y="46" width="265.4" height="199.8" fill="none" stroke="#000" stroke-width="1.8"/>
<line x1="113.5" y1="245.8" x2="113.5" y2="257.7" stroke="#000" stroke-width="1.05"/>
<text x="113.5" y="276.3" class="ax" text-anchor="middle">0</text>
<line x1="154.41" y1="245.8" x2="154.41" y2="257.7" stroke="#000" stroke-width="1.05"/>
<text x="154.41" y="276.3" class="ax" text-anchor="middle">5</text>
<line x1="195.32" y1="245.8" x2="195.32" y2="257.7" stroke="#000" stroke-width="1.05"/>
<text x="195.32" y="276.3" class="ax" text-anchor="middle">10</text>
<line x1="236.23" y1="245.8" x2="236.23" y2="257.7" stroke="#000" stroke-width="1.05"/>
<text x="236.23" y="276.3" class="ax" text-anchor="middle">15</text>
<line x1="277.14" y1="245.8" x2="277.14" y2="257.7" stroke="#000" stroke-width="1.05"/>
<text x="277.14" y="276.3" class="ax" text-anchor="middle">20</text>
<line x1="318.05" y1="245.8" x2="318.05" y2="257.7" stroke="#000" stroke-width="1.05"/>
<text x="318.05" y="276.3" class="ax" text-anchor="middle">25</text>
<line x1="358.96" y1="245.8" x2="358.96" y2="257.7" stroke="#000" stroke-width="1.05"/>
<text x="358.96" y="276.3" class="ax" text-anchor="middle">30</text>
<line x1="91" y1="238.45" x2="103.7" y2="238.45" stroke="#000" stroke-width="1.05"/>
<text transform="translate(87.4 238.2) rotate(-90)" class="ax" text-anchor="middle" textLength="18.7" lengthAdjust="spacingAndGlyphs">0.0</text>
<line x1="91" y1="201.47" x2="103.7" y2="201.47" stroke="#000" stroke-width="1.05"/>
<text transform="translate(87.4 201.22) rotate(-90)" class="ax" text-anchor="middle" textLength="18.7" lengthAdjust="spacingAndGlyphs">0.2</text>
<line x1="91" y1="164.49" x2="103.7" y2="164.49" stroke="#000" stroke-width="1.05"/>
<text transform="translate(87.4 164.24) rotate(-90)" class="ax" text-anchor="middle" textLength="18.7" lengthAdjust="spacingAndGlyphs">0.4</text>
<line x1="91" y1="127.51" x2="103.7" y2="127.51" stroke="#000" stroke-width="1.05"/>
<text transform="translate(87.4 127.26) rotate(-90)" class="ax" text-anchor="middle" textLength="18.7" lengthAdjust="spacingAndGlyphs">0.6</text>
<line x1="91" y1="90.53" x2="103.7" y2="90.53" stroke="#000" stroke-width="1.05"/>
<text transform="translate(87.4 90.28) rotate(-90)" class="ax" text-anchor="middle" textLength="18.7" lengthAdjust="spacingAndGlyphs">0.8</text>
<line x1="91" y1="53.55" x2="103.7" y2="53.55" stroke="#000" stroke-width="1.05"/>
<text transform="translate(87.4 53.3) rotate(-90)" class="ax" text-anchor="middle" textLength="18.7" lengthAdjust="spacingAndGlyphs">1.0</text>
<text x="235.9" y="321.3" class="lab" text-anchor="middle">Lag</text>
<text transform="translate(20.8 145.1) rotate(-90)" class="lab" text-anchor="middle" textLength="150.5" lengthAdjust="spacing">ACF of the ensemble</text>
<text transform="translate(40 146.0) rotate(-90)" class="lab" text-anchor="middle" textLength="115" lengthAdjust="spacing">velocity variance</text>
<path d="M528.5 53.4 L528.91 53.4 L529.32 53.4 L529.73 53.41 L530.14 53.41 L530.55 53.41 L530.95 53.42 L531.36 53.43 L531.77 53.44 L532.18 53.44 L532.59 53.46 L533 53.47 L533.41 53.48 L533.82 53.49 L534.23 53.51 L534.64 53.52 L535.05 53.54 L535.45 53.56 L535.86 53.58 L536.27 53.6 L536.68 53.62 L537.09 53.64 L537.5 53.66 L537.91 53.69 L538.32 53.71 L538.73 53.74 L539.14 53.76 L539.55 53.79 L539.95 53.82 L540.36 53.85 L540.77 53.88 L541.18 53.91 L541.59 53.94 L542 53.98 L542.41 54.01 L542.82 54.05 L543.23 54.08 L543.64 54.12 L544.05 54.16 L544.45 54.19 L544.86 54.23 L545.27 54.28 L545.68 54.32 L546.09 54.36 L546.5 54.4 L546.91 54.45 L547.32 54.49 L547.73 54.54 L548.14 54.58 L548.55 54.63 L548.96 54.68 L549.36 54.73 L549.77 54.78 L550.18 54.83 L550.59 54.88 L551 54.93 L551.41 54.99 L551.82 55.04 L552.23 55.1 L552.64 55.15 L553.05 55.21 L553.46 55.26 L553.86 55.32 L554.27 55.38 L554.68 55.44 L555.09 55.5 L555.5 55.56 L555.91 55.62 L556.32 55.69 L556.73 55.75 L557.14 55.81 L557.55 55.88 L557.96 55.94 L558.36 56.01 L558.77 56.07 L559.18 56.14 L559.59 56.21 L560 56.28 L560.41 56.35 L560.82 56.42 L561.23 56.49 L561.64 56.56 L562.05 56.63 L562.46 56.71 L562.86 56.78 L563.27 56.85 L563.68 56.93 L564.09 57 L564.5 57.08 L564.91 57.16 L565.32 57.23 L565.73 57.31 L566.14 57.39 L566.55 57.47 L566.96 57.55 L567.36 57.63 L567.77 57.71 L568.18 57.79 L568.59 57.88 L569 57.96 L569.41 58.04 L569.82 58.13 L570.23 58.21 L570.64 58.3 L571.05 58.38 L571.46 58.47 L571.86 58.55 L572.27 58.64 L572.68 58.73 L573.09 58.82 L573.5 58.91 L573.91 59 L574.32 59.09 L574.73 59.18 L575.14 59.27 L575.55 59.36 L575.96 59.45 L576.36 59.54 L576.77 59.64 L577.18 59.73 L577.59 59.82 L578 59.92 L578.41 60.01 L578.82 60.11 L579.23 60.21 L579.64 60.3 L580.05 60.4 L580.46 60.5 L580.86 60.59 L581.27 60.69 L581.68 60.79 L582.09 60.89 L582.5 60.99 L582.91 61.09 L583.32 61.19 L583.73 61.29 L584.14 61.39 L584.55 61.49 L584.96 61.6 L585.36 61.7 L585.77 61.8 L586.18 61.91 L586.59 62.01 L587 62.11 L587.41 62.22 L587.82 62.32 L588.23 62.43 L588.64 62.53 L589.05 62.64 L589.46 62.75 L589.87 62.85 L590.27 62.96 L590.68 63.07 L591.09 63.18 L591.5 63.28 L591.91 63.39 L592.32 63.5 L592.73 63.61 L593.14 63.72 L593.55 63.83 L593.96 63.94 L594.37 64.05 L594.77 64.16 L595.18 64.27 L595.59 64.39 L596 64.5 L596.41 64.61 L596.82 64.72 L597.23 64.83 L597.64 64.95 L598.05 65.06 L598.46 65.18 L598.87 65.29 L599.27 65.4 L599.68 65.52 L600.09 65.63 L600.5 65.75 L600.91 65.86 L601.32 65.98 L601.73 66.09 L602.14 66.21 L602.55 66.33 L602.96 66.44 L603.37 66.56 L603.77 66.68 L604.18 66.8 L604.59 66.91 L605 67.03 L605.41 67.15 L605.82 67.27 L606.23 67.39 L606.64 67.51 L607.05 67.62 L607.46 67.74 L607.87 67.86 L608.27 67.98 L608.68 68.1 L609.09 68.22 L609.5 68.34 L609.91 68.46 L610.32 68.58 L610.73 68.71 L611.14 68.83 L611.55 68.95 L611.96 69.07 L612.37 69.19 L612.77 69.31 L613.18 69.43 L613.59 69.56 L614 69.68 L614.41 69.8 L614.82 69.92 L615.23 70.05 L615.64 70.17 L616.05 70.29 L616.46 70.42 L616.87 70.54 L617.27 70.66 L617.68 70.79 L618.09 70.91 L618.5 71.04 L618.91 71.16 L619.32 71.28 L619.73 71.41 L620.14 71.53 L620.55 71.66 L620.96 71.78 L621.37 71.91 L621.77 72.03 L622.18 72.16 L622.59 72.28 L623 72.41 L623.41 72.53 L623.82 72.66 L624.23 72.79 L624.64 72.91 L625.05 73.04 L625.46 73.16 L625.87 73.29 L626.27 73.42 L626.68 73.54 L627.09 73.67 L627.5 73.8 L627.91 73.92 L628.32 74.05 L628.73 74.18 L629.14 74.3 L629.55 74.43 L629.96 74.56 L630.37 74.68 L630.77 74.81 L631.18 74.94 L631.59 75.07 L632 75.19 L632.41 75.32 L632.82 75.45 L633.23 75.58 L633.64 75.7 L634.05 75.83 L634.46 75.96 L634.87 76.09 L635.28 76.21 L635.68 76.34 L636.09 76.47 L636.5 76.6 L636.91 76.73 L637.32 76.85 L637.73 76.98 L638.14 77.11 L638.55 77.24 L638.96 77.37 L639.37 77.49 L639.78 77.62 L640.18 77.75 L640.59 77.88 L641 78.01 L641.41 78.13 L641.82 78.26 L642.23 78.39 L642.64 78.52 L643.05 78.65 L643.46 78.78 L643.87 78.9 L644.28 79.03 L644.68 79.16 L645.09 79.29 L645.5 79.42 L645.91 79.55 L646.32 79.67 L646.73 79.8 L647.14 79.93 L647.55 80.06 L647.96 80.19 L648.37 80.32 L648.78 80.44 L649.18 80.57 L649.59 80.7 L650 80.83 L650.41 80.96 L650.82 81.09 L651.23 81.21 L651.64 81.34 L652.05 81.47 L652.46 81.6 L652.87 81.73 L653.28 81.85 L653.68 81.98 L654.09 82.11 L654.5 82.24 L654.91 82.37 L655.32 82.49 L655.73 82.62 L656.14 82.75 L656.55 82.88 L656.96 83.01 L657.37 83.13 L657.78 83.26 L658.18 83.39 L658.59 83.52 L659 83.65 L659.41 83.77 L659.82 83.9 L660.23 84.03 L660.64 84.16 L661.05 84.28 L661.46 84.41 L661.87 84.54 L662.28 84.66 L662.68 84.79 L663.09 84.92 L663.5 85.05 L663.91 85.17 L664.32 85.3 L664.73 85.43 L665.14 85.55 L665.55 85.68 L665.96 85.81 L666.37 85.94 L666.78 86.06 L667.18 86.19 L667.59 86.32 L668 86.44 L668.41 86.57 L668.82 86.7 L669.23 86.82 L669.64 86.95 L670.05 87.07 L670.46 87.2 L670.87 87.33 L671.28 87.45 L671.68 87.58 L672.09 87.7 L672.5 87.83 L672.91 87.96 L673.32 88.08 L673.73 88.21 L674.14 88.33 L674.55 88.46 L674.96 88.58 L675.37 88.71 L675.78 88.84 L676.19 88.96 L676.59 89.09 L677 89.21 L677.41 89.34 L677.82 89.46 L678.23 89.59 L678.64 89.71 L679.05 89.84 L679.46 89.96 L679.87 90.09 L680.28 90.21 L680.69 90.34 L681.09 90.46 L681.5 90.58 L681.91 90.71 L682.32 90.83 L682.73 90.96 L683.14 91.08 L683.55 91.21 L683.96 91.33 L684.37 91.45 L684.78 91.58 L685.19 91.7 L685.59 91.83 L686 91.95 L686.41 92.07 L686.82 92.2 L687.23 92.32 L687.64 92.44 L688.05 92.57 L688.46 92.69 L688.87 92.81 L689.28 92.94 L689.69 93.06 L690.09 93.18 L690.5 93.31 L690.91 93.43 L691.32 93.55 L691.73 93.67 L692.14 93.8 L692.55 93.92 L692.96 94.04 L693.37 94.16 L693.78 94.29 L694.19 94.41 L694.59 94.53 L695 94.65 L695.41 94.78 L695.82 94.9 L696.23 95.02 L696.64 95.14 L697.05 95.26 L697.46 95.39 L697.87 95.51 L698.28 95.63 L698.69 95.75 L699.09 95.87 L699.5 96 L699.91 96.12 L700.32 96.24 L700.73 96.36 L701.14 96.48 L701.55 96.6 L701.96 96.72 L702.37 96.85 L702.78 96.97 L703.19 97.09 L703.59 97.21 L704 97.33 L704.41 97.45 L704.82 97.57 L705.23 97.69 L705.64 97.81 L706.05 97.93 L706.46 98.06 L706.87 98.18 L707.28 98.3 L707.69 98.42 L708.09 98.54 L708.5 98.66 L708.91 98.78 L709.32 98.9 L709.73 99.02 L710.14 99.14 L710.55 99.26 L710.96 99.38 L711.37 99.5 L711.78 99.62 L712.19 99.74 L712.6 99.86 L713 99.98 L713.41 100.1 L713.82 100.22 L714.23 100.35 L714.64 100.47 L715.05 100.59 L715.46 100.71 L715.87 100.83 L716.28 100.95 L716.69 101.07 L717.1 101.19 L717.5 101.31 L717.91 101.43 L718.32 101.55 L718.73 101.67 L719.14 101.79 L719.55 101.91 L719.96 102.03 L720.37 102.15 L720.78 102.27 L721.19 102.39 L721.6 102.51 L722 102.63 L722.41 102.75 L722.82 102.87 L723.23 102.99 L723.64 103.11 L724.05 103.23 L724.46 103.35 L724.87 103.47 L725.28 103.59 L725.69 103.71 L726.1 103.83 L726.5 103.95 L726.91 104.07 L727.32 104.19 L727.73 104.31 L728.14 104.43 L728.55 104.55 L728.96 104.67 L729.37 104.79 L729.78 104.91 L730.19 105.04 L730.6 105.16 L731 105.28 L731.41 105.4 L731.82 105.52 L732.23 105.64 L732.64 105.76 L733.05 105.88 L733.46 106 L733.87 106.12 L734.28 106.24 L734.69 106.37 L735.1 106.49 L735.5 106.61 L735.91 106.73 L736.32 106.85 L736.73 106.97 L737.14 107.09 L737.55 107.22 L737.96 107.34 L738.37 107.46 L738.78 107.58 L739.19 107.7 L739.6 107.83 L740 107.95 L740.41 108.07 L740.82 108.19 L741.23 108.32 L741.64 108.44 L742.05 108.56 L742.46 108.69 L742.87 108.81 L743.28 108.93 L743.69 109.05 L744.1 109.18 L744.5 109.3 L744.91 109.42 L745.32 109.55 L745.73 109.67 L746.14 109.8 L746.55 109.92 L746.96 110.05 L747.37 110.17 L747.78 110.29 L748.19 110.42 L748.6 110.54 L749 110.67 L749.41 110.79 L749.82 110.92 L750.23 111.04 L750.64 111.17 L751.05 111.3 L751.46 111.42 L751.87 111.55 L752.28 111.67 L752.69 111.8 L753.1 111.93 L753.5 112.05 L753.91 112.18 L754.32 112.31 L754.73 112.44 L755.14 112.56 L755.55 112.69 L755.96 112.82 L756.37 112.95 L756.78 113.08 L757.19 113.2 L757.6 113.33 L758.01 113.46 L758.41 113.59 L758.82 113.72 L759.23 113.85 L759.64 113.98 L760.05 114.11 L760.46 114.24 L760.87 114.37 L761.28 114.5 L761.69 114.63 L762.1 114.76 L762.51 114.9 L762.91 115.03 L763.32 115.16 L763.73 115.29 L764.14 115.43 L764.55 115.56 L764.96 115.69 L765.37 115.82 L765.78 115.96 L766.19 116.09 L766.6 116.23 L767.01 116.36 L767.41 116.5 L767.82 116.63 L768.23 116.77 L768.64 116.9 L769.05 117.04 L769.46 117.17 L769.87 117.31 L770.28 117.45 L770.69 117.58 L771.1 117.72 L771.51 117.86 L771.91 118 L772.32 118.14 L772.73 118.28 L773.14 118.42 L773.55 118.55 L773.96 118.69 L774.36 118.69 L774.36 238.3 L527.9 238.3 L527.9 53.4Z" fill="rgba(0,0,0,0.2)"/>
<path d="M528.5 53.4 L528.66 65.7 L528.81 98.3 L528.97 142.47 L529.13 186.43 L529.29 218.53 L529.44 230.33 L529.6 218.86 L529.76 187.37 L529.91 144.47 L530.07 101.75 L530.23 70.73 L530.39 59.72 L530.54 71.66 L530.7 103.33 L530.86 146.26 L531.01 189 L531.17 220.22 L531.33 231.71 L531.49 220.58 L531.64 190.01 L531.8 148.35 L531.96 106.86 L532.11 76.71 L532.27 65.98 L532.43 77.53 L532.59 108.23 L532.74 149.9 L532.9 191.42 L533.06 221.77 L533.21 232.97 L533.37 222.17 L533.53 192.42 L533.69 151.82 L533.84 111.34 L534 81.86 L534.16 71.29 L534.31 82.46 L534.47 112.35 L534.63 152.98 L534.79 193.52 L534.94 223.18 L535.1 234.15 L535.26 223.61 L535.41 194.51 L535.57 154.76 L535.73 115.09 L535.89 86.17 L536.04 75.76 L536.2 86.66 L536.36 115.92 L536.51 155.73 L536.67 195.44 L536.83 224.5 L536.99 235.26 L537.14 224.99 L537.3 196.59 L537.46 157.83 L537.61 119.17 L537.77 91.04 L537.93 80.96 L538.09 91.62 L538.24 120.14 L538.4 158.9 L538.56 197.55 L538.71 225.83 L538.87 236.32 L539.03 226.34 L539.19 198.71 L539.34 160.96 L539.5 123.26 L539.66 95.73 L539.81 85.76 L539.97 96.01 L540.13 123.71 L540.29 161.47 L540.44 199.2 L540.6 226.87 L540.76 237.15 L540.91 227.38 L541.07 200.27 L541.23 163.19 L541.39 126.14 L541.54 99.08 L541.7 89.26 L541.86 99.3 L542.01 126.5 L542.17 163.57 L542.33 200.6 L542.49 227.75 L542.64 237.84 L542.8 228.28 L542.96 201.77 L543.11 165.52 L543.27 129.3 L543.43 102.86 L543.59 93.27 L543.74 103.09 L543.9 129.65 L544.06 165.84 L544.21 201.99 L544.37 228.48 L544.53 238.33 L544.69 229.02 L544.84 203.18 L545 167.83 L545.16 132.51 L545.31 106.71 L545.47 97.33 L545.63 106.86 L545.79 132.72 L545.94 167.96 L546.1 203.19 L546.26 229.02 L546.41 238.63 L546.57 229.57 L546.73 204.37 L546.89 169.87 L547.04 135.37 L547.2 110.13 L547.36 100.92 L547.51 110.16 L547.67 135.37 L547.83 169.77 L547.99 204.19 L548.14 229.44 L548.3 238.87 L548.46 230.03 L548.61 205.38 L548.77 171.61 L548.93 137.82 L549.09 113.09 L549.24 104.03 L549.4 113.05 L549.56 137.7 L549.71 171.39 L549.87 205.1 L550.03 229.86 L550.19 239.12 L550.34 230.48 L550.5 206.37 L550.66 173.32 L550.81 140.24 L550.97 116.01 L551.13 107.12 L551.29 115.92 L551.44 140.04 L551.6 173.01 L551.76 206.02 L551.91 230.27 L552.07 239.36 L552.23 230.93 L552.39 207.34 L552.54 174.99 L552.7 142.6 L552.86 118.86 L553.01 110.13 L553.17 118.72 L553.33 142.31 L553.49 174.58 L553.64 206.9 L553.8 230.65 L553.96 239.57 L554.11 231.33 L554.27 208.26 L554.43 176.59 L554.59 144.88 L554.74 121.62 L554.9 113.05 L555.06 121.44 L555.21 144.51 L555.37 176.08 L555.53 207.72 L555.69 230.98 L555.84 239.72 L556 231.68 L556.16 209.11 L556.31 178.12 L556.47 147.08 L556.63 124.3 L556.79 115.89 L556.94 124.07 L557.1 146.63 L557.26 177.51 L557.41 208.46 L557.57 231.23 L557.73 239.79 L557.89 231.94 L558.04 209.88 L558.2 179.57 L558.36 149.19 L558.51 126.9 L558.67 118.65 L558.83 126.63 L558.99 148.68 L559.14 178.88 L559.3 209.15 L559.46 231.44 L559.61 239.84 L559.77 232.18 L559.93 210.61 L560.09 180.97 L560.24 151.25 L560.4 129.43 L560.56 121.33 L560.71 129.12 L560.87 150.67 L561.03 180.2 L561.19 209.82 L561.34 231.64 L561.5 239.88 L561.66 232.41 L561.81 211.32 L561.97 182.33 L562.13 153.25 L562.29 131.88 L562.44 123.94 L562.6 131.54 L562.76 152.6 L562.91 181.49 L563.07 210.47 L563.23 231.83 L563.39 239.91 L563.54 232.62 L563.7 212.01 L563.86 183.65 L564.01 155.19 L564.17 134.27 L564.33 126.48 L564.49 133.89 L564.64 154.49 L564.8 182.74 L564.96 211.1 L565.11 232.01 L565.27 239.94 L565.43 232.83 L565.59 212.67 L565.74 184.93 L565.9 157.08 L566.06 136.59 L566.21 128.95 L566.37 136.18 L566.53 156.31 L566.69 183.95 L566.84 211.71 L567 232.18 L567.16 239.95 L567.31 233.01 L567.47 213.31 L567.63 186.17 L567.79 158.91 L567.94 138.85 L568.1 131.36 L568.26 138.41 L568.41 158.09 L568.57 185.13 L568.73 212.29 L568.89 232.34 L569.04 239.96 L569.2 233.19 L569.36 213.92 L569.51 187.37 L569.67 160.69 L569.83 141.05 L569.99 133.7 L570.14 140.57 L570.3 159.82 L570.46 186.26 L570.61 212.84 L570.77 232.46 L570.93 239.92 L571.09 233.32 L571.24 214.47 L571.4 188.51 L571.56 162.41 L571.71 143.18 L571.87 135.97 L572.03 142.68 L572.19 161.48 L572.34 187.33 L572.5 213.31 L572.66 232.49 L572.81 239.81 L572.97 233.36 L573.13 214.95 L573.29 189.57 L573.44 164.06 L573.6 145.26 L573.76 138.19 L573.91 144.72 L574.07 163.08 L574.23 188.33 L574.39 213.72 L574.54 232.48 L574.7 239.63 L574.86 233.35 L575.01 215.37 L575.17 190.58 L575.33 165.65 L575.49 147.27 L575.64 140.35 L575.8 146.71 L575.96 164.63 L576.11 189.29 L576.27 214.09 L576.43 232.42 L576.59 239.43 L576.74 233.31 L576.9 215.77 L577.06 191.55 L577.21 167.2 L577.37 149.23 L577.53 142.45 L577.69 148.65 L577.84 166.14 L578 190.22 L578.16 214.45 L578.31 232.37 L578.47 239.24 L578.63 233.27 L578.79 216.15 L578.94 192.5 L579.1 168.7 L579.26 151.14 L579.41 144.5 L579.57 150.53 L579.73 167.61 L579.89 191.13 L580.04 214.81 L580.2 232.34 L580.36 239.07 L580.51 233.26 L580.67 216.54 L580.83 193.44 L580.99 170.18 L581.14 153 L581.3 146.49 L581.46 152.38 L581.61 169.05 L581.77 192.05 L581.93 215.2 L582.09 232.34 L582.24 238.94 L582.4 233.28 L582.56 216.95 L582.71 194.37 L582.87 171.62 L583.03 154.81 L583.19 148.43 L583.34 154.17 L583.5 170.46 L583.66 192.94 L583.81 215.58 L583.97 232.35 L584.13 238.81 L584.29 233.3 L584.44 217.34 L584.6 195.27 L584.76 173.03 L584.91 156.58 L585.07 150.33 L585.23 155.92 L585.39 171.84 L585.54 193.81 L585.7 215.95 L585.86 232.36 L586.01 238.69 L586.17 233.31 L586.33 217.72 L586.49 196.15 L586.64 174.4 L586.8 158.31 L586.96 152.18 L587.11 157.63 L587.27 173.18 L587.43 194.66 L587.59 216.31 L587.74 232.37 L587.9 238.58 L588.06 233.33 L588.21 218.1 L588.37 197.01 L588.53 175.73 L588.69 159.99 L588.84 153.98 L589 159.29 L589.16 174.49 L589.31 195.49 L589.47 216.67 L589.63 232.38 L589.79 238.47 L589.94 233.36 L590.1 218.47 L590.26 197.85 L590.42 177.04 L590.57 161.63 L590.73 155.73 L590.89 160.92 L591.04 175.77 L591.2 196.3 L591.36 217.02 L591.52 232.41 L591.67 238.38 L591.83 233.39 L591.99 218.84 L592.14 198.67 L592.3 178.31 L592.46 163.22 L592.62 157.45 L592.77 162.5 L592.93 177.02 L593.09 197.11 L593.24 217.38 L593.4 232.44 L593.56 238.3 L593.72 233.44 L593.87 219.22 L594.03 199.48 L594.19 179.56 L594.34 164.79 L594.5 159.12 L594.66 164.05 L594.82 178.25 L594.97 197.9 L595.13 217.74 L595.29 232.49 L595.44 238.24 L595.6 233.49 L595.76 219.59 L595.92 200.28 L596.07 180.78 L596.23 166.31 L596.39 160.75 L596.54 165.56 L596.7 179.44 L596.86 198.67 L597.02 218.1 L597.17 232.54 L597.33 238.18 L597.49 233.55 L597.64 219.95 L597.8 201.06 L597.96 181.96 L598.12 167.79 L598.27 162.34 L598.43 167.03 L598.59 180.61 L598.74 199.43 L598.9 218.45 L599.06 232.6 L599.22 238.13 L599.37 233.61 L599.53 220.31 L599.69 201.82 L599.84 183.13 L600 169.25 L600.16 163.89 L600.32 168.47 L600.47 181.76 L600.63 200.17 L600.79 218.79 L600.94 232.65 L601.1 238.08 L601.26 233.67 L601.42 220.66 L601.57 202.56 L601.73 184.26 L601.89 170.66 L602.04 165.4 L602.2 169.88 L602.36 182.87 L602.52 200.9 L602.67 219.13 L602.83 232.71 L602.99 238.04 L603.14 233.73 L603.3 221 L603.46 203.29 L603.62 185.37 L603.77 172.04 L603.93 166.88 L604.09 171.25 L604.24 183.96 L604.4 201.61 L604.56 219.46 L604.72 232.77 L604.87 238 L605.03 233.8 L605.19 221.34 L605.34 204 L605.5 186.45 L605.66 173.39 L605.82 168.33 L605.97 172.59 L606.13 185.03 L606.29 202.3 L606.44 219.79 L606.6 232.82 L606.76 237.96 L606.92 233.86 L607.07 221.67 L607.23 204.69 L607.39 187.5 L607.54 174.71 L607.7 169.74 L607.86 173.9 L608.02 186.07 L608.17 202.98 L608.33 220.11 L608.49 232.88 L608.64 237.92 L608.8 233.92 L608.96 221.99 L609.12 205.37 L609.27 188.53 L609.43 176 L609.59 171.12 L609.74 175.18 L609.9 187.09 L610.06 203.65 L610.22 220.42 L610.37 232.94 L610.53 237.89 L610.69 233.98 L610.84 222.31 L611 206.03 L611.16 189.54 L611.32 177.26 L611.47 172.46 L611.63 176.43 L611.79 188.09 L611.94 204.3 L612.1 220.73 L612.26 233 L612.42 237.85 L612.57 234.04 L612.73 222.61 L612.89 206.68 L613.04 190.52 L613.2 178.48 L613.36 173.78 L613.52 177.65 L613.67 189.06 L613.83 204.93 L613.99 221.03 L614.14 233.05 L614.3 237.82 L614.46 234.09 L614.62 222.91 L614.77 207.31 L614.93 191.48 L615.09 179.68 L615.24 175.06 L615.4 178.85 L615.56 190.01 L615.72 205.55 L615.87 221.32 L616.03 233.1 L616.19 237.78 L616.34 234.14 L616.5 223.2 L616.66 207.92 L616.82 192.42 L616.97 180.86 L617.13 176.32 L617.29 180.02 L617.44 190.94 L617.6 206.16 L617.76 221.6 L617.92 233.15 L618.07 237.75 L618.23 234.19 L618.39 223.49 L618.54 208.52 L618.7 193.34 L618.86 182 L619.02 177.55 L619.17 181.16 L619.33 191.85 L619.49 206.75 L619.64 221.88 L619.8 233.2 L619.96 237.71 L620.12 234.24 L620.27 223.76 L620.43 209.11 L620.59 194.23 L620.74 183.12 L620.9 178.75 L621.06 182.27 L621.22 192.74 L621.37 207.33 L621.53 222.15 L621.69 233.24 L621.84 237.67 L622 234.28 L622.16 224.02 L622.32 209.68 L622.47 195.11 L622.63 184.22 L622.79 179.93 L622.94 183.37 L623.1 193.6 L623.26 207.89 L623.42 222.4 L623.57 233.28 L623.73 237.62 L623.89 234.31 L624.04 224.28 L624.2 210.23 L624.36 195.96 L624.52 185.29 L624.67 181.07 L624.83 184.43 L624.99 194.45 L625.14 208.44 L625.3 222.65 L625.46 233.31 L625.62 237.57 L625.77 234.34 L625.93 224.52 L626.09 210.77 L626.24 196.79 L626.4 186.33 L626.56 182.2 L626.72 185.47 L626.87 195.28 L627.03 208.97 L627.19 222.89 L627.34 233.33 L627.5 237.52 L627.66 234.36 L627.82 224.75 L627.97 211.29 L628.13 197.6 L628.29 187.35 L628.44 183.29 L628.6 186.49 L628.76 196.08 L628.92 209.49 L629.07 223.13 L629.23 233.35 L629.39 237.46 L629.54 234.38 L629.7 224.98 L629.86 211.8 L630.02 198.39 L630.17 188.35 L630.33 184.36 L630.49 187.49 L630.64 196.87 L630.8 210 L630.96 223.35 L631.12 233.37 L631.27 237.4 L631.43 234.4 L631.59 225.2 L631.74 212.29 L631.9 199.16 L632.06 189.32 L632.22 185.41 L632.37 188.46 L632.53 197.64 L632.69 210.49 L632.84 223.57 L633 233.39 L633.16 237.34 L633.32 234.41 L633.47 225.41 L633.63 212.77 L633.79 199.91 L633.94 190.27 L634.1 186.43 L634.26 189.41 L634.42 198.39 L634.57 210.97 L634.73 223.78 L634.89 233.4 L635.04 237.28 L635.2 234.42 L635.36 225.61 L635.52 213.24 L635.67 200.64 L635.83 191.2 L635.99 187.43 L636.14 190.33 L636.3 199.12 L636.46 211.44 L636.62 223.98 L636.77 233.4 L636.93 237.21 L637.09 234.42 L637.24 225.8 L637.4 213.69 L637.56 201.36 L637.72 192.1 L637.87 188.4 L638.03 191.24 L638.19 199.84 L638.34 211.89 L638.5 224.17 L638.66 233.41 L638.82 237.14 L638.97 234.42 L639.13 225.98 L639.29 214.13 L639.44 202.05 L639.6 192.98 L639.76 189.35 L639.92 192.12 L640.07 200.53 L640.23 212.33 L640.39 224.36 L640.54 233.4 L640.7 237.07 L640.86 234.41 L641.02 226.16 L641.17 214.56 L641.33 202.73 L641.49 193.84 L641.64 190.28 L641.8 192.98 L641.96 201.21 L642.12 212.76 L642.27 224.53 L642.43 233.4 L642.59 237 L642.74 234.4 L642.9 226.33 L643.06 214.97 L643.22 203.38 L643.37 194.68 L643.53 191.18 L643.69 193.82 L643.84 201.87 L644 213.17 L644.16 224.7 L644.32 233.39 L644.47 236.92 L644.63 234.38 L644.79 226.49 L644.94 215.37 L645.1 204.02 L645.26 195.49 L645.42 192.06 L645.57 194.63 L645.73 202.51 L645.89 213.57 L646.04 224.87 L646.2 233.37 L646.36 236.84 L646.52 234.36 L646.67 226.64 L646.83 215.75 L646.99 204.64 L647.14 196.29 L647.3 192.92 L647.46 195.43 L647.62 203.13 L647.77 213.96 L647.93 225.02 L648.09 233.35 L648.24 236.75 L648.4 234.34 L648.56 226.78 L648.72 216.13 L648.87 205.25 L649.03 197.06 L649.19 193.75 L649.34 196.2 L649.5 203.74 L649.66 214.34 L649.82 225.17 L649.97 233.33 L650.13 236.67 L650.29 234.31 L650.44 226.91 L650.6 216.49 L650.76 205.83 L650.92 197.81 L651.07 194.57 L651.23 196.96 L651.39 204.33 L651.54 214.71 L651.7 225.31 L651.86 233.3 L652.02 236.57 L652.17 234.27 L652.33 227.04 L652.49 216.83 L652.64 206.4 L652.8 198.54 L652.96 195.36 L653.12 197.69 L653.27 204.9 L653.43 215.05 L653.59 225.43 L653.74 233.26 L653.9 236.47 L654.06 234.22 L654.22 227.15 L654.37 217.16 L654.53 206.95 L654.69 199.25 L654.84 196.13 L655 198.41 L655.16 205.46 L655.32 215.39 L655.47 225.54 L655.63 233.21 L655.79 236.35 L655.94 234.16 L656.1 227.24 L656.26 217.47 L656.42 207.48 L656.57 199.95 L656.73 196.88 L656.89 199.1 L657.04 205.99 L657.2 215.71 L657.36 225.64 L657.52 233.15 L657.67 236.23 L657.83 234.09 L657.99 227.33 L658.14 217.77 L658.3 207.99 L658.46 200.62 L658.62 197.61 L658.77 199.77 L658.93 206.51 L659.09 216.01 L659.24 225.73 L659.4 233.08 L659.56 236.1 L659.72 234.02 L659.87 227.4 L660.03 218.06 L660.19 208.49 L660.34 201.27 L660.5 198.32 L660.66 200.43 L660.82 207.02 L660.97 216.31 L661.13 225.82 L661.29 233.01 L661.44 235.97 L661.6 233.94 L661.76 227.47 L661.92 218.33 L662.07 208.97 L662.23 201.9 L662.39 199.01 L662.54 201.07 L662.7 207.5 L662.86 216.59 L663.02 225.9 L663.17 232.93 L663.33 235.84 L663.49 233.85 L663.64 227.53 L663.8 218.59 L663.96 209.44 L664.12 202.52 L664.27 199.68 L664.43 201.69 L664.59 207.98 L664.74 216.86 L664.9 225.96 L665.06 232.85 L665.22 235.7 L665.37 233.76 L665.53 227.59 L665.69 218.84 L665.84 209.88 L666 203.11 L666.16 200.34 L666.32 202.29 L666.47 208.43 L666.63 217.12 L666.79 226.02 L666.94 232.76 L667.1 235.55 L667.26 233.66 L667.42 227.63 L667.57 219.08 L667.73 210.32 L667.89 203.69 L668.04 200.97 L668.2 202.87 L668.36 208.88 L668.52 217.37 L668.67 226.07 L668.83 232.67 L668.99 235.4 L669.14 233.56 L669.3 227.66 L669.46 219.31 L669.62 210.74 L669.77 204.25 L669.93 201.59 L670.09 203.44 L670.24 209.31 L670.4 217.61 L670.56 226.12 L670.72 232.57 L670.87 235.25 L671.03 233.46 L671.19 227.69 L671.34 219.52 L671.5 211.14 L671.66 204.8 L671.82 202.18 L671.97 203.99 L672.13 209.72 L672.29 217.84 L672.44 226.16 L672.6 232.48 L672.76 235.1 L672.92 233.35 L673.07 227.72 L673.23 219.73 L673.39 211.53 L673.54 205.32 L673.7 202.76 L673.86 204.52 L674.02 210.12 L674.17 218.06 L674.33 226.2 L674.49 232.38 L674.64 234.95 L674.8 233.25 L674.96 227.75 L675.12 219.93 L675.27 211.91 L675.43 205.84 L675.59 203.32 L675.74 205.04 L675.9 210.51 L676.06 218.27 L676.22 226.24 L676.37 232.29 L676.53 234.81 L676.69 233.15 L676.84 227.77 L677 220.13 L677.16 212.28 L677.32 206.33 L677.47 203.87 L677.63 205.54 L677.79 210.89 L677.94 218.48 L678.1 226.28 L678.26 232.2 L678.42 234.68 L678.57 233.06 L678.73 227.8 L678.89 220.32 L679.04 212.64 L679.2 206.81 L679.36 204.4 L679.52 206.03 L679.67 211.26 L679.83 218.69 L679.99 226.32 L680.14 232.12 L680.3 234.55 L680.46 232.97 L680.62 227.83 L680.77 220.51 L680.93 212.99 L681.09 207.28 L681.24 204.91 L681.4 206.5 L681.56 211.62 L681.72 218.89 L681.87 226.36 L682.03 232.04 L682.19 234.42 L682.34 232.88 L682.5 227.85 L682.66 220.69 L682.82 213.32 L682.97 207.73 L683.13 205.4 L683.29 206.95 L683.44 211.96 L683.6 219.07 L683.76 226.39 L683.92 231.95 L684.07 234.29 L684.23 232.79 L684.39 227.86 L684.54 220.85 L684.7 213.64 L684.86 208.17 L685.02 205.88 L685.17 207.4 L685.33 212.29 L685.49 219.25 L685.64 226.42 L685.8 231.87 L685.96 234.16 L686.12 232.69 L686.27 227.88 L686.43 221.01 L686.59 213.95 L686.74 208.59 L686.9 206.35 L687.06 207.82 L687.22 212.61 L687.37 219.43 L687.53 226.44 L687.69 231.78 L687.84 234.03 L688 232.6 L688.16 227.89 L688.32 221.17 L688.47 214.25 L688.63 208.99 L688.79 206.79 L688.94 208.23 L689.1 212.92 L689.26 219.59 L689.42 226.46 L689.57 231.7 L689.73 233.9 L689.89 232.51 L690.04 227.9 L690.2 221.32 L690.36 214.54 L690.52 209.39 L690.67 207.23 L690.83 208.63 L690.99 213.22 L691.14 219.76 L691.3 226.49 L691.46 231.62 L691.62 233.79 L691.77 232.43 L691.93 227.91 L692.09 221.47 L692.24 214.83 L692.4 209.77 L692.56 207.65 L692.72 209.02 L692.87 213.51 L693.03 219.92 L693.19 226.52 L693.34 231.55 L693.5 233.68 L693.66 232.35 L693.82 227.93 L693.97 221.61 L694.13 215.1 L694.29 210.14 L694.44 208.05 L694.6 209.39 L694.76 213.8 L694.92 220.08 L695.07 226.55 L695.23 231.5 L695.39 233.59 L695.54 232.29 L695.7 227.96 L695.86 221.76 L696.02 215.37 L696.17 210.5 L696.33 208.44 L696.49 209.76 L696.64 214.07 L696.8 220.24 L696.96 226.6 L697.12 231.45 L697.27 233.51 L697.43 232.24 L697.59 227.99 L697.74 221.91 L697.9 215.63 L698.06 210.85 L698.22 208.83 L698.37 210.11 L698.53 214.35 L698.69 220.4 L698.84 226.65 L699 231.42 L699.16 233.45 L699.32 232.21 L699.47 228.04 L699.63 222.06 L699.79 215.89 L699.94 211.19 L700.1 209.19 L700.26 210.45 L700.42 214.61 L700.57 220.56 L700.73 226.7 L700.89 231.4 L701.04 233.4 L701.2 232.18 L701.36 228.09 L701.52 222.21 L701.67 216.15 L701.83 211.51 L701.99 209.55 L702.14 210.78 L702.3 214.87 L702.46 220.72 L702.62 226.76 L702.77 231.38 L702.93 233.36 L703.09 232.16 L703.24 228.13 L703.4 222.36 L703.56 216.4 L703.72 211.84 L703.87 209.9 L704.03 211.11 L704.19 215.13 L704.34 220.88 L704.5 226.82 L704.66 231.37 L704.82 233.31 L704.97 232.14 L705.13 228.18 L705.29 222.51 L705.44 216.64 L705.6 212.15 L705.76 210.24 L705.92 211.42 L706.07 215.37 L706.23 221.03 L706.39 226.88 L706.54 231.35 L706.7 233.27 L706.86 232.13 L707.02 228.23 L707.17 222.65 L707.33 216.87 L707.49 212.45 L707.64 210.57 L707.8 211.73 L707.96 215.61 L708.12 221.18 L708.27 226.93 L708.43 231.34 L708.59 233.24 L708.74 232.11 L708.9 228.28 L709.06 222.79 L709.22 217.1 L709.37 212.75 L709.53 210.89 L709.69 212.03 L709.84 215.85 L710 221.32 L710.16 226.99 L710.32 231.34 L710.47 233.2 L710.63 232.1 L710.79 228.34 L710.94 222.93 L711.1 217.32 L711.26 213.03 L711.42 211.2 L711.57 212.32 L711.73 216.08 L711.89 221.47 L712.04 227.05 L712.2 231.33 L712.36 233.17 L712.52 232.09 L712.67 228.39 L712.83 223.06 L712.99 217.54 L713.15 213.32 L713.3 211.51 L713.46 212.6 L713.62 216.3 L713.77 221.61 L713.93 227.11 L714.09 231.33 L714.25 233.15 L714.4 232.08 L714.56 228.44 L714.72 223.19 L714.87 217.76 L715.03 213.59 L715.19 211.81 L715.35 212.88 L715.5 216.52 L715.66 221.75 L715.82 227.17 L715.97 231.33 L716.13 233.12 L716.29 232.08 L716.45 228.49 L716.6 223.32 L716.76 217.97 L716.92 213.86 L717.07 212.1 L717.23 213.15 L717.39 216.73 L717.55 221.88 L717.7 227.22 L717.86 231.33 L718.02 233.1 L718.17 232.08 L718.33 228.54 L718.49 223.45 L718.65 218.17 L718.8 214.12 L718.96 212.38 L719.12 213.41 L719.27 216.94 L719.43 222.02 L719.59 227.28 L719.75 231.33 L719.9 233.08 L720.06 232.08 L720.22 228.6 L720.37 223.58 L720.53 218.37 L720.69 214.38 L720.85 212.66 L721 213.67 L721.16 217.15 L721.32 222.15 L721.47 227.34 L721.63 231.33 L721.79 233.06 L721.95 232.07 L722.1 228.65 L722.26 223.7 L722.42 218.57 L722.57 214.63 L722.73 212.93 L722.89 213.93 L723.05 217.35 L723.2 222.28 L723.36 227.4 L723.52 231.33 L723.67 233.04 L723.83 232.07 L723.99 228.7 L724.15 223.82 L724.3 218.77 L724.46 214.88 L724.62 213.2 L724.77 214.18 L724.93 217.55 L725.09 222.41 L725.25 227.45 L725.4 231.33 L725.56 233.02 L725.72 232.07 L725.87 228.74 L726.03 223.94 L726.19 218.95 L726.35 215.12 L726.5 213.46 L726.66 214.42 L726.82 217.74 L726.97 222.53 L727.13 227.5 L727.29 231.33 L727.45 233 L727.6 232.07 L727.76 228.79 L727.92 224.06 L728.07 219.14 L728.23 215.36 L728.39 213.72 L728.55 214.67 L728.7 217.94 L728.86 222.65 L729.02 227.56 L729.17 231.33 L729.33 232.98 L729.49 232.07 L729.65 228.84 L729.8 224.17 L729.96 219.32 L730.12 215.59 L730.27 213.97 L730.43 214.9 L730.59 218.12 L730.75 222.77 L730.9 227.61 L731.06 231.34 L731.22 232.96 L731.37 232.06 L731.53 228.88 L731.69 224.29 L731.85 219.51 L732 215.82 L732.16 214.22 L732.32 215.14 L732.47 218.31 L732.63 222.89 L732.79 227.66 L732.95 231.34 L733.1 232.95 L733.26 232.06 L733.42 228.93 L733.57 224.4 L733.73 219.68 L733.89 216.05 L734.05 214.47 L734.2 215.37 L734.36 218.49 L734.52 223.01 L734.67 227.71 L734.83 231.34 L734.99 232.93 L735.15 232.06 L735.3 228.97 L735.46 224.51 L735.62 219.86 L735.77 216.27 L735.93 214.71 L736.09 215.59 L736.25 218.67 L736.4 223.13 L736.56 227.76 L736.72 231.34 L736.87 232.91 L737.03 232.06 L737.19 229.02 L737.35 224.62 L737.5 220.03 L737.66 216.5 L737.82 214.95 L737.97 215.82 L738.13 218.85 L738.29 223.24 L738.45 227.81 L738.6 231.34 L738.76 232.89 L738.92 232.06 L739.07 229.06 L739.23 224.72 L739.39 220.2 L739.55 216.71 L739.7 215.19 L739.86 216.04 L740.02 219.03 L740.17 223.36 L740.33 227.86 L740.49 231.35 L740.65 232.88 L740.8 232.06 L740.96 229.11 L741.12 224.83 L741.27 220.37 L741.43 216.93 L741.59 215.43 L741.75 216.26 L741.9 219.21 L742.06 223.47 L742.22 227.91 L742.37 231.35 L742.53 232.86 L742.69 232.06 L742.85 229.15 L743 224.93 L743.16 220.54 L743.32 217.15 L743.47 215.66 L743.63 216.48 L743.79 219.38 L743.95 223.58 L744.1 227.96 L744.26 231.35 L744.42 232.85 L744.57 232.05 L744.73 229.19 L744.89 225.04 L745.05 220.71 L745.2 217.36 L745.36 215.89 L745.52 216.7 L745.67 219.55 L745.83 223.7 L745.99 228.02 L746.15 231.36 L746.3 232.83 L746.46 232.06 L746.62 229.24 L746.77 225.14 L746.93 220.87 L747.09 217.57 L747.25 216.12 L747.4 216.91 L747.56 219.72 L747.72 223.81 L747.87 228.07 L748.03 231.36 L748.19 232.82 L748.35 232.06 L748.5 229.28 L748.66 225.25 L748.82 221.04 L748.97 217.78 L749.13 216.35 L749.29 217.12 L749.45 219.9 L749.6 223.92 L749.76 228.12 L749.92 231.37 L750.07 232.81 L750.23 232.06 L750.39 229.33 L750.55 225.35 L750.7 221.2 L750.86 217.99 L751.02 216.58 L751.17 217.34 L751.33 220.07 L751.49 224.03 L751.65 228.17 L751.8 231.37 L751.96 232.8 L752.12 232.06 L752.27 229.37 L752.43 225.45 L752.59 221.36 L752.75 218.2 L752.9 216.8 L753.06 217.55 L753.22 220.24 L753.37 224.14 L753.53 228.22 L753.69 231.38 L753.85 232.78 L754 232.06 L754.16 229.41 L754.32 225.55 L754.47 221.52 L754.63 218.4 L754.79 217.03 L754.95 217.76 L755.1 220.41 L755.26 224.25 L755.42 228.27 L755.57 231.39 L755.73 232.77 L755.89 232.06 L756.05 229.46 L756.2 225.66 L756.36 221.69 L756.52 218.61 L756.67 217.25 L756.83 217.97 L756.99 220.58 L757.15 224.36 L757.3 228.32 L757.46 231.4 L757.62 232.76 L757.77 232.07 L757.93 229.5 L758.09 225.76 L758.25 221.85 L758.4 218.82 L758.56 217.47 L758.72 218.18 L758.87 220.74 L759.03 224.48 L759.19 228.38 L759.35 231.41 L759.5 232.76 L759.66 232.07 L759.82 229.55 L759.97 225.86 L760.13 222.01 L760.29 219.02 L760.45 217.7 L760.6 218.39 L760.76 220.91 L760.92 224.59 L761.07 228.43 L761.23 231.42 L761.39 232.75 L761.55 232.08 L761.7 229.59 L761.86 225.97 L762.02 222.17 L762.17 219.23 L762.33 217.92 L762.49 218.6 L762.65 221.08 L762.8 224.7 L762.96 228.49 L763.12 231.43 L763.27 232.74 L763.43 232.09 L763.59 229.64 L763.75 226.07 L763.9 222.33 L764.06 219.43 L764.22 218.14 L764.37 218.81 L764.53 221.25 L764.69 224.82 L764.85 228.54 L765 231.44 L765.16 232.74 L765.32 232.09 L765.47 229.69 L765.63 226.17 L765.79 222.49 L765.95 219.64 L766.1 218.37 L766.26 219.02 L766.42 221.43 L766.57 224.93 L766.73 228.6 L766.89 231.45 L767.05 232.73 L767.2 232.1 L767.36 229.74 L767.52 226.28 L767.67 222.66 L767.83 219.84 L767.99 218.59 L768.15 219.23 L768.3 221.6 L768.46 225.05 L768.62 228.66 L768.77 231.47 L768.93 232.73 L769.09 232.11 L769.25 229.79 L769.4 226.38 L769.56 222.82 L769.72 220.05 L769.87 218.82 L770.03 219.45 L770.19 221.77 L770.35 225.16 L770.5 228.72 L770.66 231.48 L770.82 232.73 L770.97 232.12 L771.13 229.84 L771.29 226.49 L771.45 222.98 L771.6 220.26 L771.76 219.04 L771.92 219.66 L772.07 221.94 L772.23 225.28 L772.39 228.78 L772.55 231.5 L772.7 232.72 L772.86 232.13 L773.02 229.89 L773.17 226.6 L773.33 223.15 L773.49 220.47 L773.65 219.27 L773.8 219.87 L773.96 222.12 L774.36 222.12 L774.36 238.3 L527.9 238.3 L527.9 53.4Z" fill="rgba(255,150,0,0.14)"/><path d="M528.5 53.4 L528.66 65.7 L528.81 98.3 L528.97 142.47 L529.13 186.43 L529.29 218.53 L529.44 230.33 L529.6 218.86 L529.76 187.37 L529.91 144.47 L530.07 101.75 L530.23 70.73 L530.39 59.72 L530.54 71.66 L530.7 103.33 L530.86 146.26 L531.01 189 L531.17 220.22 L531.33 231.71 L531.49 220.58 L531.64 190.01 L531.8 148.35 L531.96 106.86 L532.11 76.71 L532.27 65.98 L532.43 77.53 L532.59 108.23 L532.74 149.9 L532.9 191.42 L533.06 221.77 L533.21 232.97 L533.37 222.17 L533.53 192.42 L533.69 151.82 L533.84 111.34 L534 81.86 L534.16 71.29 L534.31 82.46 L534.47 112.35 L534.63 152.98 L534.79 193.52 L534.94 223.18 L535.1 234.15 L535.26 223.61 L535.41 194.51 L535.57 154.76 L535.73 115.09 L535.89 86.17 L536.04 75.76 L536.2 86.66 L536.36 115.92 L536.51 155.73 L536.67 195.44 L536.83 224.5 L536.99 235.26 L537.14 224.99 L537.3 196.59 L537.46 157.83 L537.61 119.17 L537.77 91.04 L537.93 80.96 L538.09 91.62 L538.24 120.14 L538.4 158.9 L538.56 197.55 L538.71 225.83 L538.87 236.32 L539.03 226.34 L539.19 198.71 L539.34 160.96 L539.5 123.26 L539.66 95.73 L539.81 85.76 L539.97 96.01 L540.13 123.71 L540.29 161.47 L540.44 199.2 L540.6 226.87 L540.76 237.15 L540.91 227.38 L541.07 200.27 L541.23 163.19 L541.39 126.14 L541.54 99.08 L541.7 89.26 L541.86 99.3 L542.01 126.5 L542.17 163.57 L542.33 200.6 L542.49 227.75 L542.64 237.84 L542.8 228.28 L542.96 201.77 L543.11 165.52 L543.27 129.3 L543.43 102.86 L543.59 93.27 L543.74 103.09 L543.9 129.65 L544.06 165.84 L544.21 201.99 L544.37 228.48 L544.53 238.33 L544.69 229.02 L544.84 203.18 L545 167.83 L545.16 132.51 L545.31 106.71 L545.47 97.33 L545.63 106.86 L545.79 132.72 L545.94 167.96 L546.1 203.19 L546.26 229.02 L546.41 238.63 L546.57 229.57 L546.73 204.37 L546.89 169.87 L547.04 135.37 L547.2 110.13 L547.36 100.92 L547.51 110.16 L547.67 135.37 L547.83 169.77 L547.99 204.19 L548.14 229.44 L548.3 238.87 L548.46 230.03 L548.61 205.38 L548.77 171.61 L548.93 137.82 L549.09 113.09 L549.24 104.03 L549.4 113.05 L549.56 137.7 L549.71 171.39 L549.87 205.1 L550.03 229.86 L550.19 239.12 L550.34 230.48 L550.5 206.37 L550.66 173.32 L550.81 140.24 L550.97 116.01 L551.13 107.12 L551.29 115.92 L551.44 140.04 L551.6 173.01 L551.76 206.02 L551.91 230.27 L552.07 239.36 L552.23 230.93 L552.39 207.34 L552.54 174.99 L552.7 142.6 L552.86 118.86 L553.01 110.13 L553.17 118.72 L553.33 142.31 L553.49 174.58 L553.64 206.9 L553.8 230.65 L553.96 239.57 L554.11 231.33 L554.27 208.26 L554.43 176.59 L554.59 144.88 L554.74 121.62 L554.9 113.05 L555.06 121.44 L555.21 144.51 L555.37 176.08 L555.53 207.72 L555.69 230.98 L555.84 239.72 L556 231.68 L556.16 209.11 L556.31 178.12 L556.47 147.08 L556.63 124.3 L556.79 115.89 L556.94 124.07 L557.1 146.63 L557.26 177.51 L557.41 208.46 L557.57 231.23 L557.73 239.79 L557.89 231.94 L558.04 209.88 L558.2 179.57 L558.36 149.19 L558.51 126.9 L558.67 118.65 L558.83 126.63 L558.99 148.68 L559.14 178.88 L559.3 209.15 L559.46 231.44 L559.61 239.84 L559.77 232.18 L559.93 210.61 L560.09 180.97 L560.24 151.25 L560.4 129.43 L560.56 121.33 L560.71 129.12 L560.87 150.67 L561.03 180.2 L561.19 209.82 L561.34 231.64 L561.5 239.88 L561.66 232.41 L561.81 211.32 L561.97 182.33 L562.13 153.25 L562.29 131.88 L562.44 123.94 L562.6 131.54 L562.76 152.6 L562.91 181.49 L563.07 210.47 L563.23 231.83 L563.39 239.91 L563.54 232.62 L563.7 212.01 L563.86 183.65 L564.01 155.19 L564.17 134.27 L564.33 126.48 L564.49 133.89 L564.64 154.49 L564.8 182.74 L564.96 211.1 L565.11 232.01 L565.27 239.94 L565.43 232.83 L565.59 212.67 L565.74 184.93 L565.9 157.08 L566.06 136.59 L566.21 128.95 L566.37 136.18 L566.53 156.31 L566.69 183.95 L566.84 211.71 L567 232.18 L567.16 239.95 L567.31 233.01 L567.47 213.31 L567.63 186.17 L567.79 158.91 L567.94 138.85 L568.1 131.36 L568.26 138.41 L568.41 158.09 L568.57 185.13 L568.73 212.29 L568.89 232.34 L569.04 239.96 L569.2 233.19 L569.36 213.92 L569.51 187.37 L569.67 160.69 L569.83 141.05 L569.99 133.7 L570.14 140.57 L570.3 159.82 L570.46 186.26 L570.61 212.84 L570.77 232.46 L570.93 239.92 L571.09 233.32 L571.24 214.47 L571.4 188.51 L571.56 162.41 L571.71 143.18 L571.87 135.97 L572.03 142.68 L572.19 161.48 L572.34 187.33 L572.5 213.31 L572.66 232.49 L572.81 239.81 L572.97 233.36 L573.13 214.95 L573.29 189.57 L573.44 164.06 L573.6 145.26 L573.76 138.19 L573.91 144.72 L574.07 163.08 L574.23 188.33 L574.39 213.72 L574.54 232.48 L574.7 239.63 L574.86 233.35 L575.01 215.37 L575.17 190.58 L575.33 165.65 L575.49 147.27 L575.64 140.35 L575.8 146.71 L575.96 164.63 L576.11 189.29 L576.27 214.09 L576.43 232.42 L576.59 239.43 L576.74 233.31 L576.9 215.77 L577.06 191.55 L577.21 167.2 L577.37 149.23 L577.53 142.45 L577.69 148.65 L577.84 166.14 L578 190.22 L578.16 214.45 L578.31 232.37 L578.47 239.24 L578.63 233.27 L578.79 216.15 L578.94 192.5 L579.1 168.7 L579.26 151.14 L579.41 144.5 L579.57 150.53 L579.73 167.61 L579.89 191.13 L580.04 214.81 L580.2 232.34 L580.36 239.07 L580.51 233.26 L580.67 216.54 L580.83 193.44 L580.99 170.18 L581.14 153 L581.3 146.49 L581.46 152.38 L581.61 169.05 L581.77 192.05 L581.93 215.2 L582.09 232.34 L582.24 238.94 L582.4 233.28 L582.56 216.95 L582.71 194.37 L582.87 171.62 L583.03 154.81 L583.19 148.43 L583.34 154.17 L583.5 170.46 L583.66 192.94 L583.81 215.58 L583.97 232.35 L584.13 238.81 L584.29 233.3 L584.44 217.34 L584.6 195.27 L584.76 173.03 L584.91 156.58 L585.07 150.33 L585.23 155.92 L585.39 171.84 L585.54 193.81 L585.7 215.95 L585.86 232.36 L586.01 238.69 L586.17 233.31 L586.33 217.72 L586.49 196.15 L586.64 174.4 L586.8 158.31 L586.96 152.18 L587.11 157.63 L587.27 173.18 L587.43 194.66 L587.59 216.31 L587.74 232.37 L587.9 238.58 L588.06 233.33 L588.21 218.1 L588.37 197.01 L588.53 175.73 L588.69 159.99 L588.84 153.98 L589 159.29 L589.16 174.49 L589.31 195.49 L589.47 216.67 L589.63 232.38 L589.79 238.47 L589.94 233.36 L590.1 218.47 L590.26 197.85 L590.42 177.04 L590.57 161.63 L590.73 155.73 L590.89 160.92 L591.04 175.77 L591.2 196.3 L591.36 217.02 L591.52 232.41 L591.67 238.38 L591.83 233.39 L591.99 218.84 L592.14 198.67 L592.3 178.31 L592.46 163.22 L592.62 157.45 L592.77 162.5 L592.93 177.02 L593.09 197.11 L593.24 217.38 L593.4 232.44 L593.56 238.3 L593.72 233.44 L593.87 219.22 L594.03 199.48 L594.19 179.56 L594.34 164.79 L594.5 159.12 L594.66 164.05 L594.82 178.25 L594.97 197.9 L595.13 217.74 L595.29 232.49 L595.44 238.24 L595.6 233.49 L595.76 219.59 L595.92 200.28 L596.07 180.78 L596.23 166.31 L596.39 160.75 L596.54 165.56 L596.7 179.44 L596.86 198.67 L597.02 218.1 L597.17 232.54 L597.33 238.18 L597.49 233.55 L597.64 219.95 L597.8 201.06 L597.96 181.96 L598.12 167.79 L598.27 162.34 L598.43 167.03 L598.59 180.61 L598.74 199.43 L598.9 218.45 L599.06 232.6 L599.22 238.13 L599.37 233.61 L599.53 220.31 L599.69 201.82 L599.84 183.13 L600 169.25 L600.16 163.89 L600.32 168.47 L600.47 181.76 L600.63 200.17 L600.79 218.79 L600.94 232.65 L601.1 238.08 L601.26 233.67 L601.42 220.66 L601.57 202.56 L601.73 184.26 L601.89 170.66 L602.04 165.4 L602.2 169.88 L602.36 182.87 L602.52 200.9 L602.67 219.13 L602.83 232.71 L602.99 238.04 L603.14 233.73 L603.3 221 L603.46 203.29 L603.62 185.37 L603.77 172.04 L603.93 166.88 L604.09 171.25 L604.24 183.96 L604.4 201.61 L604.56 219.46 L604.72 232.77 L604.87 238 L605.03 233.8 L605.19 221.34 L605.34 204 L605.5 186.45 L605.66 173.39 L605.82 168.33 L605.97 172.59 L606.13 185.03 L606.29 202.3 L606.44 219.79 L606.6 232.82 L606.76 237.96 L606.92 233.86 L607.07 221.67 L607.23 204.69 L607.39 187.5 L607.54 174.71 L607.7 169.74 L607.86 173.9 L608.02 186.07 L608.17 202.98 L608.33 220.11 L608.49 232.88 L608.64 237.92 L608.8 233.92 L608.96 221.99 L609.12 205.37 L609.27 188.53 L609.43 176 L609.59 171.12 L609.74 175.18 L609.9 187.09 L610.06 203.65 L610.22 220.42 L610.37 232.94 L610.53 237.89 L610.69 233.98 L610.84 222.31 L611 206.03 L611.16 189.54 L611.32 177.26 L611.47 172.46 L611.63 176.43 L611.79 188.09 L611.94 204.3 L612.1 220.73 L612.26 233 L612.42 237.85 L612.57 234.04 L612.73 222.61 L612.89 206.68 L613.04 190.52 L613.2 178.48 L613.36 173.78 L613.52 177.65 L613.67 189.06 L613.83 204.93 L613.99 221.03 L614.14 233.05 L614.3 237.82 L614.46 234.09 L614.62 222.91 L614.77 207.31 L614.93 191.48 L615.09 179.68 L615.24 175.06 L615.4 178.85 L615.56 190.01 L615.72 205.55 L615.87 221.32 L616.03 233.1 L616.19 237.78 L616.34 234.14 L616.5 223.2 L616.66 207.92 L616.82 192.42 L616.97 180.86 L617.13 176.32 L617.29 180.02 L617.44 190.94 L617.6 206.16 L617.76 221.6 L617.92 233.15 L618.07 237.75 L618.23 234.19 L618.39 223.49 L618.54 208.52 L618.7 193.34 L618.86 182 L619.02 177.55 L619.17 181.16 L619.33 191.85 L619.49 206.75 L619.64 221.88 L619.8 233.2 L619.96 237.71 L620.12 234.24 L620.27 223.76 L620.43 209.11 L620.59 194.23 L620.74 183.12 L620.9 178.75 L621.06 182.27 L621.22 192.74 L621.37 207.33 L621.53 222.15 L621.69 233.24 L621.84 237.67 L622 234.28 L622.16 224.02 L622.32 209.68 L622.47 195.11 L622.63 184.22 L622.79 179.93 L622.94 183.37 L623.1 193.6 L623.26 207.89 L623.42 222.4 L623.57 233.28 L623.73 237.62 L623.89 234.31 L624.04 224.28 L624.2 210.23 L624.36 195.96 L624.52 185.29 L624.67 181.07 L624.83 184.43 L624.99 194.45 L625.14 208.44 L625.3 222.65 L625.46 233.31 L625.62 237.57 L625.77 234.34 L625.93 224.52 L626.09 210.77 L626.24 196.79 L626.4 186.33 L626.56 182.2 L626.72 185.47 L626.87 195.28 L627.03 208.97 L627.19 222.89 L627.34 233.33 L627.5 237.52 L627.66 234.36 L627.82 224.75 L627.97 211.29 L628.13 197.6 L628.29 187.35 L628.44 183.29 L628.6 186.49 L628.76 196.08 L628.92 209.49 L629.07 223.13 L629.23 233.35 L629.39 237.46 L629.54 234.38 L629.7 224.98 L629.86 211.8 L630.02 198.39 L630.17 188.35 L630.33 184.36 L630.49 187.49 L630.64 196.87 L630.8 210 L630.96 223.35 L631.12 233.37 L631.27 237.4 L631.43 234.4 L631.59 225.2 L631.74 212.29 L631.9 199.16 L632.06 189.32 L632.22 185.41 L632.37 188.46 L632.53 197.64 L632.69 210.49 L632.84 223.57 L633 233.39 L633.16 237.34 L633.32 234.41 L633.47 225.41 L633.63 212.77 L633.79 199.91 L633.94 190.27 L634.1 186.43 L634.26 189.41 L634.42 198.39 L634.57 210.97 L634.73 223.78 L634.89 233.4 L635.04 237.28 L635.2 234.42 L635.36 225.61 L635.52 213.24 L635.67 200.64 L635.83 191.2 L635.99 187.43 L636.14 190.33 L636.3 199.12 L636.46 211.44 L636.62 223.98 L636.77 233.4 L636.93 237.21 L637.09 234.42 L637.24 225.8 L637.4 213.69 L637.56 201.36 L637.72 192.1 L637.87 188.4 L638.03 191.24 L638.19 199.84 L638.34 211.89 L638.5 224.17 L638.66 233.41 L638.82 237.14 L638.97 234.42 L639.13 225.98 L639.29 214.13 L639.44 202.05 L639.6 192.98 L639.76 189.35 L639.92 192.12 L640.07 200.53 L640.23 212.33 L640.39 224.36 L640.54 233.4 L640.7 237.07 L640.86 234.41 L641.02 226.16 L641.17 214.56 L641.33 202.73 L641.49 193.84 L641.64 190.28 L641.8 192.98 L641.96 201.21 L642.12 212.76 L642.27 224.53 L642.43 233.4 L642.59 237 L642.74 234.4 L642.9 226.33 L643.06 214.97 L643.22 203.38 L643.37 194.68 L643.53 191.18 L643.69 193.82 L643.84 201.87 L644 213.17 L644.16 224.7 L644.32 233.39 L644.47 236.92 L644.63 234.38 L644.79 226.49 L644.94 215.37 L645.1 204.02 L645.26 195.49 L645.42 192.06 L645.57 194.63 L645.73 202.51 L645.89 213.57 L646.04 224.87 L646.2 233.37 L646.36 236.84 L646.52 234.36 L646.67 226.64 L646.83 215.75 L646.99 204.64 L647.14 196.29 L647.3 192.92 L647.46 195.43 L647.62 203.13 L647.77 213.96 L647.93 225.02 L648.09 233.35 L648.24 236.75 L648.4 234.34 L648.56 226.78 L648.72 216.13 L648.87 205.25 L649.03 197.06 L649.19 193.75 L649.34 196.2 L649.5 203.74 L649.66 214.34 L649.82 225.17 L649.97 233.33 L650.13 236.67 L650.29 234.31 L650.44 226.91 L650.6 216.49 L650.76 205.83 L650.92 197.81 L651.07 194.57 L651.23 196.96 L651.39 204.33 L651.54 214.71 L651.7 225.31 L651.86 233.3 L652.02 236.57 L652.17 234.27 L652.33 227.04 L652.49 216.83 L652.64 206.4 L652.8 198.54 L652.96 195.36 L653.12 197.69 L653.27 204.9 L653.43 215.05 L653.59 225.43 L653.74 233.26 L653.9 236.47 L654.06 234.22 L654.22 227.15 L654.37 217.16 L654.53 206.95 L654.69 199.25 L654.84 196.13 L655 198.41 L655.16 205.46 L655.32 215.39 L655.47 225.54 L655.63 233.21 L655.79 236.35 L655.94 234.16 L656.1 227.24 L656.26 217.47 L656.42 207.48 L656.57 199.95 L656.73 196.88 L656.89 199.1 L657.04 205.99 L657.2 215.71 L657.36 225.64 L657.52 233.15 L657.67 236.23 L657.83 234.09 L657.99 227.33 L658.14 217.77 L658.3 207.99 L658.46 200.62 L658.62 197.61 L658.77 199.77 L658.93 206.51 L659.09 216.01 L659.24 225.73 L659.4 233.08 L659.56 236.1 L659.72 234.02 L659.87 227.4 L660.03 218.06 L660.19 208.49 L660.34 201.27 L660.5 198.32 L660.66 200.43 L660.82 207.02 L660.97 216.31 L661.13 225.82 L661.29 233.01 L661.44 235.97 L661.6 233.94 L661.76 227.47 L661.92 218.33 L662.07 208.97 L662.23 201.9 L662.39 199.01 L662.54 201.07 L662.7 207.5 L662.86 216.59 L663.02 225.9 L663.17 232.93 L663.33 235.84 L663.49 233.85 L663.64 227.53 L663.8 218.59 L663.96 209.44 L664.12 202.52 L664.27 199.68 L664.43 201.69 L664.59 207.98 L664.74 216.86 L664.9 225.96 L665.06 232.85 L665.22 235.7 L665.37 233.76 L665.53 227.59 L665.69 218.84 L665.84 209.88 L666 203.11 L666.16 200.34 L666.32 202.29 L666.47 208.43 L666.63 217.12 L666.79 226.02 L666.94 232.76 L667.1 235.55 L667.26 233.66 L667.42 227.63 L667.57 219.08 L667.73 210.32 L667.89 203.69 L668.04 200.97 L668.2 202.87 L668.36 208.88 L668.52 217.37 L668.67 226.07 L668.83 232.67 L668.99 235.4 L669.14 233.56 L669.3 227.66 L669.46 219.31 L669.62 210.74 L669.77 204.25 L669.93 201.59 L670.09 203.44 L670.24 209.31 L670.4 217.61 L670.56 226.12 L670.72 232.57 L670.87 235.25 L671.03 233.46 L671.19 227.69 L671.34 219.52 L671.5 211.14 L671.66 204.8 L671.82 202.18 L671.97 203.99 L672.13 209.72 L672.29 217.84 L672.44 226.16 L672.6 232.48 L672.76 235.1 L672.92 233.35 L673.07 227.72 L673.23 219.73 L673.39 211.53 L673.54 205.32 L673.7 202.76 L673.86 204.52 L674.02 210.12 L674.17 218.06 L674.33 226.2 L674.49 232.38 L674.64 234.95 L674.8 233.25 L674.96 227.75 L675.12 219.93 L675.27 211.91 L675.43 205.84 L675.59 203.32 L675.74 205.04 L675.9 210.51 L676.06 218.27 L676.22 226.24 L676.37 232.29 L676.53 234.81 L676.69 233.15 L676.84 227.77 L677 220.13 L677.16 212.28 L677.32 206.33 L677.47 203.87 L677.63 205.54 L677.79 210.89 L677.94 218.48 L678.1 226.28 L678.26 232.2 L678.42 234.68 L678.57 233.06 L678.73 227.8 L678.89 220.32 L679.04 212.64 L679.2 206.81 L679.36 204.4 L679.52 206.03 L679.67 211.26 L679.83 218.69 L679.99 226.32 L680.14 232.12 L680.3 234.55 L680.46 232.97 L680.62 227.83 L680.77 220.51 L680.93 212.99 L681.09 207.28 L681.24 204.91 L681.4 206.5 L681.56 211.62 L681.72 218.89 L681.87 226.36 L682.03 232.04 L682.19 234.42 L682.34 232.88 L682.5 227.85 L682.66 220.69 L682.82 213.32 L682.97 207.73 L683.13 205.4 L683.29 206.95 L683.44 211.96 L683.6 219.07 L683.76 226.39 L683.92 231.95 L684.07 234.29 L684.23 232.79 L684.39 227.86 L684.54 220.85 L684.7 213.64 L684.86 208.17 L685.02 205.88 L685.17 207.4 L685.33 212.29 L685.49 219.25 L685.64 226.42 L685.8 231.87 L685.96 234.16 L686.12 232.69 L686.27 227.88 L686.43 221.01 L686.59 213.95 L686.74 208.59 L686.9 206.35 L687.06 207.82 L687.22 212.61 L687.37 219.43 L687.53 226.44 L687.69 231.78 L687.84 234.03 L688 232.6 L688.16 227.89 L688.32 221.17 L688.47 214.25 L688.63 208.99 L688.79 206.79 L688.94 208.23 L689.1 212.92 L689.26 219.59 L689.42 226.46 L689.57 231.7 L689.73 233.9 L689.89 232.51 L690.04 227.9 L690.2 221.32 L690.36 214.54 L690.52 209.39 L690.67 207.23 L690.83 208.63 L690.99 213.22 L691.14 219.76 L691.3 226.49 L691.46 231.62 L691.62 233.79 L691.77 232.43 L691.93 227.91 L692.09 221.47 L692.24 214.83 L692.4 209.77 L692.56 207.65 L692.72 209.02 L692.87 213.51 L693.03 219.92 L693.19 226.52 L693.34 231.55 L693.5 233.68 L693.66 232.35 L693.82 227.93 L693.97 221.61 L694.13 215.1 L694.29 210.14 L694.44 208.05 L694.6 209.39 L694.76 213.8 L694.92 220.08 L695.07 226.55 L695.23 231.5 L695.39 233.59 L695.54 232.29 L695.7 227.96 L695.86 221.76 L696.02 215.37 L696.17 210.5 L696.33 208.44 L696.49 209.76 L696.64 214.07 L696.8 220.24 L696.96 226.6 L697.12 231.45 L697.27 233.51 L697.43 232.24 L697.59 227.99 L697.74 221.91 L697.9 215.63 L698.06 210.85 L698.22 208.83 L698.37 210.11 L698.53 214.35 L698.69 220.4 L698.84 226.65 L699 231.42 L699.16 233.45 L699.32 232.21 L699.47 228.04 L699.63 222.06 L699.79 215.89 L699.94 211.19 L700.1 209.19 L700.26 210.45 L700.42 214.61 L700.57 220.56 L700.73 226.7 L700.89 231.4 L701.04 233.4 L701.2 232.18 L701.36 228.09 L701.52 222.21 L701.67 216.15 L701.83 211.51 L701.99 209.55 L702.14 210.78 L702.3 214.87 L702.46 220.72 L702.62 226.76 L702.77 231.38 L702.93 233.36 L703.09 232.16 L703.24 228.13 L703.4 222.36 L703.56 216.4 L703.72 211.84 L703.87 209.9 L704.03 211.11 L704.19 215.13 L704.34 220.88 L704.5 226.82 L704.66 231.37 L704.82 233.31 L704.97 232.14 L705.13 228.18 L705.29 222.51 L705.44 216.64 L705.6 212.15 L705.76 210.24 L705.92 211.42 L706.07 215.37 L706.23 221.03 L706.39 226.88 L706.54 231.35 L706.7 233.27 L706.86 232.13 L707.02 228.23 L707.17 222.65 L707.33 216.87 L707.49 212.45 L707.64 210.57 L707.8 211.73 L707.96 215.61 L708.12 221.18 L708.27 226.93 L708.43 231.34 L708.59 233.24 L708.74 232.11 L708.9 228.28 L709.06 222.79 L709.22 217.1 L709.37 212.75 L709.53 210.89 L709.69 212.03 L709.84 215.85 L710 221.32 L710.16 226.99 L710.32 231.34 L710.47 233.2 L710.63 232.1 L710.79 228.34 L710.94 222.93 L711.1 217.32 L711.26 213.03 L711.42 211.2 L711.57 212.32 L711.73 216.08 L711.89 221.47 L712.04 227.05 L712.2 231.33 L712.36 233.17 L712.52 232.09 L712.67 228.39 L712.83 223.06 L712.99 217.54 L713.15 213.32 L713.3 211.51 L713.46 212.6 L713.62 216.3 L713.77 221.61 L713.93 227.11 L714.09 231.33 L714.25 233.15 L714.4 232.08 L714.56 228.44 L714.72 223.19 L714.87 217.76 L715.03 213.59 L715.19 211.81 L715.35 212.88 L715.5 216.52 L715.66 221.75 L715.82 227.17 L715.97 231.33 L716.13 233.12 L716.29 232.08 L716.45 228.49 L716.6 223.32 L716.76 217.97 L716.92 213.86 L717.07 212.1 L717.23 213.15 L717.39 216.73 L717.55 221.88 L717.7 227.22 L717.86 231.33 L718.02 233.1 L718.17 232.08 L718.33 228.54 L718.49 223.45 L718.65 218.17 L718.8 214.12 L718.96 212.38 L719.12 213.41 L719.27 216.94 L719.43 222.02 L719.59 227.28 L719.75 231.33 L719.9 233.08 L720.06 232.08 L720.22 228.6 L720.37 223.58 L720.53 218.37 L720.69 214.38 L720.85 212.66 L721 213.67 L721.16 217.15 L721.32 222.15 L721.47 227.34 L721.63 231.33 L721.79 233.06 L721.95 232.07 L722.1 228.65 L722.26 223.7 L722.42 218.57 L722.57 214.63 L722.73 212.93 L722.89 213.93 L723.05 217.35 L723.2 222.28 L723.36 227.4 L723.52 231.33 L723.67 233.04 L723.83 232.07 L723.99 228.7 L724.15 223.82 L724.3 218.77 L724.46 214.88 L724.62 213.2 L724.77 214.18 L724.93 217.55 L725.09 222.41 L725.25 227.45 L725.4 231.33 L725.56 233.02 L725.72 232.07 L725.87 228.74 L726.03 223.94 L726.19 218.95 L726.35 215.12 L726.5 213.46 L726.66 214.42 L726.82 217.74 L726.97 222.53 L727.13 227.5 L727.29 231.33 L727.45 233 L727.6 232.07 L727.76 228.79 L727.92 224.06 L728.07 219.14 L728.23 215.36 L728.39 213.72 L728.55 214.67 L728.7 217.94 L728.86 222.65 L729.02 227.56 L729.17 231.33 L729.33 232.98 L729.49 232.07 L729.65 228.84 L729.8 224.17 L729.96 219.32 L730.12 215.59 L730.27 213.97 L730.43 214.9 L730.59 218.12 L730.75 222.77 L730.9 227.61 L731.06 231.34 L731.22 232.96 L731.37 232.06 L731.53 228.88 L731.69 224.29 L731.85 219.51 L732 215.82 L732.16 214.22 L732.32 215.14 L732.47 218.31 L732.63 222.89 L732.79 227.66 L732.95 231.34 L733.1 232.95 L733.26 232.06 L733.42 228.93 L733.57 224.4 L733.73 219.68 L733.89 216.05 L734.05 214.47 L734.2 215.37 L734.36 218.49 L734.52 223.01 L734.67 227.71 L734.83 231.34 L734.99 232.93 L735.15 232.06 L735.3 228.97 L735.46 224.51 L735.62 219.86 L735.77 216.27 L735.93 214.71 L736.09 215.59 L736.25 218.67 L736.4 223.13 L736.56 227.76 L736.72 231.34 L736.87 232.91 L737.03 232.06 L737.19 229.02 L737.35 224.62 L737.5 220.03 L737.66 216.5 L737.82 214.95 L737.97 215.82 L738.13 218.85 L738.29 223.24 L738.45 227.81 L738.6 231.34 L738.76 232.89 L738.92 232.06 L739.07 229.06 L739.23 224.72 L739.39 220.2 L739.55 216.71 L739.7 215.19 L739.86 216.04 L740.02 219.03 L740.17 223.36 L740.33 227.86 L740.49 231.35 L740.65 232.88 L740.8 232.06 L740.96 229.11 L741.12 224.83 L741.27 220.37 L741.43 216.93 L741.59 215.43 L741.75 216.26 L741.9 219.21 L742.06 223.47 L742.22 227.91 L742.37 231.35 L742.53 232.86 L742.69 232.06 L742.85 229.15 L743 224.93 L743.16 220.54 L743.32 217.15 L743.47 215.66 L743.63 216.48 L743.79 219.38 L743.95 223.58 L744.1 227.96 L744.26 231.35 L744.42 232.85 L744.57 232.05 L744.73 229.19 L744.89 225.04 L745.05 220.71 L745.2 217.36 L745.36 215.89 L745.52 216.7 L745.67 219.55 L745.83 223.7 L745.99 228.02 L746.15 231.36 L746.3 232.83 L746.46 232.06 L746.62 229.24 L746.77 225.14 L746.93 220.87 L747.09 217.57 L747.25 216.12 L747.4 216.91 L747.56 219.72 L747.72 223.81 L747.87 228.07 L748.03 231.36 L748.19 232.82 L748.35 232.06 L748.5 229.28 L748.66 225.25 L748.82 221.04 L748.97 217.78 L749.13 216.35 L749.29 217.12 L749.45 219.9 L749.6 223.92 L749.76 228.12 L749.92 231.37 L750.07 232.81 L750.23 232.06 L750.39 229.33 L750.55 225.35 L750.7 221.2 L750.86 217.99 L751.02 216.58 L751.17 217.34 L751.33 220.07 L751.49 224.03 L751.65 228.17 L751.8 231.37 L751.96 232.8 L752.12 232.06 L752.27 229.37 L752.43 225.45 L752.59 221.36 L752.75 218.2 L752.9 216.8 L753.06 217.55 L753.22 220.24 L753.37 224.14 L753.53 228.22 L753.69 231.38 L753.85 232.78 L754 232.06 L754.16 229.41 L754.32 225.55 L754.47 221.52 L754.63 218.4 L754.79 217.03 L754.95 217.76 L755.1 220.41 L755.26 224.25 L755.42 228.27 L755.57 231.39 L755.73 232.77 L755.89 232.06 L756.05 229.46 L756.2 225.66 L756.36 221.69 L756.52 218.61 L756.67 217.25 L756.83 217.97 L756.99 220.58 L757.15 224.36 L757.3 228.32 L757.46 231.4 L757.62 232.76 L757.77 232.07 L757.93 229.5 L758.09 225.76 L758.25 221.85 L758.4 218.82 L758.56 217.47 L758.72 218.18 L758.87 220.74 L759.03 224.48 L759.19 228.38 L759.35 231.41 L759.5 232.76 L759.66 232.07 L759.82 229.55 L759.97 225.86 L760.13 222.01 L760.29 219.02 L760.45 217.7 L760.6 218.39 L760.76 220.91 L760.92 224.59 L761.07 228.43 L761.23 231.42 L761.39 232.75 L761.55 232.08 L761.7 229.59 L761.86 225.97 L762.02 222.17 L762.17 219.23 L762.33 217.92 L762.49 218.6 L762.65 221.08 L762.8 224.7 L762.96 228.49 L763.12 231.43 L763.27 232.74 L763.43 232.09 L763.59 229.64 L763.75 226.07 L763.9 222.33 L764.06 219.43 L764.22 218.14 L764.37 218.81 L764.53 221.25 L764.69 224.82 L764.85 228.54 L765 231.44 L765.16 232.74 L765.32 232.09 L765.47 229.69 L765.63 226.17 L765.79 222.49 L765.95 219.64 L766.1 218.37 L766.26 219.02 L766.42 221.43 L766.57 224.93 L766.73 228.6 L766.89 231.45 L767.05 232.73 L767.2 232.1 L767.36 229.74 L767.52 226.28 L767.67 222.66 L767.83 219.84 L767.99 218.59 L768.15 219.23 L768.3 221.6 L768.46 225.05 L768.62 228.66 L768.77 231.47 L768.93 232.73 L769.09 232.11 L769.25 229.79 L769.4 226.38 L769.56 222.82 L769.72 220.05 L769.87 218.82 L770.03 219.45 L770.19 221.77 L770.35 225.16 L770.5 228.72 L770.66 231.48 L770.82 232.73 L770.97 232.12 L771.13 229.84 L771.29 226.49 L771.45 222.98 L771.6 220.26 L771.76 219.04 L771.92 219.66 L772.07 221.94 L772.23 225.28 L772.39 228.78 L772.55 231.5 L772.7 232.72 L772.86 232.13 L773.02 229.89 L773.17 226.6 L773.33 223.15 L773.49 220.47 L773.65 219.27 L773.8 219.87 L773.96 222.12" fill="none" stroke="rgba(255,138,0,0.85)" stroke-width="1.0" stroke-linejoin="round"/>
<path d="M528.5 53.4 L528.91 53.94 L529.32 54.56 L529.73 55.25 L530.14 56 L530.55 56.81 L530.95 57.67 L531.36 58.57 L531.77 59.52 L532.18 60.59 L532.59 61.76 L533 63.03 L533.41 64.34 L533.82 65.69 L534.23 67.03 L534.64 68.34 L535.05 69.63 L535.45 70.92 L535.86 72.23 L536.27 73.59 L536.68 75.01 L537.09 76.52 L537.5 78.14 L537.91 79.92 L538.32 81.85 L538.73 83.9 L539.14 86.04 L539.55 88.23 L539.95 90.45 L540.36 92.67 L540.77 94.94 L541.18 97.27 L541.59 99.66 L542 102.08 L542.41 104.53 L542.82 106.98 L543.23 109.42 L543.64 111.86 L544.05 114.28 L544.45 116.72 L544.86 119.18 L545.27 121.68 L545.68 124.21 L546.09 126.81 L546.5 129.48 L546.91 132.24 L547.32 135.06 L547.73 137.89 L548.14 140.7 L548.55 143.46 L548.96 146.16 L549.36 148.84 L549.77 151.5 L550.18 154.11 L550.59 156.66 L551 159.14 L551.41 161.56 L551.82 163.95 L552.23 166.35 L552.64 168.77 L553.05 171.25 L553.46 173.81 L553.86 176.54 L554.27 179.39 L554.68 182.29 L555.09 185.16 L555.5 187.93 L555.91 190.53 L556.32 192.9 L556.73 195.09 L557.14 197.17 L557.55 199.15 L557.96 201.06 L558.36 202.91 L558.77 204.71 L559.18 206.48 L559.59 208.23 L560 209.94 L560.41 211.63 L560.82 213.27 L561.23 214.87 L561.64 216.43 L562.05 217.95 L562.46 219.41 L562.86 220.83 L563.27 222.22 L563.68 223.6 L564.09 224.96 L564.5 226.27 L564.91 227.53 L565.32 228.73 L565.73 229.85 L566.14 230.89 L566.55 231.83 L566.96 232.74 L567.36 233.64 L567.77 234.49 L568.18 235.3 L568.59 236.05 L569 236.72 L569.41 237.3 L569.82 237.77 L570.23 238.15 L570.64 238.52 L571.05 238.87 L571.46 239.19 L571.86 239.48 L572.27 239.73 L572.68 239.93 L573.09 240.07 L573.5 240.14 L573.91 240.13 L574.32 240.05 L574.73 239.9 L575.14 239.68 L575.55 239.42 L575.96 239.11 L576.36 238.76 L576.77 238.4 L577.18 238.01 L577.59 237.55 L578 236.91 L578.41 236.12 L578.82 235.2 L579.23 234.2 L579.64 233.14 L580.05 232.07 L580.46 231 L580.86 229.98 L581.27 228.97 L581.68 227.92 L582.09 226.85 L582.5 225.75 L582.91 224.63 L583.32 223.5 L583.73 222.36 L584.14 221.23 L584.55 220.1 L584.96 218.99 L585.36 217.9 L585.77 216.81 L586.18 215.72 L586.59 214.64 L587 213.56 L587.41 212.48 L587.82 211.41 L588.23 210.33 L588.64 209.25 L589.05 208.17 L589.46 207.08 L589.87 206 L590.27 204.91 L590.68 203.83 L591.09 202.74 L591.5 201.65 L591.91 200.57 L592.32 199.48 L592.73 198.39 L593.14 197.3 L593.55 196.21 L593.96 195.12 L594.37 194.03 L594.77 192.93 L595.18 191.81 L595.59 190.67 L596 189.52 L596.41 188.36 L596.82 187.21 L597.23 186.08 L597.64 184.98 L598.05 183.91 L598.46 182.88 L598.87 181.91 L599.27 180.98 L599.68 180.07 L600.09 179.17 L600.5 178.29 L600.91 177.44 L601.32 176.61 L601.73 175.82 L602.14 175.06 L602.55 174.34 L602.96 173.66 L603.37 173.03 L603.77 172.42 L604.18 171.82 L604.59 171.23 L605 170.65 L605.41 170.11 L605.82 169.59 L606.23 169.12 L606.64 168.69 L607.05 168.32 L607.46 168.01 L607.87 167.76 L608.27 167.53 L608.68 167.3 L609.09 167.09 L609.5 166.9 L609.91 166.74 L610.32 166.61 L610.73 166.52 L611.14 166.47 L611.55 166.48 L611.96 166.54 L612.37 166.65 L612.77 166.8 L613.18 166.99 L613.59 167.21 L614 167.46 L614.41 167.72 L614.82 168.01 L615.23 168.3 L615.64 168.59 L616.05 168.93 L616.46 169.34 L616.87 169.81 L617.27 170.34 L617.68 170.91 L618.09 171.52 L618.5 172.16 L618.91 172.81 L619.32 173.47 L619.73 174.12 L620.14 174.77 L620.55 175.44 L620.96 176.13 L621.37 176.85 L621.77 177.59 L622.18 178.35 L622.59 179.12 L623 179.91 L623.41 180.7 L623.82 181.5 L624.23 182.3 L624.64 183.11 L625.05 183.93 L625.46 184.76 L625.87 185.6 L626.27 186.46 L626.68 187.32 L627.09 188.2 L627.5 189.07 L627.91 189.96 L628.32 190.85 L628.73 191.74 L629.14 192.63 L629.55 193.52 L629.96 194.41 L630.37 195.3 L630.77 196.2 L631.18 197.1 L631.59 198.01 L632 198.93 L632.41 199.87 L632.82 200.82 L633.23 201.78 L633.64 202.77 L634.05 203.79 L634.46 204.88 L634.87 206 L635.28 207.1 L635.68 208.15 L636.09 209.12 L636.5 210.08 L636.91 211.01 L637.32 211.93 L637.73 212.83 L638.14 213.72 L638.55 214.59 L638.96 215.45 L639.37 216.29 L639.78 217.13 L640.18 217.96 L640.59 218.78 L641 219.6 L641.41 220.41 L641.82 221.23 L642.23 222.06 L642.64 222.92 L643.05 223.78 L643.46 224.65 L643.87 225.51 L644.28 226.36 L644.68 227.18 L645.09 227.97 L645.5 228.73 L645.91 229.43 L646.32 230.08 L646.73 230.67 L647.14 231.19 L647.55 231.63 L647.96 232.05 L648.37 232.45 L648.78 232.84 L649.18 233.21 L649.59 233.57 L650 233.9 L650.41 234.22 L650.82 234.51 L651.23 234.78 L651.64 235.02 L652.05 235.24 L652.46 235.44 L652.87 235.6 L653.28 235.74 L653.68 235.86 L654.09 235.98 L654.5 236.1 L654.91 236.2 L655.32 236.29 L655.73 236.36 L656.14 236.42 L656.55 236.45 L656.96 236.45 L657.37 236.41 L657.78 236.34 L658.18 236.24 L658.59 236.12 L659 235.97 L659.41 235.8 L659.82 235.62 L660.23 235.42 L660.64 235.22 L661.05 235.01 L661.46 234.79 L661.87 234.51 L662.28 234.19 L662.68 233.82 L663.09 233.41 L663.5 232.97 L663.91 232.5 L664.32 232.01 L664.73 231.5 L665.14 230.98 L665.55 230.45 L665.96 229.92 L666.37 229.38 L666.78 228.86 L667.18 228.35 L667.59 227.86 L668 227.37 L668.41 226.88 L668.82 226.37 L669.23 225.85 L669.64 225.33 L670.05 224.8 L670.46 224.27 L670.87 223.75 L671.28 223.22 L671.68 222.7 L672.09 222.19 L672.5 221.69 L672.91 221.2 L673.32 220.73 L673.73 220.28 L674.14 219.82 L674.55 219.35 L674.96 218.89 L675.37 218.43 L675.78 217.97 L676.19 217.52 L676.59 217.07 L677 216.64 L677.41 216.21 L677.82 215.79 L678.23 215.39 L678.64 215 L679.05 214.63 L679.46 214.27 L679.87 213.94 L680.28 213.63 L680.69 213.34 L681.09 213.06 L681.5 212.79 L681.91 212.53 L682.32 212.27 L682.73 212.01 L683.14 211.76 L683.55 211.52 L683.96 211.29 L684.37 211.07 L684.78 210.85 L685.19 210.65 L685.59 210.46 L686 210.29 L686.41 210.12 L686.82 209.97 L687.23 209.84 L687.64 209.72 L688.05 209.62 L688.46 209.53 L688.87 209.43 L689.28 209.34 L689.69 209.25 L690.09 209.16 L690.5 209.08 L690.91 209 L691.32 208.92 L691.73 208.85 L692.14 208.79 L692.55 208.73 L692.96 208.68 L693.37 208.63 L693.78 208.59 L694.19 208.56 L694.59 208.54 L695 208.53 L695.41 208.53 L695.82 208.55 L696.23 208.57 L696.64 208.62 L697.05 208.67 L697.46 208.73 L697.87 208.81 L698.28 208.9 L698.69 208.99 L699.09 209.09 L699.5 209.2 L699.91 209.32 L700.32 209.44 L700.73 209.56 L701.14 209.69 L701.55 209.82 L701.96 209.95 L702.37 210.08 L702.78 210.21 L703.19 210.37 L703.59 210.55 L704 210.75 L704.41 210.96 L704.82 211.19 L705.23 211.42 L705.64 211.68 L706.05 211.94 L706.46 212.2 L706.87 212.48 L707.28 212.76 L707.69 213.04 L708.09 213.33 L708.5 213.61 L708.91 213.89 L709.32 214.17 L709.73 214.45 L710.14 214.72 L710.55 215 L710.96 215.29 L711.37 215.58 L711.78 215.88 L712.19 216.18 L712.6 216.48 L713 216.79 L713.41 217.1 L713.82 217.41 L714.23 217.73 L714.64 218.04 L715.05 218.36 L715.46 218.67 L715.87 218.99 L716.28 219.31 L716.69 219.62 L717.1 219.94 L717.5 220.25 L717.91 220.57 L718.32 220.89 L718.73 221.22 L719.14 221.54 L719.55 221.87 L719.96 222.2 L720.37 222.52 L720.78 222.85 L721.19 223.18 L721.6 223.51 L722 223.83 L722.41 224.15 L722.82 224.47 L723.23 224.79 L723.64 225.11 L724.05 225.42 L724.46 225.73 L724.87 226.04 L725.28 226.36 L725.69 226.68 L726.1 227.01 L726.5 227.33 L726.91 227.66 L727.32 227.98 L727.73 228.3 L728.14 228.61 L728.55 228.91 L728.96 229.21 L729.37 229.49 L729.78 229.77 L730.19 230.03 L730.6 230.28 L731 230.51 L731.41 230.72 L731.82 230.92 L732.23 231.12 L732.64 231.31 L733.05 231.49 L733.46 231.67 L733.87 231.84 L734.28 232.01 L734.69 232.18 L735.1 232.33 L735.5 232.49 L735.91 232.63 L736.32 232.78 L736.73 232.91 L737.14 233.04 L737.55 233.17 L737.96 233.29 L738.37 233.4 L738.78 233.51 L739.19 233.62 L739.6 233.73 L740 233.83 L740.41 233.93 L740.82 234.03 L741.23 234.12 L741.64 234.21 L742.05 234.3 L742.46 234.39 L742.87 234.47 L743.28 234.55 L743.69 234.62 L744.1 234.7 L744.5 234.76 L744.91 234.83 L745.32 234.89 L745.73 234.94 L746.14 234.99 L746.55 235.04 L746.96 235.1 L747.37 235.15 L747.78 235.2 L748.19 235.24 L748.6 235.28 L749 235.31 L749.41 235.33 L749.82 235.34 L750.23 235.34 L750.64 235.34 L751.05 235.32 L751.46 235.31 L751.87 235.29 L752.28 235.27 L752.69 235.24 L753.1 235.21 L753.5 235.18 L753.91 235.15 L754.32 235.11 L754.73 235.07 L755.14 235.03 L755.55 234.99 L755.96 234.95 L756.37 234.91 L756.78 234.87 L757.19 234.83 L757.6 234.79 L758.01 234.74 L758.41 234.7 L758.82 234.65 L759.23 234.59 L759.64 234.54 L760.05 234.47 L760.46 234.41 L760.87 234.35 L761.28 234.28 L761.69 234.21 L762.1 234.14 L762.51 234.07 L762.91 234 L763.32 233.92 L763.73 233.85 L764.14 233.78 L764.55 233.71 L764.96 233.63 L765.37 233.56 L765.78 233.49 L766.19 233.42 L766.6 233.35 L767.01 233.28 L767.41 233.21 L767.82 233.14 L768.23 233.07 L768.64 233 L769.05 232.92 L769.46 232.85 L769.87 232.78 L770.28 232.7 L770.69 232.63 L771.1 232.55 L771.51 232.48 L771.91 232.4 L772.32 232.32 L772.73 232.25 L773.14 232.17 L773.55 232.09 L773.96 232.01 L774.36 232.01 L774.36 238.3 L527.9 238.3 L527.9 53.4Z" fill="rgba(0,0,255,0.2)"/>
<path d="M528.5 53.4 L528.91 53.4 L529.32 53.4 L529.73 53.41 L530.14 53.41 L530.55 53.41 L530.95 53.42 L531.36 53.43 L531.77 53.44 L532.18 53.44 L532.59 53.46 L533 53.47 L533.41 53.48 L533.82 53.49 L534.23 53.51 L534.64 53.52 L535.05 53.54 L535.45 53.56 L535.86 53.58 L536.27 53.6 L536.68 53.62 L537.09 53.64 L537.5 53.66 L537.91 53.69 L538.32 53.71 L538.73 53.74 L539.14 53.76 L539.55 53.79 L539.95 53.82 L540.36 53.85 L540.77 53.88 L541.18 53.91 L541.59 53.94 L542 53.98 L542.41 54.01 L542.82 54.05 L543.23 54.08 L543.64 54.12 L544.05 54.16 L544.45 54.19 L544.86 54.23 L545.27 54.28 L545.68 54.32 L546.09 54.36 L546.5 54.4 L546.91 54.45 L547.32 54.49 L547.73 54.54 L548.14 54.58 L548.55 54.63 L548.96 54.68 L549.36 54.73 L549.77 54.78 L550.18 54.83 L550.59 54.88 L551 54.93 L551.41 54.99 L551.82 55.04 L552.23 55.1 L552.64 55.15 L553.05 55.21 L553.46 55.26 L553.86 55.32 L554.27 55.38 L554.68 55.44 L555.09 55.5 L555.5 55.56 L555.91 55.62 L556.32 55.69 L556.73 55.75 L557.14 55.81 L557.55 55.88 L557.96 55.94 L558.36 56.01 L558.77 56.07 L559.18 56.14 L559.59 56.21 L560 56.28 L560.41 56.35 L560.82 56.42 L561.23 56.49 L561.64 56.56 L562.05 56.63 L562.46 56.71 L562.86 56.78 L563.27 56.85 L563.68 56.93 L564.09 57 L564.5 57.08 L564.91 57.16 L565.32 57.23 L565.73 57.31 L566.14 57.39 L566.55 57.47 L566.96 57.55 L567.36 57.63 L567.77 57.71 L568.18 57.79 L568.59 57.88 L569 57.96 L569.41 58.04 L569.82 58.13 L570.23 58.21 L570.64 58.3 L571.05 58.38 L571.46 58.47 L571.86 58.55 L572.27 58.64 L572.68 58.73 L573.09 58.82 L573.5 58.91 L573.91 59 L574.32 59.09 L574.73 59.18 L575.14 59.27 L575.55 59.36 L575.96 59.45 L576.36 59.54 L576.77 59.64 L577.18 59.73 L577.59 59.82 L578 59.92 L578.41 60.01 L578.82 60.11 L579.23 60.21 L579.64 60.3 L580.05 60.4 L580.46 60.5 L580.86 60.59 L581.27 60.69 L581.68 60.79 L582.09 60.89 L582.5 60.99 L582.91 61.09 L583.32 61.19 L583.73 61.29 L584.14 61.39 L584.55 61.49 L584.96 61.6 L585.36 61.7 L585.77 61.8 L586.18 61.91 L586.59 62.01 L587 62.11 L587.41 62.22 L587.82 62.32 L588.23 62.43 L588.64 62.53 L589.05 62.64 L589.46 62.75 L589.87 62.85 L590.27 62.96 L590.68 63.07 L591.09 63.18 L591.5 63.28 L591.91 63.39 L592.32 63.5 L592.73 63.61 L593.14 63.72 L593.55 63.83 L593.96 63.94 L594.37 64.05 L594.77 64.16 L595.18 64.27 L595.59 64.39 L596 64.5 L596.41 64.61 L596.82 64.72 L597.23 64.83 L597.64 64.95 L598.05 65.06 L598.46 65.18 L598.87 65.29 L599.27 65.4 L599.68 65.52 L600.09 65.63 L600.5 65.75 L600.91 65.86 L601.32 65.98 L601.73 66.09 L602.14 66.21 L602.55 66.33 L602.96 66.44 L603.37 66.56 L603.77 66.68 L604.18 66.8 L604.59 66.91 L605 67.03 L605.41 67.15 L605.82 67.27 L606.23 67.39 L606.64 67.51 L607.05 67.62 L607.46 67.74 L607.87 67.86 L608.27 67.98 L608.68 68.1 L609.09 68.22 L609.5 68.34 L609.91 68.46 L610.32 68.58 L610.73 68.71 L611.14 68.83 L611.55 68.95 L611.96 69.07 L612.37 69.19 L612.77 69.31 L613.18 69.43 L613.59 69.56 L614 69.68 L614.41 69.8 L614.82 69.92 L615.23 70.05 L615.64 70.17 L616.05 70.29 L616.46 70.42 L616.87 70.54 L617.27 70.66 L617.68 70.79 L618.09 70.91 L618.5 71.04 L618.91 71.16 L619.32 71.28 L619.73 71.41 L620.14 71.53 L620.55 71.66 L620.96 71.78 L621.37 71.91 L621.77 72.03 L622.18 72.16 L622.59 72.28 L623 72.41 L623.41 72.53 L623.82 72.66 L624.23 72.79 L624.64 72.91 L625.05 73.04 L625.46 73.16 L625.87 73.29 L626.27 73.42 L626.68 73.54 L627.09 73.67 L627.5 73.8 L627.91 73.92 L628.32 74.05 L628.73 74.18 L629.14 74.3 L629.55 74.43 L629.96 74.56 L630.37 74.68 L630.77 74.81 L631.18 74.94 L631.59 75.07 L632 75.19 L632.41 75.32 L632.82 75.45 L633.23 75.58 L633.64 75.7 L634.05 75.83 L634.46 75.96 L634.87 76.09 L635.28 76.21 L635.68 76.34 L636.09 76.47 L636.5 76.6 L636.91 76.73 L637.32 76.85 L637.73 76.98 L638.14 77.11 L638.55 77.24 L638.96 77.37 L639.37 77.49 L639.78 77.62 L640.18 77.75 L640.59 77.88 L641 78.01 L641.41 78.13 L641.82 78.26 L642.23 78.39 L642.64 78.52 L643.05 78.65 L643.46 78.78 L643.87 78.9 L644.28 79.03 L644.68 79.16 L645.09 79.29 L645.5 79.42 L645.91 79.55 L646.32 79.67 L646.73 79.8 L647.14 79.93 L647.55 80.06 L647.96 80.19 L648.37 80.32 L648.78 80.44 L649.18 80.57 L649.59 80.7 L650 80.83 L650.41 80.96 L650.82 81.09 L651.23 81.21 L651.64 81.34 L652.05 81.47 L652.46 81.6 L652.87 81.73 L653.28 81.85 L653.68 81.98 L654.09 82.11 L654.5 82.24 L654.91 82.37 L655.32 82.49 L655.73 82.62 L656.14 82.75 L656.55 82.88 L656.96 83.01 L657.37 83.13 L657.78 83.26 L658.18 83.39 L658.59 83.52 L659 83.65 L659.41 83.77 L659.82 83.9 L660.23 84.03 L660.64 84.16 L661.05 84.28 L661.46 84.41 L661.87 84.54 L662.28 84.66 L662.68 84.79 L663.09 84.92 L663.5 85.05 L663.91 85.17 L664.32 85.3 L664.73 85.43 L665.14 85.55 L665.55 85.68 L665.96 85.81 L666.37 85.94 L666.78 86.06 L667.18 86.19 L667.59 86.32 L668 86.44 L668.41 86.57 L668.82 86.7 L669.23 86.82 L669.64 86.95 L670.05 87.07 L670.46 87.2 L670.87 87.33 L671.28 87.45 L671.68 87.58 L672.09 87.7 L672.5 87.83 L672.91 87.96 L673.32 88.08 L673.73 88.21 L674.14 88.33 L674.55 88.46 L674.96 88.58 L675.37 88.71 L675.78 88.84 L676.19 88.96 L676.59 89.09 L677 89.21 L677.41 89.34 L677.82 89.46 L678.23 89.59 L678.64 89.71 L679.05 89.84 L679.46 89.96 L679.87 90.09 L680.28 90.21 L680.69 90.34 L681.09 90.46 L681.5 90.58 L681.91 90.71 L682.32 90.83 L682.73 90.96 L683.14 91.08 L683.55 91.21 L683.96 91.33 L684.37 91.45 L684.78 91.58 L685.19 91.7 L685.59 91.83 L686 91.95 L686.41 92.07 L686.82 92.2 L687.23 92.32 L687.64 92.44 L688.05 92.57 L688.46 92.69 L688.87 92.81 L689.28 92.94 L689.69 93.06 L690.09 93.18 L690.5 93.31 L690.91 93.43 L691.32 93.55 L691.73 93.67 L692.14 93.8 L692.55 93.92 L692.96 94.04 L693.37 94.16 L693.78 94.29 L694.19 94.41 L694.59 94.53 L695 94.65 L695.41 94.78 L695.82 94.9 L696.23 95.02 L696.64 95.14 L697.05 95.26 L697.46 95.39 L697.87 95.51 L698.28 95.63 L698.69 95.75 L699.09 95.87 L699.5 96 L699.91 96.12 L700.32 96.24 L700.73 96.36 L701.14 96.48 L701.55 96.6 L701.96 96.72 L702.37 96.85 L702.78 96.97 L703.19 97.09 L703.59 97.21 L704 97.33 L704.41 97.45 L704.82 97.57 L705.23 97.69 L705.64 97.81 L706.05 97.93 L706.46 98.06 L706.87 98.18 L707.28 98.3 L707.69 98.42 L708.09 98.54 L708.5 98.66 L708.91 98.78 L709.32 98.9 L709.73 99.02 L710.14 99.14 L710.55 99.26 L710.96 99.38 L711.37 99.5 L711.78 99.62 L712.19 99.74 L712.6 99.86 L713 99.98 L713.41 100.1 L713.82 100.22 L714.23 100.35 L714.64 100.47 L715.05 100.59 L715.46 100.71 L715.87 100.83 L716.28 100.95 L716.69 101.07 L717.1 101.19 L717.5 101.31 L717.91 101.43 L718.32 101.55 L718.73 101.67 L719.14 101.79 L719.55 101.91 L719.96 102.03 L720.37 102.15 L720.78 102.27 L721.19 102.39 L721.6 102.51 L722 102.63 L722.41 102.75 L722.82 102.87 L723.23 102.99 L723.64 103.11 L724.05 103.23 L724.46 103.35 L724.87 103.47 L725.28 103.59 L725.69 103.71 L726.1 103.83 L726.5 103.95 L726.91 104.07 L727.32 104.19 L727.73 104.31 L728.14 104.43 L728.55 104.55 L728.96 104.67 L729.37 104.79 L729.78 104.91 L730.19 105.04 L730.6 105.16 L731 105.28 L731.41 105.4 L731.82 105.52 L732.23 105.64 L732.64 105.76 L733.05 105.88 L733.46 106 L733.87 106.12 L734.28 106.24 L734.69 106.37 L735.1 106.49 L735.5 106.61 L735.91 106.73 L736.32 106.85 L736.73 106.97 L737.14 107.09 L737.55 107.22 L737.96 107.34 L738.37 107.46 L738.78 107.58 L739.19 107.7 L739.6 107.83 L740 107.95 L740.41 108.07 L740.82 108.19 L741.23 108.32 L741.64 108.44 L742.05 108.56 L742.46 108.69 L742.87 108.81 L743.28 108.93 L743.69 109.05 L744.1 109.18 L744.5 109.3 L744.91 109.42 L745.32 109.55 L745.73 109.67 L746.14 109.8 L746.55 109.92 L746.96 110.05 L747.37 110.17 L747.78 110.29 L748.19 110.42 L748.6 110.54 L749 110.67 L749.41 110.79 L749.82 110.92 L750.23 111.04 L750.64 111.17 L751.05 111.3 L751.46 111.42 L751.87 111.55 L752.28 111.67 L752.69 111.8 L753.1 111.93 L753.5 112.05 L753.91 112.18 L754.32 112.31 L754.73 112.44 L755.14 112.56 L755.55 112.69 L755.96 112.82 L756.37 112.95 L756.78 113.08 L757.19 113.2 L757.6 113.33 L758.01 113.46 L758.41 113.59 L758.82 113.72 L759.23 113.85 L759.64 113.98 L760.05 114.11 L760.46 114.24 L760.87 114.37 L761.28 114.5 L761.69 114.63 L762.1 114.76 L762.51 114.9 L762.91 115.03 L763.32 115.16 L763.73 115.29 L764.14 115.43 L764.55 115.56 L764.96 115.69 L765.37 115.82 L765.78 115.96 L766.19 116.09 L766.6 116.23 L767.01 116.36 L767.41 116.5 L767.82 116.63 L768.23 116.77 L768.64 116.9 L769.05 117.04 L769.46 117.17 L769.87 117.31 L770.28 117.45 L770.69 117.58 L771.1 117.72 L771.51 117.86 L771.91 118 L772.32 118.14 L772.73 118.28 L773.14 118.42 L773.55 118.55 L773.96 118.69" fill="none" stroke="#1a1a1a" stroke-width="0.8"/>
<path d="M528.5 53.4 L528.91 53.94 L529.32 54.56 L529.73 55.25 L530.14 56 L530.55 56.81 L530.95 57.67 L531.36 58.57 L531.77 59.52 L532.18 60.59 L532.59 61.76 L533 63.03 L533.41 64.34 L533.82 65.69 L534.23 67.03 L534.64 68.34 L535.05 69.63 L535.45 70.92 L535.86 72.23 L536.27 73.59 L536.68 75.01 L537.09 76.52 L537.5 78.14 L537.91 79.92 L538.32 81.85 L538.73 83.9 L539.14 86.04 L539.55 88.23 L539.95 90.45 L540.36 92.67 L540.77 94.94 L541.18 97.27 L541.59 99.66 L542 102.08 L542.41 104.53 L542.82 106.98 L543.23 109.42 L543.64 111.86 L544.05 114.28 L544.45 116.72 L544.86 119.18 L545.27 121.68 L545.68 124.21 L546.09 126.81 L546.5 129.48 L546.91 132.24 L547.32 135.06 L547.73 137.89 L548.14 140.7 L548.55 143.46 L548.96 146.16 L549.36 148.84 L549.77 151.5 L550.18 154.11 L550.59 156.66 L551 159.14 L551.41 161.56 L551.82 163.95 L552.23 166.35 L552.64 168.77 L553.05 171.25 L553.46 173.81 L553.86 176.54 L554.27 179.39 L554.68 182.29 L555.09 185.16 L555.5 187.93 L555.91 190.53 L556.32 192.9 L556.73 195.09 L557.14 197.17 L557.55 199.15 L557.96 201.06 L558.36 202.91 L558.77 204.71 L559.18 206.48 L559.59 208.23 L560 209.94 L560.41 211.63 L560.82 213.27 L561.23 214.87 L561.64 216.43 L562.05 217.95 L562.46 219.41 L562.86 220.83 L563.27 222.22 L563.68 223.6 L564.09 224.96 L564.5 226.27 L564.91 227.53 L565.32 228.73 L565.73 229.85 L566.14 230.89 L566.55 231.83 L566.96 232.74 L567.36 233.64 L567.77 234.49 L568.18 235.3 L568.59 236.05 L569 236.72 L569.41 237.3 L569.82 237.77 L570.23 238.15 L570.64 238.52 L571.05 238.87 L571.46 239.19 L571.86 239.48 L572.27 239.73 L572.68 239.93 L573.09 240.07 L573.5 240.14 L573.91 240.13 L574.32 240.05 L574.73 239.9 L575.14 239.68 L575.55 239.42 L575.96 239.11 L576.36 238.76 L576.77 238.4 L577.18 238.01 L577.59 237.55 L578 236.91 L578.41 236.12 L578.82 235.2 L579.23 234.2 L579.64 233.14 L580.05 232.07 L580.46 231 L580.86 229.98 L581.27 228.97 L581.68 227.92 L582.09 226.85 L582.5 225.75 L582.91 224.63 L583.32 223.5 L583.73 222.36 L584.14 221.23 L584.55 220.1 L584.96 218.99 L585.36 217.9 L585.77 216.81 L586.18 215.72 L586.59 214.64 L587 213.56 L587.41 212.48 L587.82 211.41 L588.23 210.33 L588.64 209.25 L589.05 208.17 L589.46 207.08 L589.87 206 L590.27 204.91 L590.68 203.83 L591.09 202.74 L591.5 201.65 L591.91 200.57 L592.32 199.48 L592.73 198.39 L593.14 197.3 L593.55 196.21 L593.96 195.12 L594.37 194.03 L594.77 192.93 L595.18 191.81 L595.59 190.67 L596 189.52 L596.41 188.36 L596.82 187.21 L597.23 186.08 L597.64 184.98 L598.05 183.91 L598.46 182.88 L598.87 181.91 L599.27 180.98 L599.68 180.07 L600.09 179.17 L600.5 178.29 L600.91 177.44 L601.32 176.61 L601.73 175.82 L602.14 175.06 L602.55 174.34 L602.96 173.66 L603.37 173.03 L603.77 172.42 L604.18 171.82 L604.59 171.23 L605 170.65 L605.41 170.11 L605.82 169.59 L606.23 169.12 L606.64 168.69 L607.05 168.32 L607.46 168.01 L607.87 167.76 L608.27 167.53 L608.68 167.3 L609.09 167.09 L609.5 166.9 L609.91 166.74 L610.32 166.61 L610.73 166.52 L611.14 166.47 L611.55 166.48 L611.96 166.54 L612.37 166.65 L612.77 166.8 L613.18 166.99 L613.59 167.21 L614 167.46 L614.41 167.72 L614.82 168.01 L615.23 168.3 L615.64 168.59 L616.05 168.93 L616.46 169.34 L616.87 169.81 L617.27 170.34 L617.68 170.91 L618.09 171.52 L618.5 172.16 L618.91 172.81 L619.32 173.47 L619.73 174.12 L620.14 174.77 L620.55 175.44 L620.96 176.13 L621.37 176.85 L621.77 177.59 L622.18 178.35 L622.59 179.12 L623 179.91 L623.41 180.7 L623.82 181.5 L624.23 182.3 L624.64 183.11 L625.05 183.93 L625.46 184.76 L625.87 185.6 L626.27 186.46 L626.68 187.32 L627.09 188.2 L627.5 189.07 L627.91 189.96 L628.32 190.85 L628.73 191.74 L629.14 192.63 L629.55 193.52 L629.96 194.41 L630.37 195.3 L630.77 196.2 L631.18 197.1 L631.59 198.01 L632 198.93 L632.41 199.87 L632.82 200.82 L633.23 201.78 L633.64 202.77 L634.05 203.79 L634.46 204.88 L634.87 206 L635.28 207.1 L635.68 208.15 L636.09 209.12 L636.5 210.08 L636.91 211.01 L637.32 211.93 L637.73 212.83 L638.14 213.72 L638.55 214.59 L638.96 215.45 L639.37 216.29 L639.78 217.13 L640.18 217.96 L640.59 218.78 L641 219.6 L641.41 220.41 L641.82 221.23 L642.23 222.06 L642.64 222.92 L643.05 223.78 L643.46 224.65 L643.87 225.51 L644.28 226.36 L644.68 227.18 L645.09 227.97 L645.5 228.73 L645.91 229.43 L646.32 230.08 L646.73 230.67 L647.14 231.19 L647.55 231.63 L647.96 232.05 L648.37 232.45 L648.78 232.84 L649.18 233.21 L649.59 233.57 L650 233.9 L650.41 234.22 L650.82 234.51 L651.23 234.78 L651.64 235.02 L652.05 235.24 L652.46 235.44 L652.87 235.6 L653.28 235.74 L653.68 235.86 L654.09 235.98 L654.5 236.1 L654.91 236.2 L655.32 236.29 L655.73 236.36 L656.14 236.42 L656.55 236.45 L656.96 236.45 L657.37 236.41 L657.78 236.34 L658.18 236.24 L658.59 236.12 L659 235.97 L659.41 235.8 L659.82 235.62 L660.23 235.42 L660.64 235.22 L661.05 235.01 L661.46 234.79 L661.87 234.51 L662.28 234.19 L662.68 233.82 L663.09 233.41 L663.5 232.97 L663.91 232.5 L664.32 232.01 L664.73 231.5 L665.14 230.98 L665.55 230.45 L665.96 229.92 L666.37 229.38 L666.78 228.86 L667.18 228.35 L667.59 227.86 L668 227.37 L668.41 226.88 L668.82 226.37 L669.23 225.85 L669.64 225.33 L670.05 224.8 L670.46 224.27 L670.87 223.75 L671.28 223.22 L671.68 222.7 L672.09 222.19 L672.5 221.69 L672.91 221.2 L673.32 220.73 L673.73 220.28 L674.14 219.82 L674.55 219.35 L674.96 218.89 L675.37 218.43 L675.78 217.97 L676.19 217.52 L676.59 217.07 L677 216.64 L677.41 216.21 L677.82 215.79 L678.23 215.39 L678.64 215 L679.05 214.63 L679.46 214.27 L679.87 213.94 L680.28 213.63 L680.69 213.34 L681.09 213.06 L681.5 212.79 L681.91 212.53 L682.32 212.27 L682.73 212.01 L683.14 211.76 L683.55 211.52 L683.96 211.29 L684.37 211.07 L684.78 210.85 L685.19 210.65 L685.59 210.46 L686 210.29 L686.41 210.12 L686.82 209.97 L687.23 209.84 L687.64 209.72 L688.05 209.62 L688.46 209.53 L688.87 209.43 L689.28 209.34 L689.69 209.25 L690.09 209.16 L690.5 209.08 L690.91 209 L691.32 208.92 L691.73 208.85 L692.14 208.79 L692.55 208.73 L692.96 208.68 L693.37 208.63 L693.78 208.59 L694.19 208.56 L694.59 208.54 L695 208.53 L695.41 208.53 L695.82 208.55 L696.23 208.57 L696.64 208.62 L697.05 208.67 L697.46 208.73 L697.87 208.81 L698.28 208.9 L698.69 208.99 L699.09 209.09 L699.5 209.2 L699.91 209.32 L700.32 209.44 L700.73 209.56 L701.14 209.69 L701.55 209.82 L701.96 209.95 L702.37 210.08 L702.78 210.21 L703.19 210.37 L703.59 210.55 L704 210.75 L704.41 210.96 L704.82 211.19 L705.23 211.42 L705.64 211.68 L706.05 211.94 L706.46 212.2 L706.87 212.48 L707.28 212.76 L707.69 213.04 L708.09 213.33 L708.5 213.61 L708.91 213.89 L709.32 214.17 L709.73 214.45 L710.14 214.72 L710.55 215 L710.96 215.29 L711.37 215.58 L711.78 215.88 L712.19 216.18 L712.6 216.48 L713 216.79 L713.41 217.1 L713.82 217.41 L714.23 217.73 L714.64 218.04 L715.05 218.36 L715.46 218.67 L715.87 218.99 L716.28 219.31 L716.69 219.62 L717.1 219.94 L717.5 220.25 L717.91 220.57 L718.32 220.89 L718.73 221.22 L719.14 221.54 L719.55 221.87 L719.96 222.2 L720.37 222.52 L720.78 222.85 L721.19 223.18 L721.6 223.51 L722 223.83 L722.41 224.15 L722.82 224.47 L723.23 224.79 L723.64 225.11 L724.05 225.42 L724.46 225.73 L724.87 226.04 L725.28 226.36 L725.69 226.68 L726.1 227.01 L726.5 227.33 L726.91 227.66 L727.32 227.98 L727.73 228.3 L728.14 228.61 L728.55 228.91 L728.96 229.21 L729.37 229.49 L729.78 229.77 L730.19 230.03 L730.6 230.28 L731 230.51 L731.41 230.72 L731.82 230.92 L732.23 231.12 L732.64 231.31 L733.05 231.49 L733.46 231.67 L733.87 231.84 L734.28 232.01 L734.69 232.18 L735.1 232.33 L735.5 232.49 L735.91 232.63 L736.32 232.78 L736.73 232.91 L737.14 233.04 L737.55 233.17 L737.96 233.29 L738.37 233.4 L738.78 233.51 L739.19 233.62 L739.6 233.73 L740 233.83 L740.41 233.93 L740.82 234.03 L741.23 234.12 L741.64 234.21 L742.05 234.3 L742.46 234.39 L742.87 234.47 L743.28 234.55 L743.69 234.62 L744.1 234.7 L744.5 234.76 L744.91 234.83 L745.32 234.89 L745.73 234.94 L746.14 234.99 L746.55 235.04 L746.96 235.1 L747.37 235.15 L747.78 235.2 L748.19 235.24 L748.6 235.28 L749 235.31 L749.41 235.33 L749.82 235.34 L750.23 235.34 L750.64 235.34 L751.05 235.32 L751.46 235.31 L751.87 235.29 L752.28 235.27 L752.69 235.24 L753.1 235.21 L753.5 235.18 L753.91 235.15 L754.32 235.11 L754.73 235.07 L755.14 235.03 L755.55 234.99 L755.96 234.95 L756.37 234.91 L756.78 234.87 L757.19 234.83 L757.6 234.79 L758.01 234.74 L758.41 234.7 L758.82 234.65 L759.23 234.59 L759.64 234.54 L760.05 234.47 L760.46 234.41 L760.87 234.35 L761.28 234.28 L761.69 234.21 L762.1 234.14 L762.51 234.07 L762.91 234 L763.32 233.92 L763.73 233.85 L764.14 233.78 L764.55 233.71 L764.96 233.63 L765.37 233.56 L765.78 233.49 L766.19 233.42 L766.6 233.35 L767.01 233.28 L767.41 233.21 L767.82 233.14 L768.23 233.07 L768.64 233 L769.05 232.92 L769.46 232.85 L769.87 232.78 L770.28 232.7 L770.69 232.63 L771.1 232.55 L771.51 232.48 L771.91 232.4 L772.32 232.32 L772.73 232.25 L773.14 232.17 L773.55 232.09 L773.96 232.01" fill="none" stroke="rgba(30,30,255,0.8)" stroke-width="0.9"/>
<line x1="518.3" y1="238.45000000000002" x2="784.1" y2="238.45000000000002" stroke="#dc3a5a" stroke-width="1" stroke-dasharray="2.4 5.27"/>
<rect x="657.5" y="53" width="126" height="61.5" fill="rgba(255,255,255,0.85)"/>
<rect x="663.3" y="61.9" width="6.7" height="6.6" fill="#b3b3b3"/>
<text x="681.1" y="70.0" class="ax" font-style="italic" textLength="8.2" lengthAdjust="spacingAndGlyphs">α</text>
<text x="694.6" y="70.0" class="ax" textLength="10.0" lengthAdjust="spacingAndGlyphs">=</text>
<text x="710.9" y="70.0" class="ax" textLength="23.0" lengthAdjust="spacingAndGlyphs">0.1,</text>
<text x="740.6" y="70.0" class="ax" font-style="italic" textLength="8.0" lengthAdjust="spacingAndGlyphs">κ</text>
<text x="753.9" y="70.0" class="ax" textLength="10.0" lengthAdjust="spacingAndGlyphs">=</text>
<text x="769.2" y="70.0" class="ax" textLength="6.7" lengthAdjust="spacingAndGlyphs">2</text>
<rect x="663.3" y="80.1" width="6.7" height="6.6" fill="#6666ff"/>
<text x="681.1" y="88.4" class="ax" font-style="italic" textLength="8.2" lengthAdjust="spacingAndGlyphs">α</text>
<text x="694.6" y="88.4" class="ax" textLength="10.0" lengthAdjust="spacingAndGlyphs">=</text>
<text x="712.6" y="88.4" class="ax" textLength="9.3" lengthAdjust="spacingAndGlyphs">1,</text>
<text x="728.6" y="88.4" class="ax" font-style="italic" textLength="8.0" lengthAdjust="spacingAndGlyphs">κ</text>
<text x="741.9" y="88.4" class="ax" textLength="10.0" lengthAdjust="spacingAndGlyphs">=</text>
<text x="757.5" y="88.4" class="ax" textLength="6.7" lengthAdjust="spacingAndGlyphs">2</text>
<rect x="663.3" y="98.5" width="6.7" height="6.6" fill="#ffa81e"/>
<text x="681.1" y="106.8" class="ax" font-style="italic" textLength="8.2" lengthAdjust="spacingAndGlyphs">α</text>
<text x="694.6" y="106.8" class="ax" textLength="10.0" lengthAdjust="spacingAndGlyphs">=</text>
<text x="712.6" y="106.8" class="ax" textLength="9.3" lengthAdjust="spacingAndGlyphs">1,</text>
<text x="728.6" y="106.8" class="ax" font-style="italic" textLength="8.0" lengthAdjust="spacingAndGlyphs">κ</text>
<text x="741.9" y="106.8" class="ax" textLength="10.0" lengthAdjust="spacingAndGlyphs">=</text>
<text x="757.5" y="106.8" class="ax" textLength="6.9" lengthAdjust="spacingAndGlyphs">4</text>
<rect x="518.7" y="46" width="265.4" height="199.8" fill="none" stroke="#000" stroke-width="1.8"/>
<line x1="528.5" y1="245.8" x2="528.5" y2="257.7" stroke="#000" stroke-width="1.05"/>
<text x="528.5" y="276.3" class="ax" text-anchor="middle">0</text>
<line x1="569.41" y1="245.8" x2="569.41" y2="257.7" stroke="#000" stroke-width="1.05"/>
<text x="569.41" y="276.3" class="ax" text-anchor="middle">5</text>
<line x1="610.32" y1="245.8" x2="610.32" y2="257.7" stroke="#000" stroke-width="1.05"/>
<text x="610.32" y="276.3" class="ax" text-anchor="middle">10</text>
<line x1="651.23" y1="245.8" x2="651.23" y2="257.7" stroke="#000" stroke-width="1.05"/>
<text x="651.23" y="276.3" class="ax" text-anchor="middle">15</text>
<line x1="692.14" y1="245.8" x2="692.14" y2="257.7" stroke="#000" stroke-width="1.05"/>
<text x="692.14" y="276.3" class="ax" text-anchor="middle">20</text>
<line x1="733.05" y1="245.8" x2="733.05" y2="257.7" stroke="#000" stroke-width="1.05"/>
<text x="733.05" y="276.3" class="ax" text-anchor="middle">25</text>
<line x1="773.96" y1="245.8" x2="773.96" y2="257.7" stroke="#000" stroke-width="1.05"/>
<text x="773.96" y="276.3" class="ax" text-anchor="middle">30</text>
<line x1="506" y1="238.45" x2="518.7" y2="238.45" stroke="#000" stroke-width="1.05"/>
<text transform="translate(502.4 238.2) rotate(-90)" class="ax" text-anchor="middle" textLength="18.7" lengthAdjust="spacingAndGlyphs">0.0</text>
<line x1="506" y1="201.47" x2="518.7" y2="201.47" stroke="#000" stroke-width="1.05"/>
<text transform="translate(502.4 201.22) rotate(-90)" class="ax" text-anchor="middle" textLength="18.7" lengthAdjust="spacingAndGlyphs">0.2</text>
<line x1="506" y1="164.49" x2="518.7" y2="164.49" stroke="#000" stroke-width="1.05"/>
<text transform="translate(502.4 164.24) rotate(-90)" class="ax" text-anchor="middle" textLength="18.7" lengthAdjust="spacingAndGlyphs">0.4</text>
<line x1="506" y1="127.51" x2="518.7" y2="127.51" stroke="#000" stroke-width="1.05"/>
<text transform="translate(502.4 127.26) rotate(-90)" class="ax" text-anchor="middle" textLength="18.7" lengthAdjust="spacingAndGlyphs">0.6</text>
<line x1="506" y1="90.53" x2="518.7" y2="90.53" stroke="#000" stroke-width="1.05"/>
<text transform="translate(502.4 90.28) rotate(-90)" class="ax" text-anchor="middle" textLength="18.7" lengthAdjust="spacingAndGlyphs">0.8</text>
<line x1="506" y1="53.55" x2="518.7" y2="53.55" stroke="#000" stroke-width="1.05"/>
<text transform="translate(502.4 53.3) rotate(-90)" class="ax" text-anchor="middle" textLength="18.7" lengthAdjust="spacingAndGlyphs">1.0</text>
<text x="650.9" y="321.3" class="lab" text-anchor="middle">Lag</text>
<text transform="translate(435.8 144.2) rotate(-90)" class="lab" text-anchor="middle" textLength="163" lengthAdjust="spacing">ACF of the ensemble&#8217;s</text>
<text transform="translate(455 144.4) rotate(-90)" class="lab" text-anchor="middle" textLength="123.7" lengthAdjust="spacing">distance variance</text>
</svg>
</body></html>
